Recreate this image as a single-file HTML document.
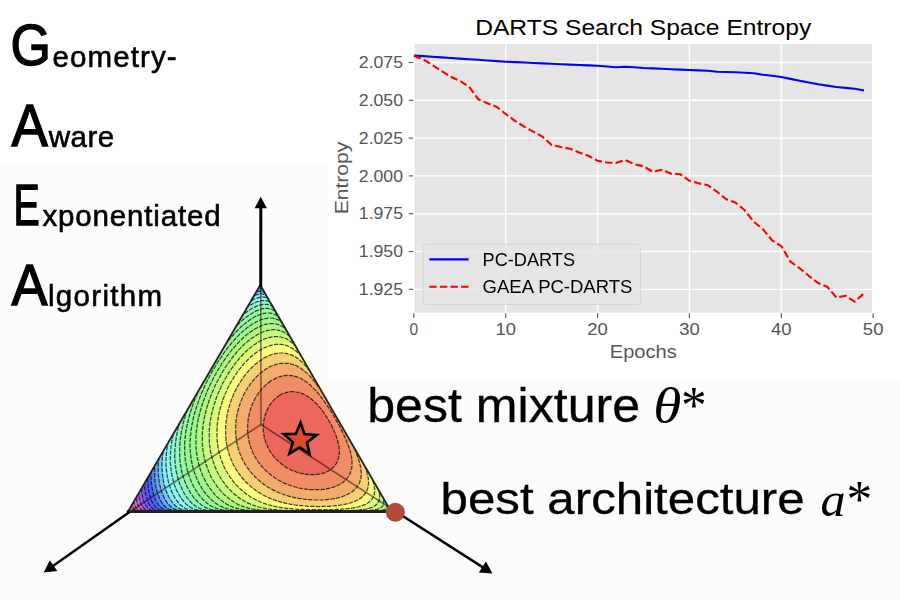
<!DOCTYPE html>
<html><head><meta charset="utf-8"><style>
html,body{margin:0;padding:0;background:#fff;}
body{width:900px;height:600px;overflow:hidden;position:relative;}
svg{position:absolute;left:0;top:0;display:block;}
</style></head><body>
<svg width="900" height="600" viewBox="0 0 900 600">
<rect x="0" y="0" width="900" height="600" fill="#ffffff"/>
<rect x="0" y="163" width="900" height="437" fill="#fcfcfc"/>
<defs><clipPath id="tc"><polygon points="260,285.5 128,511.5 391,511.5"/></clipPath></defs>
<g clip-path="url(#tc)">
<rect x="115" y="270" width="290" height="255" fill="#f05f8c"/>
<path d="M115.0 270.0 115.0 500.7 115.7 500.7 117.0 501.3 118.0 501.3 118.3 501.7 119.0 501.7 120.3 502.3 121.3 502.3 121.7 502.7 122.3 502.7 123.7 503.3 124.7 503.3 126.0 504.0 127.0 504.0 127.3 504.3 128.3 504.3 129.7 505.0 130.7 505.0 132.0 506.0 132.0 506.7 132.7 507.3 133.0 508.3 134.0 509.3 136.3 510.7 137.3 510.7 137.7 511.0 140.0 511.0 140.3 511.3 146.0 511.3 146.3 511.7 146.3 512.3 146.0 512.7 146.0 513.7 145.7 514.0 145.7 515.0 145.3 515.3 145.3 516.3 145.0 516.7 145.0 517.7 144.3 519.0 144.3 520.0 144.0 520.3 144.0 521.3 143.7 521.7 143.7 522.7 143.3 523.0 143.3 524.0 143.0 524.7 404.7 524.7 404.7 270.0Z" fill="#e664b4"/>
<path d="M115.0 270.0 115.0 496.0 115.7 496.0 116.0 496.3 116.7 496.3 117.0 496.7 117.7 496.7 118.0 497.0 118.7 497.0 119.0 497.3 119.7 497.3 120.0 497.7 120.7 497.7 121.0 498.0 121.7 498.0 123.0 498.7 124.0 498.7 124.3 499.0 125.0 499.0 125.3 499.3 126.0 499.3 126.3 499.7 127.0 499.7 128.3 500.3 129.3 500.3 129.7 500.7 130.3 500.7 130.7 501.0 133.3 501.7 134.0 502.7 134.7 505.3 135.7 507.3 138.0 509.7 139.3 510.3 141.3 510.7 141.7 511.0 144.0 511.0 144.3 511.3 150.3 511.3 150.7 511.7 150.7 512.7 150.3 513.0 150.0 515.3 149.3 516.7 149.3 517.7 149.0 518.0 149.0 519.0 148.7 519.3 148.7 520.3 148.3 520.7 148.3 521.7 148.0 522.0 148.0 523.0 147.7 523.3 147.7 524.3 147.3 524.7 404.7 524.7 404.7 270.0Z" fill="#d269dc"/>
<path d="M115.0 270.0 115.0 490.7 115.3 491.0 116.0 491.0 116.3 491.3 117.0 491.3 117.3 491.7 118.0 491.7 118.3 492.0 119.0 492.0 119.3 492.3 120.0 492.3 120.3 492.7 121.0 492.7 121.3 493.0 122.0 493.0 122.3 493.3 123.0 493.3 123.3 493.7 124.0 493.7 124.3 494.0 125.0 494.0 125.3 494.3 126.0 494.3 126.3 494.7 127.0 494.7 127.3 495.0 128.0 495.0 128.3 495.3 129.0 495.3 129.3 495.7 130.0 495.7 130.3 496.0 131.0 496.0 131.3 496.3 132.0 496.3 132.3 496.7 133.0 496.7 133.3 497.0 134.0 497.0 134.3 497.3 135.7 497.7 136.3 498.3 136.3 500.0 136.7 500.3 137.0 502.7 138.0 504.7 138.0 505.3 138.7 506.0 139.0 507.0 140.0 508.0 140.0 508.3 141.7 509.7 143.0 510.3 143.7 510.3 144.0 510.7 145.3 510.7 145.7 511.0 148.3 511.0 148.7 511.3 155.0 511.3 155.3 511.7 155.3 512.7 155.0 513.0 155.0 514.0 154.3 515.3 154.3 516.3 154.0 516.7 154.0 517.7 153.7 518.0 153.7 519.0 153.3 519.3 153.3 520.7 153.0 521.0 153.0 522.0 152.7 522.3 152.3 524.7 404.7 524.7 404.7 270.0Z" fill="#be64e6"/>
<path d="M115.0 270.0 115.0 485.3 116.3 485.7 116.7 486.0 117.3 486.0 118.3 486.7 119.0 486.7 119.3 487.0 120.0 487.0 120.3 487.3 121.0 487.3 121.3 487.7 122.0 487.7 122.3 488.0 123.0 488.0 123.3 488.3 124.0 488.3 124.3 488.7 125.0 488.7 125.3 489.0 126.0 489.0 126.3 489.3 127.0 489.3 127.3 489.7 128.0 489.7 128.3 490.0 129.0 490.0 129.3 490.3 130.0 490.3 130.3 490.7 131.0 490.7 131.3 491.0 132.0 491.0 132.3 491.3 133.0 491.3 133.3 491.7 134.0 491.7 134.3 492.0 135.0 492.0 135.3 492.3 138.0 493.0 138.7 493.7 138.7 494.7 139.0 495.0 139.0 497.0 139.3 497.3 139.3 498.7 139.7 499.0 140.0 501.3 141.0 503.3 141.0 504.0 141.7 505.3 143.0 507.0 143.0 507.3 145.7 509.7 147.0 510.0 147.3 510.3 148.0 510.3 148.3 510.7 149.7 510.7 150.0 511.0 153.0 511.0 153.3 511.3 160.0 511.3 160.3 511.7 160.3 512.3 160.0 512.7 160.0 513.7 159.7 514.0 159.7 515.0 159.3 515.3 159.3 516.3 159.0 516.7 159.0 517.7 158.7 518.0 158.7 519.0 158.3 519.3 158.3 520.3 158.0 520.7 158.0 521.7 157.7 522.0 157.7 523.0 157.3 523.3 157.3 524.3 157.0 524.7 404.7 524.7 404.7 270.0Z" fill="#9b5ff0"/>
<path d="M115.0 270.0 115.0 479.7 116.3 480.0 116.7 480.3 117.3 480.3 117.7 480.7 118.3 480.7 118.7 481.0 119.3 481.0 119.7 481.3 120.3 481.3 120.7 481.7 121.3 481.7 121.7 482.0 122.3 482.0 122.7 482.3 123.3 482.3 123.7 482.7 124.3 482.7 124.7 483.0 125.3 483.0 125.7 483.3 126.3 483.3 126.7 483.7 127.3 483.7 127.7 484.0 128.3 484.0 128.7 484.3 129.3 484.3 129.7 484.7 130.3 484.7 130.7 485.0 131.3 485.0 131.7 485.3 132.3 485.3 132.7 485.7 133.3 485.7 133.7 486.0 134.3 486.0 134.7 486.3 135.3 486.3 135.7 486.7 136.3 486.7 136.7 487.0 137.3 487.0 137.7 487.3 138.3 487.3 138.7 487.7 139.3 487.7 139.7 488.0 140.3 488.0 140.7 488.3 141.3 488.3 141.7 488.7 141.7 492.3 142.0 492.7 142.0 494.7 142.3 495.0 142.3 496.3 142.7 496.7 142.7 498.0 143.3 499.3 143.3 500.3 143.7 500.7 143.7 501.3 144.3 502.3 144.3 503.0 145.0 504.3 145.7 505.0 146.0 506.0 147.3 507.3 147.7 508.0 148.0 508.0 150.0 509.7 151.3 510.0 151.7 510.3 152.3 510.3 152.7 510.7 154.0 510.7 154.3 511.0 157.7 511.0 158.0 511.3 165.3 511.3 165.7 511.7 165.3 512.0 165.3 513.0 165.0 513.3 165.0 514.3 164.7 514.7 164.7 515.7 164.3 516.0 164.3 517.0 164.0 517.3 164.0 518.7 163.7 519.0 163.7 520.0 163.3 520.3 163.3 521.3 163.0 521.7 163.0 522.7 162.7 523.0 162.7 524.0 162.3 524.7 404.7 524.7 404.7 270.0Z" fill="#735af5"/>
<path d="M115.0 270.0 115.0 473.7 116.3 474.0 116.7 474.3 117.3 474.3 117.7 474.7 118.3 474.7 118.7 475.0 119.3 475.0 119.7 475.3 120.3 475.3 120.7 475.7 121.3 475.7 121.7 476.0 122.3 476.0 122.7 476.3 123.3 476.3 123.7 476.7 124.3 476.7 124.7 477.0 125.3 477.0 125.7 477.3 126.3 477.3 126.7 477.7 127.3 477.7 127.7 478.0 128.3 478.0 128.7 478.3 129.3 478.3 129.7 478.7 130.3 478.7 130.7 479.0 131.3 479.0 131.7 479.3 132.3 479.3 132.7 479.7 133.3 479.7 133.7 480.0 134.3 480.0 134.7 480.3 135.3 480.3 135.7 480.7 136.3 480.7 136.7 481.0 137.7 481.0 138.0 481.3 138.7 481.3 139.0 481.7 139.7 481.7 140.0 482.0 140.7 482.0 141.0 482.3 141.7 482.3 142.0 482.7 142.7 482.7 143.0 483.0 144.3 483.3 144.7 483.7 144.7 489.0 145.0 489.3 145.0 491.7 145.3 492.0 145.3 493.7 145.7 494.0 145.7 495.0 146.0 495.3 146.3 497.7 146.7 498.0 147.3 500.7 149.3 504.7 151.3 507.0 151.3 507.3 152.0 507.7 153.3 509.0 155.3 510.0 157.3 510.3 157.7 510.7 159.0 510.7 159.3 511.0 162.7 511.0 163.0 511.3 170.7 511.3 171.0 511.7 171.0 512.7 170.7 513.0 170.7 514.0 170.3 514.3 170.3 515.3 170.0 515.7 170.0 516.7 169.7 517.0 169.7 518.0 169.3 518.3 169.3 519.3 169.0 519.7 169.0 520.7 168.7 521.0 168.7 522.0 168.3 522.3 168.3 523.7 168.0 524.0 168.0 524.7 404.7 524.7 404.7 270.0Z" fill="#505cf5"/>
<path d="M115.0 270.0 115.0 467.7 115.7 467.7 117.0 468.3 118.0 468.3 118.3 468.7 119.0 468.7 119.3 469.0 120.0 469.0 120.3 469.3 121.0 469.3 121.3 469.7 122.0 469.7 122.3 470.0 123.0 470.0 124.3 470.7 125.3 470.7 125.7 471.0 126.3 471.0 126.7 471.3 127.3 471.3 127.7 471.7 128.3 471.7 128.7 472.0 129.3 472.0 130.7 472.7 131.7 472.7 132.0 473.0 132.7 473.0 133.0 473.3 133.7 473.3 134.0 473.7 134.7 473.7 135.0 474.0 135.7 474.0 136.0 474.3 136.7 474.3 138.0 475.0 139.0 475.0 139.3 475.3 140.0 475.3 140.3 475.7 141.0 475.7 141.3 476.0 142.0 476.0 143.3 476.7 144.3 476.7 144.7 477.0 147.3 477.7 147.7 478.0 147.7 483.3 148.0 483.7 148.0 487.0 148.3 487.3 148.3 489.7 148.7 490.0 148.7 491.3 149.0 491.7 149.0 493.0 149.3 493.3 149.7 495.7 150.0 496.0 150.7 498.7 151.3 499.7 151.3 500.3 152.7 503.0 153.3 503.7 153.7 504.7 154.7 505.7 154.7 506.0 156.7 508.0 157.0 508.0 158.7 509.3 160.0 509.7 160.3 510.0 161.0 510.0 161.3 510.3 164.0 510.7 164.3 511.0 168.0 511.0 168.3 511.3 176.7 511.3 177.0 511.7 176.7 512.3 176.7 513.3 176.3 513.7 176.3 514.7 176.0 515.0 176.0 516.0 175.7 516.3 175.7 517.3 175.3 517.7 175.3 518.7 175.0 519.0 175.0 520.0 174.7 520.3 174.7 521.7 174.3 522.0 174.0 524.3 173.7 524.7 404.7 524.7 404.7 270.0Z" fill="#4a64f2"/>
<path d="M115.0 270.0 115.0 461.0 115.3 461.3 116.0 461.3 117.3 462.0 118.3 462.0 118.7 462.3 119.3 462.3 120.7 463.0 121.7 463.0 122.0 463.3 122.7 463.3 124.0 464.0 125.0 464.0 125.3 464.3 126.0 464.3 126.3 464.7 127.0 464.7 128.3 465.3 129.3 465.3 129.7 465.7 130.3 465.7 131.7 466.3 132.7 466.3 133.0 466.7 133.7 466.7 135.0 467.3 136.0 467.3 136.3 467.7 137.0 467.7 138.3 468.3 139.3 468.3 139.7 468.7 140.3 468.7 141.7 469.3 142.7 469.3 143.0 469.7 143.7 469.7 145.0 470.3 146.0 470.3 146.3 470.7 147.0 470.7 148.3 471.3 150.3 471.7 151.0 472.3 151.0 480.0 151.3 480.3 151.3 484.0 151.7 484.3 151.7 486.3 152.0 486.7 152.0 488.3 152.3 488.7 152.7 491.7 153.3 493.0 153.3 494.0 153.7 494.3 154.3 497.0 155.0 498.0 155.0 498.7 157.0 502.7 157.7 503.3 158.3 504.7 161.7 508.0 165.3 510.0 166.3 510.0 166.7 510.3 167.7 510.3 168.0 510.7 169.7 510.7 170.0 511.0 173.7 511.0 174.0 511.3 183.0 511.3 183.3 511.7 183.0 512.0 183.0 513.0 182.7 513.3 182.7 514.3 182.3 514.7 182.3 515.7 182.0 516.0 182.0 517.0 181.7 517.3 181.7 518.3 181.3 518.7 181.3 519.7 181.0 520.0 181.0 521.0 180.7 521.3 180.7 522.3 180.3 522.7 180.0 524.7 404.7 524.7 404.7 270.0 269.3 270.0 267.3 274.0 266.7 274.7 264.3 279.7 263.7 280.3 261.3 285.3 260.3 286.3 259.7 286.3 259.0 285.0 258.3 284.3 254.0 275.7 253.3 275.0 251.7 271.3 250.7 270.0Z" fill="#5582f2"/>
<path d="M115.0 270.0 115.0 454.3 116.3 455.0 117.3 455.0 118.7 455.7 119.7 455.7 121.0 456.3 122.0 456.3 123.3 457.0 124.3 457.0 125.7 457.7 126.7 457.7 128.0 458.3 129.0 458.3 130.3 459.0 131.3 459.0 132.7 459.7 133.7 459.7 134.0 460.0 136.0 460.3 137.3 461.0 138.3 461.0 139.7 461.7 142.0 462.0 143.3 462.7 144.3 462.7 144.7 463.0 146.7 463.3 148.0 464.0 149.0 464.0 150.3 464.7 152.7 465.0 154.7 466.0 154.7 479.0 155.0 479.3 155.0 482.3 155.3 482.7 155.3 484.3 155.7 484.7 155.7 486.3 156.0 486.7 156.0 488.0 156.3 488.3 156.7 490.7 157.3 492.0 157.7 494.0 159.0 496.7 159.0 497.3 161.0 501.3 161.7 502.0 162.3 503.3 163.3 504.3 163.3 504.7 166.0 507.3 166.3 507.3 167.3 508.3 170.0 509.7 170.7 509.7 172.0 510.3 173.3 510.3 173.7 510.7 175.3 510.7 175.7 511.0 180.0 511.0 180.3 511.3 189.7 511.3 190.0 512.0 189.3 513.3 189.3 514.3 189.0 514.7 189.0 515.7 188.7 516.0 188.7 517.0 188.3 517.3 188.3 518.3 188.0 518.7 188.0 519.7 187.7 520.0 187.3 522.3 186.7 523.7 186.7 524.7 404.7 524.7 404.7 270.0 272.7 270.0 271.3 273.0 270.7 273.7 264.7 285.7 262.0 288.7 258.3 288.7 255.7 286.0 247.7 270.0Z" fill="#64a5f6"/>
<path d="M115.0 270.0 115.0 447.7 117.0 448.0 117.3 448.3 118.3 448.3 118.7 448.7 120.7 449.0 121.0 449.3 122.0 449.3 122.3 449.7 123.3 449.7 123.7 450.0 124.7 450.0 126.0 450.7 127.0 450.7 127.3 451.0 128.3 451.0 128.7 451.3 131.0 451.7 132.3 452.3 133.3 452.3 133.7 452.7 134.7 452.7 135.0 453.0 137.3 453.3 138.7 454.0 139.7 454.0 140.0 454.3 141.0 454.3 141.3 454.7 142.3 454.7 142.7 455.0 143.7 455.0 144.0 455.3 145.0 455.3 145.3 455.7 147.7 456.0 149.0 456.7 150.0 456.7 150.3 457.0 151.3 457.0 151.7 457.3 152.7 457.3 153.0 457.7 154.0 457.7 154.3 458.0 155.3 458.0 155.7 458.3 158.0 458.7 158.7 459.3 158.7 461.7 158.3 462.0 158.3 476.0 158.7 476.3 158.7 479.0 159.0 479.3 159.3 483.3 159.7 483.7 159.7 485.0 160.0 485.3 160.0 486.3 160.3 486.7 160.7 489.0 161.0 489.3 161.0 490.0 161.3 490.3 162.0 493.0 162.7 494.0 162.7 494.7 163.7 496.3 163.7 497.0 164.3 498.3 165.0 499.0 165.7 500.7 166.3 501.3 167.0 502.7 170.7 506.7 171.0 506.7 173.0 508.3 175.0 509.3 175.7 509.3 176.7 510.0 177.7 510.0 178.0 510.3 179.3 510.3 179.7 510.7 181.7 510.7 182.0 511.0 186.3 511.0 186.7 511.3 196.7 511.3 197.0 511.7 197.0 512.3 196.7 512.7 196.3 515.0 195.7 516.3 195.7 517.3 195.3 517.7 195.3 518.7 195.0 519.0 195.0 520.0 194.3 521.3 194.3 522.3 194.0 522.7 193.7 524.7 404.7 524.7 404.7 270.0 276.3 270.0 268.7 285.7 263.3 291.7 263.0 291.3 261.0 291.3 260.7 291.0 260.0 291.0 259.7 291.3 257.7 291.3 257.3 291.7 256.3 291.7 255.3 290.7 255.3 290.3 251.0 286.0 243.3 270.0Z" fill="#73c8f8"/>
<path d="M115.0 270.0 115.0 440.3 115.3 440.7 116.3 440.7 116.7 441.0 117.7 441.0 118.0 441.3 119.0 441.3 119.3 441.7 120.7 441.7 121.0 442.0 122.0 442.0 122.3 442.3 123.3 442.3 123.7 442.7 124.7 442.7 125.0 443.0 126.0 443.0 126.3 443.3 127.3 443.3 127.7 443.7 129.0 443.7 129.3 444.0 130.3 444.0 130.7 444.3 131.7 444.3 132.0 444.7 133.0 444.7 133.3 445.0 134.3 445.0 134.7 445.3 136.0 445.3 136.3 445.7 137.3 445.7 137.7 446.0 138.7 446.0 139.0 446.3 140.0 446.3 140.3 446.7 141.7 446.7 142.0 447.0 143.0 447.0 143.3 447.3 144.3 447.3 144.7 447.7 146.0 447.7 146.3 448.0 147.3 448.0 147.7 448.3 148.7 448.3 149.0 448.7 150.3 448.7 150.7 449.0 151.7 449.0 152.0 449.3 153.3 449.3 153.7 449.7 154.7 449.7 155.0 450.0 156.3 450.0 156.7 450.3 157.7 450.3 158.0 450.7 159.3 450.7 159.7 451.0 160.7 451.0 161.0 451.3 162.3 451.3 163.0 452.0 163.0 453.3 162.7 453.7 162.7 456.3 162.3 456.7 162.3 460.7 162.0 461.0 162.0 470.3 162.3 470.7 162.3 474.3 162.7 474.7 162.7 477.0 163.0 477.3 163.0 479.0 163.3 479.3 163.7 482.7 164.0 483.0 164.3 485.3 165.0 486.7 165.0 487.7 165.3 488.0 166.0 490.7 166.7 491.7 166.7 492.3 167.7 494.0 167.7 494.7 169.0 497.3 169.7 498.0 170.0 499.0 170.7 499.7 171.0 500.7 172.0 501.7 172.0 502.0 176.0 506.3 176.3 506.3 178.3 508.0 181.0 509.3 181.7 509.3 183.0 510.0 184.0 510.0 184.3 510.3 185.7 510.3 186.0 510.7 188.0 510.7 188.3 511.0 193.3 511.0 193.7 511.3 204.7 511.3 205.0 511.7 204.7 512.0 204.7 512.7 204.0 514.0 204.0 515.0 203.7 515.3 203.3 517.3 202.7 518.7 202.3 521.0 202.0 521.3 201.7 523.3 201.0 524.7 404.7 524.7 404.7 270.0 280.3 270.0 274.0 282.7 274.0 283.3 272.7 286.0 269.7 289.0 269.7 289.3 268.0 291.0 268.0 291.3 266.7 292.7 266.7 293.0 265.3 294.7 264.7 294.3 263.7 294.3 263.3 294.0 259.3 294.0 259.0 294.3 257.7 294.3 257.3 294.7 256.7 294.7 256.3 295.0 255.7 295.0 254.3 295.7 253.7 295.3 253.7 295.0 249.3 290.3 249.3 290.0 245.0 286.0 244.3 284.7 244.3 284.0 243.0 281.7 243.0 281.0 241.7 278.7 241.7 278.0 240.3 275.7 240.3 275.0 239.0 272.7 239.0 272.0 238.0 270.0Z" fill="#84f0f8"/>
<path d="M115.0 270.0 115.0 433.0 115.7 433.3 118.3 433.7 118.7 434.0 121.7 434.3 122.0 434.7 123.0 434.7 123.3 435.0 124.7 435.0 125.0 435.3 128.0 435.7 128.3 436.0 129.3 436.0 129.7 436.3 131.0 436.3 131.3 436.7 132.7 436.7 133.0 437.0 134.3 437.0 134.7 437.3 137.7 437.7 138.0 438.0 139.0 438.0 139.3 438.3 140.7 438.3 141.0 438.7 142.3 438.7 142.7 439.0 144.0 439.0 144.3 439.3 146.0 439.3 146.3 439.7 147.7 439.7 148.0 440.0 149.3 440.0 149.7 440.3 151.0 440.3 151.3 440.7 152.7 440.7 153.0 441.0 154.3 441.0 154.7 441.3 156.3 441.3 156.7 441.7 158.0 441.7 158.3 442.0 160.0 442.0 160.3 442.3 161.7 442.3 162.0 442.7 163.7 442.7 164.0 443.0 165.3 443.0 165.7 443.3 167.3 443.3 167.7 443.7 167.7 445.0 167.3 445.3 167.3 447.3 167.0 447.7 167.0 449.7 166.7 450.0 166.7 452.7 166.3 453.0 166.3 457.7 166.0 458.0 166.0 466.3 166.3 466.7 166.3 470.7 166.7 471.0 166.7 473.3 167.0 473.7 167.3 477.7 167.7 478.0 167.7 479.0 168.0 479.3 168.0 480.7 168.3 481.0 168.7 483.3 169.0 483.7 169.0 484.3 169.3 484.7 169.3 485.3 169.7 485.7 169.7 486.3 170.0 486.7 170.7 489.3 171.3 490.3 171.3 491.0 174.3 497.0 175.0 497.7 175.3 498.7 176.3 499.7 176.3 500.0 178.3 502.3 178.3 502.7 181.3 505.7 181.7 505.7 182.7 506.7 183.0 506.7 184.7 508.0 186.7 509.0 187.3 509.0 187.7 509.3 188.3 509.3 189.7 510.0 190.7 510.0 191.0 510.3 192.7 510.3 193.0 510.7 195.3 510.7 195.7 511.0 200.7 511.0 201.0 511.3 213.0 511.3 213.3 511.7 212.7 513.0 212.7 514.0 212.3 514.3 212.3 515.0 212.0 515.3 212.0 516.0 211.3 517.3 211.3 518.3 211.0 518.7 211.0 519.3 210.3 520.7 210.3 521.7 210.0 522.0 209.3 524.7 404.7 524.7 404.7 270.0 284.7 270.0 277.0 286.0 272.7 290.7 272.7 291.0 269.0 295.3 268.3 296.7 267.0 298.0 266.7 297.7 266.0 297.7 265.7 297.3 264.3 297.3 264.0 297.0 261.3 297.0 261.0 297.3 259.3 297.3 259.0 297.7 258.0 297.7 257.7 298.0 255.0 298.7 251.3 300.7 250.3 299.7 250.3 299.3 249.3 298.3 249.3 298.0 248.3 297.0 248.3 296.7 247.3 295.7 247.3 295.3 245.7 293.7 245.7 293.3 238.7 286.3 238.0 286.0 237.7 284.3 237.0 283.3 237.0 282.7 236.3 281.7 236.3 281.0 234.7 277.7 234.7 277.0 234.0 276.0 234.0 275.3 233.3 274.3 233.3 273.7 232.7 272.7 232.7 272.0 231.7 270.0Z" fill="#8cf8f0"/>
<path d="M115.0 270.0 115.0 425.3 115.7 425.3 116.0 425.7 117.7 425.7 118.0 426.0 119.3 426.0 119.7 426.3 121.0 426.3 121.3 426.7 123.0 426.7 123.3 427.0 124.7 427.0 125.0 427.3 126.7 427.3 127.0 427.7 128.3 427.7 128.7 428.0 130.3 428.0 130.7 428.3 132.3 428.3 132.7 428.7 136.3 429.0 136.7 429.3 138.0 429.3 138.3 429.7 140.0 429.7 140.3 430.0 142.3 430.0 142.7 430.3 144.3 430.3 144.7 430.7 146.3 430.7 146.7 431.0 148.7 431.0 149.0 431.3 150.7 431.3 151.0 431.7 153.0 431.7 153.3 432.0 155.3 432.0 155.7 432.3 157.7 432.3 158.0 432.7 160.0 432.7 160.3 433.0 162.3 433.0 162.7 433.3 165.0 433.3 165.3 433.7 167.7 433.7 168.0 434.0 170.3 434.0 170.7 434.3 172.7 434.3 173.0 434.7 172.7 437.3 172.3 437.7 172.3 439.0 172.0 439.3 172.0 441.0 171.7 441.3 171.7 443.0 171.3 443.3 171.3 445.3 171.0 445.7 171.0 448.3 170.7 448.7 170.7 452.3 170.3 452.7 170.3 464.3 170.7 464.7 170.7 468.0 171.0 468.3 171.3 473.0 171.7 473.3 172.0 476.3 172.3 476.7 172.3 477.7 172.7 478.0 173.0 480.3 173.7 481.7 173.7 482.7 174.0 483.0 174.7 485.7 175.3 486.7 175.3 487.3 176.0 488.3 176.0 489.0 179.0 495.0 179.7 495.7 180.0 496.7 180.7 497.3 181.3 498.7 183.7 501.3 183.7 501.7 187.0 505.0 187.3 505.0 188.3 506.0 188.7 506.0 190.3 507.3 193.7 509.0 194.3 509.0 195.7 509.7 196.7 509.7 197.0 510.0 198.0 510.0 198.3 510.3 200.0 510.3 200.3 510.7 202.7 510.7 203.0 511.0 208.7 511.0 209.0 511.3 222.0 511.3 222.3 511.7 222.3 512.3 222.0 512.7 222.0 513.3 221.7 513.7 221.7 514.3 221.3 514.7 221.3 515.3 221.0 515.7 221.0 516.3 220.7 516.7 220.7 517.3 220.3 517.7 220.3 518.3 220.0 518.7 220.0 519.3 219.7 519.7 219.7 520.3 219.3 520.7 219.3 521.3 219.0 521.7 219.0 522.3 218.7 522.7 218.7 523.3 218.0 524.7 404.7 524.7 404.7 270.0 289.3 270.0 287.0 274.3 287.0 275.0 284.7 279.3 284.7 280.0 282.7 283.7 282.7 284.3 282.0 285.7 276.0 292.3 276.0 292.7 273.0 296.3 272.3 297.7 271.3 298.7 271.3 299.0 269.3 301.7 268.0 301.3 267.7 301.0 267.0 301.0 266.7 300.7 260.7 300.7 260.3 301.0 259.3 301.0 259.0 301.3 256.3 302.0 255.3 302.7 254.7 302.7 252.7 303.7 252.0 304.3 250.3 305.0 247.7 307.0 247.0 306.3 245.7 303.7 245.0 303.0 245.0 302.7 244.3 302.0 244.3 301.7 243.7 301.0 242.3 298.7 241.3 297.7 241.3 297.3 240.3 296.3 240.3 296.0 239.0 294.7 239.0 294.3 236.7 292.0 236.7 291.7 230.3 285.7 230.0 284.3 229.7 284.0 229.7 283.3 229.3 283.0 229.3 282.3 229.0 282.0 229.0 281.3 228.3 280.3 228.3 279.7 228.0 279.3 227.3 276.7 226.7 275.7 226.3 274.0 225.7 273.0 225.7 272.3 225.3 272.0 225.3 271.3 224.7 270.0Z" fill="#8ef8d7"/>
<path d="M115.0 270.0 115.0 417.3 116.0 417.3 116.3 417.7 118.3 417.7 118.7 418.0 120.3 418.0 120.7 418.3 122.7 418.3 123.0 418.7 125.0 418.7 125.3 419.0 127.3 419.0 127.7 419.3 129.7 419.3 130.0 419.7 134.7 420.0 135.0 420.3 137.3 420.3 137.7 420.7 140.0 420.7 140.3 421.0 145.7 421.3 146.0 421.7 149.0 421.7 149.3 422.0 152.0 422.0 152.3 422.3 155.7 422.3 156.0 422.7 159.3 422.7 159.7 423.0 163.7 423.0 164.0 423.3 168.7 423.3 169.0 423.7 175.7 423.7 176.0 424.0 178.7 424.0 179.0 424.3 179.0 425.3 178.7 425.7 178.7 426.7 178.3 427.0 178.3 428.0 178.0 428.3 178.0 429.3 177.7 429.7 177.7 431.0 177.3 431.3 177.3 432.7 177.0 433.0 176.7 436.0 176.3 436.3 176.0 440.3 175.7 440.7 175.7 443.0 175.3 443.3 175.3 446.3 175.0 446.7 174.7 457.7 175.0 458.0 175.0 463.0 175.3 463.3 175.3 466.3 175.7 466.7 176.0 470.7 176.3 471.0 176.3 472.3 176.7 472.7 177.0 475.3 177.3 475.7 177.3 476.7 178.0 478.0 178.0 479.0 178.3 479.3 178.3 480.0 178.7 480.3 179.3 483.0 180.7 485.7 180.7 486.3 182.0 488.7 182.0 489.3 182.7 490.7 183.3 491.3 184.3 493.7 185.0 494.3 185.0 494.7 185.7 495.3 187.0 497.7 189.7 500.7 189.7 501.0 192.3 503.7 192.7 503.7 194.3 505.3 194.7 505.3 195.3 506.0 195.7 506.0 196.3 506.7 197.3 507.0 198.7 508.0 199.3 508.0 202.0 509.3 203.0 509.3 203.3 509.7 204.3 509.7 204.7 510.0 205.7 510.0 206.0 510.3 208.0 510.3 208.3 510.7 211.0 510.7 211.3 511.0 217.7 511.0 218.0 511.3 232.3 511.3 232.7 511.7 232.7 512.3 232.0 513.3 231.7 515.0 231.0 516.0 230.7 517.7 230.0 518.7 230.0 519.3 229.0 521.3 229.0 522.0 228.7 522.3 228.7 523.0 228.3 523.3 228.0 524.7 397.7 524.7 396.7 523.3 396.3 522.3 391.7 515.7 391.3 514.7 390.7 514.0 389.3 511.7 389.7 511.3 404.7 511.3 404.7 270.0 294.0 270.0 291.3 275.3 291.3 276.0 290.0 278.3 290.0 279.0 288.7 281.3 288.7 282.0 287.3 284.3 287.0 285.7 284.7 288.0 284.7 288.3 282.3 290.7 282.3 291.0 279.7 294.0 279.7 294.3 278.7 295.3 277.3 297.7 276.3 298.7 276.3 299.0 275.0 300.7 274.7 301.7 273.3 303.3 273.0 304.3 271.7 306.0 270.0 305.0 268.0 304.7 267.7 304.3 262.7 304.3 262.3 304.7 259.7 305.0 259.3 305.3 256.7 306.0 252.0 308.3 251.3 309.0 250.3 309.3 249.7 310.0 248.3 310.7 247.3 311.7 247.0 311.7 246.0 312.7 245.7 312.7 244.7 313.7 244.3 313.7 243.0 315.0 242.3 314.3 241.7 313.0 241.7 312.3 238.3 305.7 237.7 305.0 237.0 303.3 235.7 301.7 235.3 300.7 234.7 300.0 234.0 298.7 233.0 297.7 233.0 297.3 232.0 296.3 232.0 296.0 231.0 295.0 231.0 294.7 229.0 292.7 229.0 292.3 222.0 285.7 222.0 285.0 221.3 283.7 221.3 282.7 221.0 282.3 221.0 281.7 220.7 281.3 220.7 280.7 220.3 280.3 220.3 279.7 219.7 278.3 219.7 277.3 219.3 277.0 219.3 276.3 219.0 276.0 219.0 275.3 218.7 275.0 218.7 274.3 218.3 274.0 218.3 273.3 218.0 273.0 218.0 272.3 217.7 272.0 217.7 271.3 217.0 270.0Z" fill="#92f8b9"/>
<path d="M115.0 270.0 115.0 409.0 117.0 409.0 117.3 409.3 120.0 409.3 120.3 409.7 123.0 409.7 123.3 410.0 126.3 410.0 126.7 410.3 130.0 410.3 130.3 410.7 133.7 410.7 134.0 411.0 137.7 411.0 138.0 411.3 142.7 411.3 143.0 411.7 148.7 411.7 149.0 412.0 158.3 412.0 158.7 412.3 168.3 412.3 168.7 412.0 176.7 412.0 177.0 411.7 181.3 411.7 181.7 411.3 184.7 411.3 185.0 411.0 186.3 411.0 186.7 411.3 186.3 412.0 186.3 413.0 186.0 413.3 186.0 414.0 185.7 414.3 185.7 415.0 185.0 416.3 185.0 417.3 184.3 418.7 184.3 419.7 183.7 421.0 183.7 422.0 183.3 422.3 183.0 424.7 182.7 425.0 182.7 426.3 182.3 426.7 182.0 429.3 181.7 429.7 181.7 431.0 181.3 431.3 181.0 435.0 180.7 435.3 180.7 437.3 180.3 437.7 180.3 440.3 180.0 440.7 180.0 444.0 179.7 444.3 179.7 458.7 180.0 459.0 180.0 462.0 180.3 462.3 180.3 464.7 180.7 465.0 180.7 466.7 181.0 467.0 181.0 468.3 181.3 468.7 181.3 470.0 181.7 470.3 181.7 471.7 182.0 472.0 182.0 473.0 182.7 474.3 182.7 475.3 183.0 475.7 183.0 476.3 183.3 476.7 183.3 477.3 183.7 477.7 183.7 478.3 184.0 478.7 184.7 481.3 186.3 484.7 186.3 485.3 188.7 490.0 189.3 490.7 190.7 493.3 192.3 495.3 193.0 496.7 194.3 498.0 194.3 498.3 199.7 503.7 200.0 503.7 201.3 505.0 201.7 505.0 203.3 506.3 207.3 508.3 208.0 508.3 208.3 508.7 209.0 508.7 209.3 509.0 210.0 509.0 211.3 509.7 212.7 509.7 213.0 510.0 214.3 510.0 214.7 510.3 216.7 510.3 217.0 510.7 220.0 510.7 220.3 511.0 227.3 511.0 227.7 511.3 244.3 511.3 244.7 511.7 242.7 515.7 242.7 516.3 241.3 518.7 241.3 519.3 240.3 521.0 240.3 521.7 239.3 523.3 239.0 524.7 393.0 524.7 393.0 524.3 392.0 523.3 392.0 523.0 390.3 521.0 389.7 519.7 388.7 518.7 388.0 517.3 387.0 516.3 386.3 515.0 383.7 511.7 384.0 511.3 390.7 511.3 391.0 511.0 391.7 511.0 392.0 511.3 404.7 511.3 404.7 270.0 299.0 270.0 296.7 274.7 296.7 275.3 295.7 277.0 295.7 277.7 294.7 279.3 294.7 280.0 293.7 281.7 293.7 282.3 292.7 284.0 292.7 284.7 292.0 286.0 289.0 289.0 289.0 289.3 287.0 291.3 287.0 291.7 285.7 293.0 285.7 293.3 283.7 295.7 283.7 296.0 279.7 301.7 278.3 304.3 277.7 305.0 275.3 309.7 274.3 310.7 271.3 309.0 270.3 309.0 270.0 308.7 268.3 308.7 268.0 308.3 265.0 308.3 264.7 308.7 262.7 308.7 262.3 309.0 261.3 309.0 261.0 309.3 258.3 310.0 257.3 310.7 256.7 310.7 253.3 312.3 252.7 313.0 251.7 313.3 251.0 314.0 249.0 315.0 248.0 316.0 247.7 316.0 246.7 317.0 246.3 317.0 245.3 318.0 245.0 318.0 243.3 319.7 243.0 319.7 236.7 325.7 236.0 325.3 235.7 323.0 235.3 322.7 235.3 322.0 235.0 321.7 235.0 321.0 234.7 320.7 234.7 320.0 234.3 319.7 234.3 319.0 234.0 318.7 234.0 318.0 233.7 317.7 233.7 317.0 233.3 316.7 232.7 314.0 232.0 313.0 232.0 312.3 229.3 307.0 229.3 306.3 228.3 305.0 227.0 302.0 226.3 301.3 226.0 300.3 225.3 299.7 224.0 297.3 223.0 296.3 223.0 296.0 222.0 295.0 222.0 294.7 220.3 293.0 220.3 292.7 213.0 285.7 212.7 283.0 212.0 281.7 212.0 280.7 211.7 280.3 211.7 279.3 211.3 279.0 211.0 276.7 210.3 275.3 210.3 274.3 209.7 273.0 209.7 272.0 209.3 271.7 209.3 270.7 209.0 270.0Z" fill="#96f8a0"/>
<path d="M115.0 270.0 115.0 400.0 115.7 400.3 120.3 400.3 120.7 400.7 126.3 400.7 126.7 401.0 135.7 401.0 136.0 401.3 148.7 401.3 149.0 401.0 156.7 401.0 157.0 400.7 161.3 400.7 161.7 400.3 165.0 400.3 165.3 400.0 170.7 399.7 171.0 399.3 172.7 399.3 173.0 399.0 174.7 399.0 175.0 398.7 176.7 398.7 177.0 398.3 180.0 398.0 180.3 397.7 181.3 397.7 181.7 397.3 182.7 397.3 183.0 397.0 184.0 397.0 184.3 396.7 186.7 396.3 187.0 396.0 187.7 396.0 188.0 395.7 188.7 395.7 189.0 395.3 189.7 395.3 190.0 395.0 192.7 394.3 193.7 393.7 194.3 393.7 197.0 392.3 197.7 392.7 196.7 394.7 196.7 395.3 195.7 397.0 195.7 397.7 195.0 398.7 195.0 399.3 194.0 401.3 193.7 403.0 193.0 404.0 193.0 404.7 192.7 405.0 192.7 405.7 192.3 406.0 192.3 406.7 192.0 407.0 192.0 407.7 191.7 408.0 191.7 408.7 191.3 409.0 191.3 409.7 191.0 410.0 191.0 410.7 190.3 412.0 190.3 413.0 189.7 414.3 189.7 415.3 189.0 416.7 189.0 417.7 188.7 418.0 188.7 419.0 188.3 419.3 188.3 420.3 188.0 420.7 188.0 421.7 187.7 422.0 187.7 423.0 187.3 423.3 187.3 424.7 187.0 425.0 187.0 426.3 186.7 426.7 186.7 428.0 186.3 428.3 186.3 430.0 186.0 430.3 186.0 432.0 185.7 432.3 185.3 437.3 185.0 437.7 185.0 441.3 184.7 441.7 184.7 454.3 185.0 454.7 185.0 458.0 185.3 458.3 185.3 460.7 185.7 461.0 185.7 463.0 186.0 463.3 186.0 464.7 186.3 465.0 186.7 468.0 187.0 468.3 187.3 470.7 188.0 472.0 188.0 473.0 188.3 473.3 188.3 474.0 188.7 474.3 188.7 475.0 189.0 475.3 189.7 478.0 191.0 480.7 191.0 481.3 194.3 488.0 195.0 488.7 195.3 489.7 196.0 490.3 196.0 490.7 196.7 491.3 198.0 493.7 199.0 494.7 199.0 495.0 200.0 496.0 200.0 496.3 202.3 498.7 202.3 499.0 206.7 503.0 207.0 503.0 208.0 504.0 208.3 504.0 211.0 506.0 214.3 507.7 215.0 507.7 216.0 508.3 216.7 508.3 218.0 509.0 219.0 509.0 219.3 509.3 220.3 509.3 220.7 509.7 221.7 509.7 222.0 510.0 223.7 510.0 224.0 510.3 226.3 510.3 226.7 510.7 230.0 510.7 230.3 511.0 238.3 511.0 238.7 511.3 258.3 511.3 258.7 512.0 257.7 513.3 257.0 515.0 256.3 515.7 255.3 518.0 254.7 518.7 251.7 524.7 385.7 524.7 384.0 523.0 384.0 522.7 382.7 521.3 382.7 521.0 381.3 519.7 381.3 519.3 379.7 517.7 379.7 517.3 375.7 513.0 375.7 512.7 374.7 511.7 375.0 511.3 386.7 511.3 387.0 511.0 389.7 511.0 390.0 510.7 404.7 510.7 404.7 270.0 304.0 270.0 303.3 271.3 303.3 272.0 302.7 273.0 302.7 273.7 301.0 277.0 301.0 277.7 300.3 278.7 300.3 279.3 299.3 281.0 299.3 281.7 298.7 282.7 298.7 283.3 298.0 284.3 297.7 285.7 291.7 292.3 291.7 292.7 290.7 293.7 290.7 294.0 289.7 295.0 289.0 296.3 287.3 298.3 287.0 299.3 285.7 301.0 285.3 302.0 283.7 304.3 283.0 306.0 282.3 306.7 277.7 316.0 277.3 316.0 275.7 314.7 274.3 314.3 272.3 313.3 271.0 313.3 270.7 313.0 265.7 313.0 265.3 313.3 263.7 313.3 263.3 313.7 262.3 313.7 262.0 314.0 259.3 314.7 258.3 315.3 257.7 315.3 254.3 317.0 253.7 317.7 252.7 318.0 252.0 318.7 251.0 319.0 250.3 319.7 249.0 320.3 248.0 321.3 247.7 321.3 246.7 322.3 246.3 322.3 245.0 323.7 244.7 323.7 242.7 325.7 242.3 325.7 233.7 334.3 233.7 334.7 231.3 337.0 231.3 337.3 228.0 341.0 228.0 341.3 226.7 343.0 226.3 342.7 226.3 339.7 226.0 339.3 226.0 334.3 225.7 334.0 225.7 331.0 225.3 330.7 225.0 326.3 224.7 326.0 224.7 324.7 224.3 324.3 224.3 323.0 224.0 322.7 224.0 321.3 223.7 321.0 223.7 320.0 223.3 319.7 223.3 318.7 223.0 318.3 222.7 316.0 222.3 315.7 222.3 315.0 222.0 314.7 222.0 314.0 221.7 313.7 221.7 313.0 221.3 312.7 220.7 310.0 220.0 309.0 220.0 308.3 219.3 307.3 219.3 306.7 216.3 300.7 215.7 300.0 215.3 299.0 214.7 298.3 213.3 296.0 211.0 293.3 211.0 293.0 204.7 286.7 204.3 286.7 203.7 286.0 203.7 285.0 203.3 284.7 203.3 283.0 203.0 282.7 203.0 281.3 202.7 281.0 202.7 279.7 202.3 279.3 202.3 278.3 202.0 278.0 201.7 275.0 201.3 274.7 201.3 273.7 201.0 273.3 201.0 272.3 200.7 272.0 200.7 270.7 200.3 270.0Z" fill="#98f894"/>
<path d="M309.3 270.0 309.0 271.3 308.3 272.3 308.3 273.0 307.7 274.0 307.7 274.7 307.0 275.7 306.7 277.3 306.0 278.3 306.0 279.0 304.7 281.7 304.7 282.3 304.3 282.7 304.3 283.3 303.7 284.3 303.3 285.7 297.7 292.0 297.7 292.3 296.7 293.3 296.7 293.7 295.7 294.7 295.7 295.0 294.7 296.0 294.7 296.3 292.7 299.0 292.3 300.0 291.7 300.7 291.3 301.7 289.7 304.0 288.0 307.7 287.3 308.3 285.3 312.3 285.3 313.0 283.0 317.3 283.0 318.0 281.7 320.3 281.3 321.7 281.0 322.0 278.3 320.0 277.0 319.3 276.3 319.3 275.3 318.7 272.7 318.3 272.3 318.0 267.7 318.0 267.3 318.3 264.0 318.7 263.7 319.0 263.0 319.0 262.7 319.3 260.0 320.0 257.7 321.3 256.3 321.7 255.7 322.3 254.0 323.0 253.3 323.7 252.3 324.0 251.7 324.7 249.3 326.0 248.3 327.0 248.0 327.0 247.0 328.0 246.7 328.0 245.0 329.7 244.7 329.7 242.3 332.0 242.0 332.0 235.3 338.7 235.3 339.0 231.0 343.7 231.0 344.0 227.0 348.7 227.0 349.0 225.0 351.3 224.3 352.7 223.3 353.7 223.3 354.0 222.7 354.7 222.7 355.0 217.3 362.7 217.0 363.7 216.3 364.3 216.0 365.3 215.3 366.0 215.0 367.0 213.3 369.3 211.0 374.0 210.3 374.7 204.3 386.7 204.3 387.3 203.0 389.7 203.0 390.3 201.0 394.3 201.0 395.0 199.7 397.7 199.3 399.3 198.7 400.3 198.7 401.0 198.3 401.3 197.7 404.0 196.7 406.0 196.7 407.0 196.3 407.3 196.3 408.0 196.0 408.3 196.0 409.0 195.3 410.3 195.3 411.3 194.7 412.7 194.7 413.7 194.0 415.0 194.0 416.0 193.7 416.3 193.7 417.3 193.3 417.7 193.3 419.0 193.0 419.3 193.0 420.3 192.7 420.7 192.7 422.0 192.3 422.3 192.3 423.7 192.0 424.0 192.0 425.3 191.7 425.7 191.7 427.3 191.3 427.7 191.3 429.3 191.0 429.7 190.7 435.0 190.3 435.3 190.3 440.0 190.0 440.3 190.0 449.3 190.3 449.7 190.3 453.7 190.7 454.0 190.7 456.7 191.0 457.0 191.0 459.0 191.3 459.3 191.3 461.0 191.7 461.3 191.7 462.7 192.0 463.0 192.0 464.3 192.3 464.7 192.3 465.7 192.7 466.0 193.0 468.3 193.3 468.7 193.3 469.3 194.0 470.7 194.0 471.7 195.0 473.7 195.3 475.3 196.7 478.0 196.7 478.7 200.0 485.3 200.7 486.0 201.0 487.0 201.7 487.7 201.7 488.0 202.3 488.7 202.3 489.0 203.0 489.7 204.3 492.0 205.7 493.3 205.7 493.7 207.0 495.0 207.0 495.3 212.7 501.0 213.0 501.0 215.7 503.3 216.0 503.3 217.7 504.7 219.3 505.3 220.0 506.0 221.3 506.7 222.0 506.7 223.7 507.7 224.3 507.7 224.7 508.0 225.3 508.0 225.7 508.3 226.3 508.3 227.7 509.0 230.3 509.3 230.7 509.7 232.0 509.7 232.3 510.0 237.0 510.3 237.3 510.7 241.7 510.7 242.0 511.0 251.3 511.0 251.7 511.3 277.0 511.3 277.3 511.7 273.3 516.3 273.3 516.7 272.3 517.7 272.3 518.0 271.0 519.3 270.3 520.7 269.3 521.7 269.3 522.0 267.3 524.7 373.7 524.7 365.0 516.0 364.7 516.0 362.0 513.3 361.7 513.3 360.0 511.7 360.3 511.3 379.3 511.3 379.7 511.0 385.0 511.0 385.3 510.7 386.7 510.7 387.0 510.3 387.7 510.3 389.0 509.7 389.7 509.0 396.3 509.0 396.7 509.3 404.7 509.3 404.7 270.0ZM115.0 270.0 115.0 391.0 131.7 391.0 132.0 390.7 138.7 390.7 139.0 390.3 143.3 390.3 143.7 390.0 146.7 390.0 147.0 389.7 149.7 389.7 150.0 389.3 152.3 389.3 152.7 389.0 154.7 389.0 155.0 388.7 158.7 388.3 159.0 388.0 160.3 388.0 160.7 387.7 162.0 387.7 162.3 387.3 163.7 387.3 164.0 387.0 165.0 387.0 165.3 386.7 166.3 386.7 166.7 386.3 169.0 386.0 170.3 385.3 171.3 385.3 171.7 385.0 172.3 385.0 172.7 384.7 173.3 384.7 173.7 384.3 176.3 383.7 177.3 383.0 178.0 383.0 179.0 382.3 179.7 382.3 182.0 381.0 182.7 381.0 184.7 380.0 185.3 379.3 187.7 378.3 188.3 377.7 188.7 377.7 189.3 377.0 191.7 375.7 192.7 374.7 193.0 374.7 194.0 373.7 194.3 373.7 197.3 370.7 197.7 370.7 198.0 370.0 202.0 365.7 202.0 365.3 203.7 363.3 205.0 360.7 205.7 360.0 207.3 356.7 207.3 356.0 208.3 354.3 208.3 353.7 208.7 353.3 208.7 352.7 209.0 352.3 209.0 351.7 209.3 351.3 209.3 350.7 210.0 349.3 210.0 348.3 210.3 348.0 210.7 345.7 211.0 345.3 211.3 342.0 211.7 341.7 211.7 339.7 212.0 339.3 212.0 336.3 212.3 336.0 212.3 325.7 212.0 325.3 212.0 322.0 211.7 321.7 211.7 319.7 211.3 319.3 211.0 315.7 210.7 315.3 210.7 314.3 210.3 314.0 210.3 313.0 210.0 312.7 209.7 310.3 209.3 310.0 208.7 307.3 208.0 306.3 207.7 304.7 204.7 298.7 204.0 298.0 203.0 296.0 202.0 295.0 202.0 294.7 201.0 293.7 201.0 293.3 199.7 292.0 199.7 291.7 195.3 287.3 195.0 287.3 193.7 286.0 193.7 285.0 193.3 284.7 193.3 282.3 193.0 282.0 193.0 279.7 192.7 279.3 192.7 277.7 192.3 277.3 192.3 275.3 192.0 275.0 192.0 273.3 191.7 273.0 191.7 271.3 191.3 271.0 191.3 270.0Z" fill="#a0f88a"/>
<path d="M289.7 524.7 354.3 524.7 353.0 524.0 351.3 522.7 350.3 522.3 349.7 521.7 347.3 520.7 346.7 520.0 343.3 518.3 342.7 518.3 340.3 517.0 339.7 517.0 338.7 516.3 338.0 516.3 337.7 516.0 337.0 516.0 336.7 515.7 336.0 515.7 335.7 515.3 335.0 515.3 334.7 515.0 334.0 515.0 332.7 514.3 331.7 514.3 331.3 514.0 330.0 514.0 329.7 513.7 328.3 513.7 328.0 513.3 326.3 513.3 326.0 513.0 322.7 513.0 322.3 512.7 318.0 512.7 317.7 513.0 314.7 513.0 314.3 513.3 311.0 513.7 310.7 514.0 309.7 514.0 309.3 514.3 308.3 514.3 308.0 514.7 305.3 515.3 304.3 516.0 303.7 516.0 297.7 519.0 297.0 519.7 295.0 520.7 294.0 521.7 292.7 522.3 290.0 524.7ZM315.0 270.0 314.7 270.3 314.3 272.0 313.7 273.0 313.0 275.7 312.3 276.7 312.0 278.3 311.3 279.3 310.7 282.0 310.0 283.0 309.3 285.7 306.7 288.3 306.7 288.7 303.3 292.3 303.3 292.7 302.3 293.7 301.7 295.0 300.7 296.0 300.7 296.3 299.3 298.0 299.0 299.0 298.3 299.7 297.0 302.3 296.3 303.0 294.7 306.7 294.0 307.3 293.3 308.7 293.3 309.3 289.7 316.7 289.7 317.3 288.7 319.0 288.7 319.7 288.0 320.7 288.0 321.3 287.3 322.3 287.3 323.0 286.7 324.0 286.7 324.7 286.0 325.7 286.0 326.3 285.7 326.7 285.3 328.0 284.7 328.3 282.0 326.3 278.7 324.7 278.0 324.7 276.7 324.0 275.3 324.0 275.0 323.7 268.7 323.7 268.3 324.0 266.7 324.0 266.3 324.3 265.3 324.3 265.0 324.7 264.3 324.7 264.0 325.0 261.3 325.7 259.0 327.0 258.3 327.0 257.0 328.0 254.7 329.0 254.0 329.7 253.7 329.7 253.0 330.3 252.7 330.3 252.0 331.0 249.7 332.3 247.0 334.7 246.7 334.7 244.7 336.7 244.3 336.7 235.7 345.3 235.7 345.7 231.7 350.0 231.7 350.3 230.3 351.7 230.3 352.0 226.3 357.0 225.7 358.3 224.7 359.3 224.7 359.7 221.3 364.3 221.0 365.3 219.7 367.0 219.3 368.0 217.7 370.3 217.0 372.0 216.3 372.7 215.7 374.3 215.0 375.0 208.7 387.7 208.7 388.3 207.3 390.7 207.3 391.3 206.7 392.3 206.7 393.0 206.0 394.0 206.0 394.7 204.7 397.3 204.3 399.0 203.7 400.0 203.7 400.7 203.3 401.0 203.3 401.7 203.0 402.0 203.0 402.7 202.7 403.0 202.7 403.7 202.3 404.0 202.3 404.7 202.0 405.0 202.0 405.7 201.7 406.0 201.7 406.7 201.0 408.0 201.0 409.0 200.3 410.3 200.3 411.3 200.0 411.7 200.0 412.7 199.7 413.0 199.7 414.0 199.3 414.3 199.3 415.3 199.0 415.7 199.0 416.7 198.7 417.0 198.7 418.0 198.3 418.3 198.3 419.7 198.0 420.0 198.0 421.3 197.7 421.7 197.7 423.3 197.3 423.7 197.3 425.3 197.0 425.7 196.7 430.3 196.3 430.7 196.3 434.0 196.0 434.3 196.0 448.7 196.3 449.0 196.3 452.0 196.7 452.3 196.7 454.7 197.0 455.0 197.3 458.7 197.7 459.0 197.7 460.0 198.0 460.3 198.0 461.7 198.3 462.0 198.7 464.3 199.3 465.7 199.3 466.7 199.7 467.0 199.7 467.7 200.0 468.0 200.0 468.7 200.3 469.0 201.0 471.7 201.7 472.7 201.7 473.3 202.3 474.3 202.3 475.0 207.3 484.7 208.0 485.3 208.0 485.7 208.7 486.3 210.0 488.7 212.3 491.3 212.3 491.7 214.0 493.3 214.0 493.7 219.0 498.7 219.3 498.7 221.0 500.3 221.3 500.3 223.7 502.3 225.7 503.3 226.3 504.0 228.0 504.7 229.3 505.7 230.0 505.7 231.7 506.7 232.3 506.7 233.3 507.3 234.0 507.3 234.3 507.7 235.0 507.7 236.3 508.3 237.3 508.3 237.7 508.7 238.7 508.7 239.0 509.0 240.0 509.0 240.3 509.3 241.7 509.3 242.0 509.7 243.7 509.7 244.0 510.0 246.3 510.0 246.7 510.3 249.7 510.3 250.0 510.7 255.0 510.7 255.3 511.0 267.3 511.0 267.7 511.3 368.0 511.3 368.3 511.0 376.7 511.0 377.0 510.7 380.0 510.7 380.3 510.3 382.0 510.3 382.3 510.0 383.3 510.0 385.3 509.0 386.7 507.7 387.0 507.0 387.0 505.3 387.3 505.0 389.0 505.0 389.3 505.3 392.7 505.3 393.0 505.7 396.3 505.7 396.7 506.0 400.3 506.0 400.7 506.3 404.7 506.3 404.7 270.0ZM115.0 270.0 115.0 381.0 120.3 381.0 120.7 380.7 125.3 380.7 125.7 380.3 129.0 380.3 129.3 380.0 132.0 380.0 132.3 379.7 134.7 379.7 135.0 379.3 139.3 379.0 139.7 378.7 141.3 378.7 141.7 378.3 143.0 378.3 143.3 378.0 144.7 378.0 145.0 377.7 148.0 377.3 148.3 377.0 149.3 377.0 149.7 376.7 150.7 376.7 151.0 376.3 153.3 376.0 154.7 375.3 155.7 375.3 156.0 375.0 156.7 375.0 157.0 374.7 157.7 374.7 158.0 374.3 160.7 373.7 161.7 373.0 162.3 373.0 165.0 371.7 165.7 371.7 172.3 368.3 173.0 367.7 174.0 367.3 174.7 366.7 177.0 365.3 178.0 364.3 178.3 364.3 179.3 363.3 179.7 363.3 181.3 361.7 181.7 361.7 186.0 357.3 186.0 357.0 187.7 355.3 187.7 355.0 190.3 351.7 190.7 350.7 191.3 350.0 192.0 348.3 192.7 347.7 193.7 345.7 193.7 345.0 194.7 343.3 194.7 342.7 195.3 341.7 195.3 341.0 195.7 340.7 195.7 340.0 196.3 338.7 196.3 337.7 196.7 337.3 196.7 336.3 197.0 336.0 197.0 335.0 197.3 334.7 197.3 333.7 197.7 333.3 198.0 329.3 198.3 329.0 198.3 326.3 198.7 326.0 198.7 317.7 198.3 317.3 198.3 314.3 198.0 314.0 198.0 312.0 197.7 311.7 197.7 310.3 197.3 310.0 197.3 309.0 197.0 308.7 196.7 306.3 196.3 306.0 196.0 304.3 195.3 303.3 195.3 302.7 194.7 301.7 194.7 301.0 193.0 297.7 192.3 297.0 192.0 296.0 191.3 295.3 190.7 294.0 187.7 290.7 187.7 290.3 183.0 286.0 183.0 283.0 182.7 282.7 182.7 278.0 182.3 277.7 182.3 274.3 182.0 274.0 182.0 271.3 181.7 271.0 181.7 270.0Z" fill="#aff884"/>
<path d="M404.7 270.0 320.7 270.0 320.3 271.3 320.0 271.7 320.0 272.3 319.7 272.7 319.7 273.3 319.0 274.3 319.0 275.0 318.7 275.3 318.7 276.0 318.3 276.3 318.3 277.0 318.0 277.3 318.0 278.0 317.7 278.3 317.7 279.0 317.3 279.3 317.3 280.0 317.0 280.3 316.3 283.0 315.7 284.0 315.3 285.7 310.0 291.7 310.0 292.0 308.0 294.3 308.0 294.7 305.3 298.3 303.7 301.7 303.0 302.3 299.0 310.3 299.0 311.0 296.7 315.7 296.7 316.3 295.3 319.0 295.0 320.7 294.3 321.7 294.0 323.3 293.3 324.3 293.3 325.0 293.0 325.3 293.0 326.0 292.7 326.3 292.7 327.0 292.3 327.3 292.3 328.0 292.0 328.3 292.0 329.0 291.7 329.3 291.7 330.0 291.3 330.3 291.3 331.0 291.0 331.3 291.0 332.0 290.7 332.3 290.7 333.0 290.3 333.3 290.3 334.0 290.0 334.3 290.0 335.0 289.3 336.3 287.7 334.7 287.3 334.7 286.3 333.7 284.3 332.7 283.7 332.0 282.3 331.3 281.7 331.3 280.7 330.7 279.7 330.7 279.3 330.3 278.3 330.3 278.0 330.0 276.0 330.0 275.7 329.7 272.0 329.7 271.7 330.0 269.7 330.0 269.3 330.3 268.0 330.3 267.7 330.7 266.7 330.7 266.3 331.0 265.7 331.0 265.3 331.3 262.7 332.0 256.7 335.0 256.0 335.7 255.0 336.0 254.3 336.7 252.0 338.0 249.7 340.0 249.3 340.0 248.0 341.3 247.7 341.3 245.7 343.3 245.3 343.3 238.3 350.3 238.3 350.7 236.0 353.0 236.0 353.3 234.3 355.0 234.3 355.3 231.7 358.3 231.7 358.7 229.7 361.0 229.0 362.3 228.0 363.3 228.0 363.7 224.7 368.3 224.3 369.3 223.0 371.0 222.7 372.0 222.0 372.7 219.7 377.3 219.0 378.0 214.3 387.3 214.3 388.0 212.0 392.7 212.0 393.3 210.7 396.0 210.3 397.7 209.7 398.7 209.7 399.3 209.3 399.7 209.3 400.3 209.0 400.7 209.0 401.3 208.7 401.7 208.7 402.3 208.3 402.7 208.3 403.3 208.0 403.7 208.0 404.3 207.7 404.7 207.7 405.3 207.0 406.7 207.0 407.7 206.3 409.0 206.3 410.0 206.0 410.3 206.0 411.3 205.7 411.7 205.7 412.7 205.3 413.0 205.3 414.0 205.0 414.3 205.0 415.3 204.7 415.7 204.7 417.0 204.3 417.3 204.3 418.7 204.0 419.0 204.0 420.7 203.7 421.0 203.7 422.7 203.3 423.0 203.3 425.0 203.0 425.3 203.0 427.7 202.7 428.0 202.7 431.3 202.3 431.7 202.3 445.3 202.7 445.7 202.7 448.7 203.0 449.0 203.0 451.3 203.3 451.7 203.7 455.3 204.0 455.7 204.0 457.0 204.3 457.3 204.3 458.3 204.7 458.7 204.7 459.7 205.0 460.0 205.3 462.3 205.7 462.7 205.7 463.3 206.0 463.7 206.0 464.3 206.3 464.7 206.3 465.3 206.7 465.7 206.7 466.3 207.0 466.7 207.7 469.3 208.7 471.0 208.7 471.7 209.7 473.3 209.7 474.0 211.3 477.3 212.0 478.0 212.7 479.7 213.3 480.3 214.7 483.0 216.3 485.0 217.0 486.3 219.3 489.0 219.3 489.3 221.7 491.7 221.7 492.0 225.3 495.7 225.7 495.7 229.3 499.0 229.7 499.0 230.7 500.0 231.0 500.0 233.7 502.0 234.7 502.3 235.3 503.0 240.7 505.7 241.3 505.7 242.3 506.3 243.0 506.3 243.3 506.7 244.0 506.7 244.3 507.0 245.0 507.0 246.3 507.7 247.3 507.7 248.7 508.3 250.0 508.3 250.3 508.7 251.3 508.7 251.7 509.0 253.3 509.0 253.7 509.3 255.3 509.3 255.7 509.7 258.0 509.7 258.3 510.0 261.0 510.0 261.3 510.3 265.3 510.3 265.7 510.7 272.3 510.7 272.7 511.0 291.0 511.0 291.3 511.3 347.3 511.3 347.7 511.0 363.3 511.0 363.7 510.7 369.0 510.7 369.3 510.3 372.0 510.3 372.3 510.0 374.3 510.0 374.7 509.7 377.3 509.3 381.3 507.3 382.7 506.0 383.3 504.7 383.3 504.0 383.7 503.7 383.7 499.3 384.0 499.0 385.7 499.0 386.0 499.3 390.0 499.7 390.3 500.0 392.7 500.0 393.0 500.3 395.0 500.3 395.3 500.7 397.7 500.7 398.0 501.0 400.3 501.0 400.7 501.3 403.0 501.3 403.3 501.7 404.7 501.7ZM171.7 270.0 115.0 270.0 115.0 370.7 116.7 370.7 117.0 370.3 119.0 370.3 119.3 370.0 121.3 370.0 121.7 369.7 125.7 369.3 126.0 369.0 129.3 368.7 129.7 368.3 130.7 368.3 131.0 368.0 132.3 368.0 132.7 367.7 135.3 367.3 136.7 366.7 139.0 366.3 140.3 365.7 141.3 365.7 141.7 365.3 142.3 365.3 142.7 365.0 145.3 364.3 146.3 363.7 148.0 363.3 149.0 362.7 149.7 362.7 151.3 361.7 152.0 361.7 158.0 358.7 161.3 356.3 162.3 356.0 163.3 355.0 163.7 355.0 166.0 353.0 166.3 353.0 168.0 351.3 168.3 351.3 174.3 345.0 174.3 344.7 176.3 342.3 176.3 342.0 177.7 340.3 178.3 338.7 179.0 338.0 180.7 334.7 180.7 334.0 181.7 332.3 181.7 331.7 182.0 331.3 182.0 330.7 182.3 330.3 182.3 329.7 183.0 328.3 183.0 327.3 183.3 327.0 183.3 326.0 183.7 325.7 183.7 324.7 184.0 324.3 184.0 323.0 184.3 322.7 184.3 320.7 184.7 320.3 184.7 316.0 185.0 315.7 185.0 313.7 184.7 313.3 184.7 309.3 184.3 309.0 184.3 307.3 184.0 307.0 183.7 304.3 183.3 304.0 183.3 303.3 183.0 303.0 182.3 300.3 181.3 298.7 181.3 298.0 180.7 296.7 180.0 296.0 179.7 295.0 179.0 294.3 178.3 293.0 177.3 292.0 177.3 291.7 175.3 289.7 175.3 289.3 171.7 286.0 171.7 282.3 172.0 282.0 172.0 274.3 171.7 274.0Z" fill="#c8fa7d"/>
<path d="M404.7 270.0 326.7 270.0 326.3 270.3 326.3 271.0 326.0 271.3 326.0 272.0 325.7 272.3 325.7 273.0 325.0 274.3 325.0 275.3 324.7 275.7 324.7 276.3 324.3 276.7 324.3 277.3 324.0 277.7 324.0 278.3 323.7 278.7 323.7 279.3 323.3 279.7 323.3 280.3 323.0 280.7 323.0 281.3 322.7 281.7 322.7 282.3 322.0 283.7 321.7 285.7 317.7 290.0 317.7 290.3 316.3 291.7 316.3 292.0 315.3 293.0 314.7 294.3 313.0 296.3 312.7 297.3 311.0 299.7 310.3 301.3 309.7 302.0 307.0 307.3 307.0 308.0 305.7 310.3 305.7 311.0 305.0 312.0 305.0 312.7 304.3 313.7 304.3 314.3 303.0 317.0 302.7 318.7 302.0 319.7 302.0 320.3 301.7 320.7 301.7 321.3 301.3 321.7 301.3 322.3 301.0 322.7 301.0 323.3 300.7 323.7 300.7 324.3 300.3 324.7 300.3 325.3 300.0 325.7 300.0 326.3 299.7 326.7 299.7 327.3 299.0 328.7 299.0 329.7 298.7 330.0 298.7 330.7 298.0 332.0 298.0 333.0 297.3 334.3 297.3 335.3 296.7 336.7 296.7 337.7 296.3 338.0 296.3 339.0 295.7 340.3 295.7 341.3 295.3 341.7 295.3 342.7 295.0 343.0 295.0 344.0 294.3 345.0 292.0 342.7 291.7 342.7 290.3 341.3 290.0 341.3 287.3 339.3 285.3 338.3 284.7 338.3 284.3 338.0 283.7 338.0 283.3 337.7 282.7 337.7 281.3 337.0 279.7 337.0 279.3 336.7 273.0 336.7 272.7 337.0 271.0 337.0 270.7 337.3 269.3 337.3 268.0 338.0 267.0 338.0 266.0 338.7 264.3 339.0 258.3 342.0 257.7 342.7 256.7 343.0 256.0 343.7 253.7 345.0 249.3 348.7 249.0 348.7 246.0 351.7 245.7 351.7 239.3 358.3 239.3 358.7 237.7 360.3 237.7 360.7 236.3 362.0 236.3 362.3 235.0 363.7 235.0 364.0 233.0 366.3 233.0 366.7 228.3 373.3 228.0 374.3 227.3 375.0 226.0 377.7 225.3 378.3 224.0 381.3 223.3 382.0 221.0 386.7 221.0 387.3 219.3 390.3 219.3 391.0 218.3 392.7 218.3 393.3 217.7 394.3 217.7 395.0 216.3 397.7 216.3 398.3 216.0 398.7 216.0 399.3 215.7 399.7 215.7 400.3 215.3 400.7 215.3 401.3 215.0 401.7 215.0 402.3 214.7 402.7 214.7 403.3 214.3 403.7 214.3 404.3 213.7 405.7 213.7 406.7 213.0 408.0 213.0 409.0 212.7 409.3 212.7 410.3 212.3 410.7 212.3 411.7 212.0 412.0 212.0 413.0 211.7 413.3 211.7 414.3 211.3 414.7 211.0 418.0 210.7 418.3 210.7 419.7 210.3 420.0 210.3 422.0 210.0 422.3 210.0 424.7 209.7 425.0 209.7 428.0 209.3 428.3 209.3 443.0 209.7 443.3 209.7 446.3 210.0 446.7 210.0 448.7 210.3 449.0 210.7 452.7 211.0 453.0 211.3 455.7 211.7 456.0 211.7 457.0 212.3 458.3 212.3 459.3 212.7 459.7 212.7 460.3 213.0 460.7 213.0 461.3 213.3 461.7 213.3 462.3 213.7 462.7 214.3 465.3 215.0 466.3 215.0 467.0 216.0 468.7 216.0 469.3 219.0 475.3 219.7 476.0 220.0 477.0 220.7 477.7 221.0 478.7 221.7 479.3 223.0 481.7 224.0 482.7 224.0 483.0 225.0 484.0 225.0 484.3 226.0 485.3 226.0 485.7 228.0 487.7 228.0 488.0 233.7 493.7 234.0 493.7 235.7 495.3 236.0 495.3 238.7 497.7 239.0 497.7 241.7 499.7 242.7 500.0 243.3 500.7 245.0 501.3 245.7 502.0 248.3 503.3 249.0 503.3 250.7 504.3 251.3 504.3 252.3 505.0 253.0 505.0 254.0 505.7 256.0 506.0 256.3 506.3 257.0 506.3 258.3 507.0 259.3 507.0 259.7 507.3 262.0 507.7 262.3 508.0 265.7 508.3 266.0 508.7 267.7 508.7 268.0 509.0 270.0 509.0 270.3 509.3 272.7 509.3 273.0 509.7 276.3 509.7 276.7 510.0 281.0 510.0 281.3 510.3 288.0 510.3 288.3 510.7 302.0 510.7 302.3 511.0 337.0 511.0 337.3 510.7 350.0 510.7 350.3 510.3 356.0 510.3 356.3 510.0 360.0 510.0 360.3 509.7 362.7 509.7 363.0 509.3 366.7 509.0 367.0 508.7 368.0 508.7 368.3 508.3 369.3 508.3 369.7 508.0 371.3 507.7 375.7 505.3 377.7 503.3 379.0 501.0 379.0 500.3 379.3 500.0 379.3 498.7 379.7 498.3 379.7 494.3 379.3 494.0 379.3 492.3 379.0 492.0 379.0 491.0 379.3 490.7 380.0 491.0 381.0 491.0 381.3 491.3 382.7 491.3 383.0 491.7 384.3 491.7 384.7 492.0 386.0 492.0 386.3 492.3 387.7 492.3 388.0 492.7 389.3 492.7 389.7 493.0 392.7 493.3 393.0 493.7 394.7 493.7 395.0 494.0 398.3 494.3 398.7 494.7 400.3 494.7 400.7 495.0 402.3 495.0 402.7 495.3 404.3 495.3 404.7 495.7ZM161.0 270.0 115.0 270.0 115.0 359.3 118.0 359.0 118.3 358.7 119.3 358.7 119.7 358.3 120.7 358.3 121.0 358.0 122.0 358.0 122.3 357.7 124.7 357.3 125.0 357.0 125.7 357.0 127.0 356.3 128.0 356.3 128.3 356.0 131.0 355.3 132.0 354.7 132.7 354.7 134.7 353.7 135.3 353.7 136.3 353.0 137.0 353.0 145.0 349.0 145.7 348.3 146.7 348.0 147.3 347.3 147.7 347.3 148.3 346.7 150.7 345.3 151.7 344.3 152.0 344.3 153.0 343.3 153.3 343.3 155.7 341.0 156.0 341.0 161.0 335.7 161.0 335.3 163.0 333.0 163.0 332.7 164.3 331.0 164.7 330.0 165.3 329.3 167.7 324.7 167.7 324.0 168.3 323.0 168.3 322.3 169.0 321.0 169.0 320.0 169.7 318.7 169.7 317.7 170.0 317.3 170.0 316.0 170.3 315.7 170.3 313.3 170.7 313.0 170.7 306.0 170.3 305.7 170.3 303.7 170.0 303.3 169.7 301.0 169.3 300.7 168.7 298.0 166.7 294.0 166.0 293.3 165.3 292.0 164.3 291.0 164.3 290.7 162.0 288.3 162.0 288.0 161.3 287.7 159.7 286.0 159.7 285.3 160.0 285.0 160.0 283.0 160.3 282.7 160.3 280.0 160.7 279.7 160.7 276.3 161.0 276.0Z" fill="#dbfd7d"/>
<path d="M404.7 270.0 332.7 270.0 332.3 271.3 332.0 271.7 332.0 272.7 331.7 273.0 331.7 273.7 331.3 274.0 331.3 274.7 330.7 276.0 330.7 277.0 330.3 277.3 330.3 278.0 329.7 279.3 329.7 280.3 329.0 281.7 329.0 282.7 328.7 283.0 328.7 283.7 328.0 285.0 328.0 286.0 323.3 291.0 323.3 291.3 320.7 294.7 320.3 295.7 318.0 299.0 314.0 307.0 314.0 307.7 313.0 309.3 313.0 310.0 311.7 312.7 311.3 314.3 310.7 315.3 310.7 316.0 310.3 316.3 310.3 317.0 310.0 317.3 310.0 318.0 309.7 318.3 309.7 319.0 309.3 319.3 309.3 320.0 309.0 320.3 309.0 321.0 308.7 321.3 308.7 322.0 308.0 323.3 308.0 324.3 307.3 325.7 307.3 326.7 306.7 328.0 306.7 329.0 306.0 330.3 306.0 331.3 305.7 331.7 305.7 332.7 305.3 333.0 305.3 334.0 305.0 334.3 305.0 335.3 304.7 335.7 304.7 336.7 304.3 337.0 304.3 338.0 304.0 338.3 304.0 339.7 303.7 340.0 303.7 341.0 303.3 341.3 303.3 342.7 303.0 343.0 302.7 345.7 302.3 346.0 302.3 347.3 302.0 347.7 302.0 349.0 301.7 349.3 301.7 351.0 301.3 351.3 301.3 352.7 301.0 353.0 301.0 354.7 300.3 355.3 296.0 351.0 295.7 351.0 293.0 348.7 286.3 345.3 285.3 345.3 285.0 345.0 284.0 345.0 283.7 344.7 282.0 344.7 281.7 344.3 275.3 344.3 275.0 344.7 273.3 344.7 273.0 345.0 270.7 345.3 270.3 345.7 269.7 345.7 269.3 346.0 266.7 346.7 265.0 347.7 264.3 347.7 262.3 348.7 261.7 349.3 260.0 350.0 259.3 350.7 259.0 350.7 258.3 351.3 256.0 352.7 253.7 354.7 253.3 354.7 251.7 356.3 251.3 356.3 243.3 364.3 243.3 364.7 241.7 366.3 241.7 366.7 238.0 371.0 236.7 373.3 235.7 374.3 235.7 374.7 234.3 376.3 234.0 377.3 233.3 378.0 232.0 380.7 231.3 381.3 230.7 383.0 230.0 383.7 226.7 390.3 226.7 391.0 225.3 393.3 225.3 394.0 224.7 395.0 224.7 395.7 223.3 398.3 223.3 399.0 223.0 399.3 223.0 400.0 222.7 400.3 222.7 401.0 222.3 401.3 222.3 402.0 222.0 402.3 222.0 403.0 221.7 403.3 221.7 404.0 221.0 405.3 221.0 406.3 220.3 407.7 220.3 408.7 220.0 409.0 220.0 410.0 219.7 410.3 219.7 411.3 219.3 411.7 219.3 412.7 219.0 413.0 219.0 414.3 218.7 414.7 218.7 416.0 218.3 416.3 218.3 418.0 218.0 418.3 218.0 420.0 217.7 420.3 217.7 422.7 217.3 423.0 217.3 426.0 217.0 426.3 217.0 440.0 217.3 440.3 217.3 443.3 217.7 443.7 218.0 447.7 218.3 448.0 218.7 451.0 219.0 451.3 219.0 452.3 219.3 452.7 219.7 455.0 220.3 456.3 220.3 457.3 220.7 457.7 221.3 460.3 222.0 461.3 222.0 462.0 222.7 463.0 222.7 463.7 223.7 465.3 223.7 466.0 226.3 471.3 227.0 472.0 227.3 473.0 228.0 473.7 228.3 474.7 229.0 475.3 230.3 477.7 231.3 478.7 231.3 479.0 232.3 480.0 232.3 480.3 233.3 481.3 233.3 481.7 235.0 483.3 235.0 483.7 241.7 490.3 242.0 490.3 243.7 492.0 244.0 492.0 246.7 494.3 247.0 494.3 250.7 497.0 251.7 497.3 252.3 498.0 254.0 498.7 254.7 499.3 258.0 501.0 258.7 501.0 261.0 502.3 262.7 502.7 263.7 503.3 264.3 503.3 264.7 503.7 265.3 503.7 265.7 504.0 266.3 504.0 266.7 504.3 267.3 504.3 268.7 505.0 269.7 505.0 270.0 505.3 271.0 505.3 271.3 505.7 272.3 505.7 272.7 506.0 273.7 506.0 274.0 506.3 275.0 506.3 275.3 506.7 276.7 506.7 277.0 507.0 278.7 507.0 279.0 507.3 280.7 507.3 281.0 507.7 282.7 507.7 283.0 508.0 285.3 508.0 285.7 508.3 288.3 508.3 288.7 508.7 292.0 508.7 292.3 509.0 296.7 509.0 297.0 509.3 303.3 509.3 303.7 509.7 335.0 509.7 335.3 509.3 341.3 509.3 341.7 509.0 345.7 509.0 346.0 508.7 348.7 508.7 349.0 508.3 351.3 508.3 351.7 508.0 353.3 508.0 353.7 507.7 355.3 507.7 355.7 507.3 356.7 507.3 357.0 507.0 358.3 507.0 359.7 506.3 361.7 506.0 364.3 504.7 365.0 504.7 366.3 503.7 368.3 502.7 369.3 501.7 369.7 501.7 372.3 498.7 372.7 497.7 373.3 497.0 373.3 496.3 374.0 495.3 374.0 494.3 374.3 494.0 374.3 492.3 374.7 492.0 374.7 488.3 374.3 488.0 374.3 486.0 374.0 485.7 374.0 484.3 373.7 484.0 373.7 483.0 373.3 482.7 373.3 481.7 373.0 481.3 373.0 480.7 373.3 480.3 374.7 480.7 375.0 481.0 375.7 481.0 376.0 481.3 377.0 481.3 377.3 481.7 378.0 481.7 379.3 482.3 380.3 482.3 381.7 483.0 384.0 483.3 385.3 484.0 386.3 484.0 386.7 484.3 387.7 484.3 388.0 484.7 389.0 484.7 389.3 485.0 390.3 485.0 390.7 485.3 391.7 485.3 392.0 485.7 393.0 485.7 393.3 486.0 394.3 486.0 394.7 486.3 396.0 486.3 396.3 486.7 397.3 486.7 397.7 487.0 398.7 487.0 399.0 487.3 400.3 487.3 400.7 487.7 402.0 487.7 402.3 488.0 404.7 488.3ZM150.0 270.0 115.0 270.0 115.0 347.3 115.3 347.0 116.0 347.0 116.3 346.7 117.0 346.7 117.3 346.3 120.0 345.7 121.0 345.0 121.7 345.0 122.7 344.3 123.3 344.3 126.3 342.7 127.0 342.7 129.0 341.7 129.7 341.0 132.0 340.0 132.7 339.3 133.7 339.0 134.3 338.3 134.7 338.3 135.3 337.7 137.7 336.3 138.7 335.3 139.0 335.3 143.3 331.3 143.7 331.3 147.7 327.0 147.7 326.7 150.3 323.3 150.7 322.3 151.3 321.7 153.7 317.0 153.7 316.3 154.3 315.3 154.3 314.7 155.0 313.3 155.0 312.3 155.3 312.0 155.3 311.0 155.7 310.7 155.7 308.7 156.0 308.3 156.0 302.0 155.7 301.7 155.7 300.0 155.3 299.7 155.3 298.7 155.0 298.3 154.7 296.7 154.0 295.7 154.0 295.0 153.3 293.7 152.7 293.0 152.3 292.0 150.3 289.7 150.3 289.3 147.0 286.0 147.0 285.3 147.7 284.0 147.7 283.0 148.0 282.7 148.3 280.0 148.7 279.7 148.7 278.3 149.0 278.0 149.0 276.3 149.3 276.0 149.3 274.3 149.7 274.0Z" fill="#fdfd82"/>
<path d="M404.7 270.0 339.0 270.0 338.3 271.3 338.3 272.3 337.7 273.7 337.3 276.0 337.0 276.3 336.7 278.3 336.0 279.7 336.0 280.7 335.7 281.0 335.3 283.3 334.7 284.7 334.7 285.7 329.0 292.3 329.0 292.7 327.0 295.3 326.7 296.3 326.0 297.0 325.7 298.0 325.0 298.7 322.0 304.7 322.0 305.3 321.0 307.0 321.0 307.7 320.3 308.7 320.3 309.3 319.7 310.3 319.0 313.0 318.3 314.0 318.3 314.7 317.7 316.0 317.7 317.0 317.3 317.3 317.3 318.0 317.0 318.3 317.0 319.0 316.3 320.3 316.3 321.3 315.7 322.7 315.7 323.7 315.3 324.0 315.3 325.0 315.0 325.3 315.0 326.3 314.7 326.7 314.7 327.7 314.3 328.0 314.3 329.0 314.0 329.3 314.0 330.3 313.7 330.7 313.7 332.0 313.3 332.3 313.3 333.3 313.0 333.7 313.0 335.0 312.7 335.3 312.7 336.7 312.3 337.0 312.3 338.3 312.0 338.7 312.0 340.0 311.7 340.3 311.7 341.7 311.3 342.0 311.3 343.7 311.0 344.0 311.0 345.7 310.7 346.0 310.7 348.0 310.3 348.3 310.3 350.3 310.0 350.7 310.0 352.7 309.7 353.0 309.7 355.3 309.3 355.7 309.3 358.3 309.0 358.7 309.0 362.0 308.7 362.3 308.7 366.3 308.3 366.7 308.3 368.3 308.0 368.7 305.3 365.7 305.3 365.3 299.0 359.3 298.7 359.3 297.7 358.3 297.3 358.3 295.7 357.0 291.0 354.7 290.3 354.7 289.0 354.0 288.0 354.0 287.7 353.7 286.7 353.7 286.3 353.3 284.3 353.3 284.0 353.0 278.7 353.0 278.3 353.3 276.3 353.3 276.0 353.7 274.7 353.7 274.3 354.0 273.3 354.0 273.0 354.3 270.3 355.0 269.3 355.7 268.7 355.7 263.3 358.3 262.7 359.0 262.3 359.0 261.7 359.7 259.3 361.0 257.0 363.0 256.7 363.0 255.0 364.7 254.7 364.7 248.3 371.0 248.3 371.3 246.7 373.0 246.7 373.3 244.0 376.3 243.3 377.7 242.3 378.7 242.3 379.0 239.7 382.7 238.0 386.0 237.3 386.7 233.3 394.7 233.3 395.3 231.7 398.7 231.7 399.3 231.3 399.7 231.0 401.3 230.3 402.3 230.3 403.0 229.7 404.3 229.7 405.3 229.3 405.7 229.3 406.3 228.7 407.7 228.7 408.7 228.3 409.0 228.3 410.0 228.0 410.3 228.0 411.3 227.7 411.7 227.7 413.0 227.3 413.3 227.3 414.3 227.0 414.7 227.0 416.3 226.7 416.7 226.7 418.3 226.3 418.7 226.3 420.7 226.0 421.0 226.0 424.0 225.7 424.3 225.7 437.7 226.0 438.0 226.0 440.7 226.3 441.0 226.7 445.0 227.0 445.3 227.0 446.7 227.3 447.0 227.3 448.3 227.7 448.7 228.0 451.0 228.3 451.3 228.3 452.0 229.0 453.3 229.3 455.3 230.0 456.3 230.3 458.0 231.0 459.0 231.0 459.7 232.0 461.3 232.0 462.0 234.3 466.7 235.0 467.3 235.7 469.0 236.3 469.7 236.3 470.0 237.0 470.7 237.0 471.0 237.7 471.7 239.0 474.0 240.0 475.0 240.0 475.3 241.0 476.3 241.0 476.7 242.7 478.3 242.7 478.7 246.3 482.3 246.3 482.7 246.7 482.7 252.3 488.0 252.7 488.0 253.7 489.0 254.0 489.0 255.0 490.0 255.3 490.0 256.3 491.0 256.7 491.0 258.3 492.3 259.3 492.7 261.7 494.3 269.7 498.3 270.3 498.3 273.0 499.7 273.7 499.7 274.0 500.0 274.7 500.0 275.0 500.3 275.7 500.3 276.0 500.7 276.7 500.7 277.0 501.0 277.7 501.0 279.0 501.7 280.0 501.7 281.3 502.3 282.3 502.3 282.7 502.7 283.7 502.7 284.0 503.0 285.0 503.0 285.3 503.3 286.7 503.3 287.0 503.7 288.3 503.7 288.7 504.0 290.0 504.0 290.3 504.3 292.0 504.3 292.3 504.7 294.0 504.7 294.3 505.0 296.3 505.0 296.7 505.3 299.3 505.3 299.7 505.7 302.7 505.7 303.0 506.0 307.0 506.0 307.3 506.3 315.3 506.3 315.7 506.7 322.0 506.7 322.3 506.3 330.3 506.3 330.7 506.0 334.3 506.0 334.7 505.7 340.0 505.3 340.3 505.0 342.0 505.0 342.3 504.7 343.7 504.7 344.0 504.3 345.3 504.3 345.7 504.0 347.0 504.0 347.3 503.7 348.3 503.7 349.7 503.0 350.7 503.0 352.7 502.0 354.3 501.7 359.0 499.3 359.7 498.7 361.0 498.0 363.7 495.7 363.7 495.3 366.0 492.7 367.3 490.0 367.3 489.3 368.0 488.0 368.0 487.0 368.3 486.7 368.3 484.3 368.7 484.0 368.3 478.0 368.0 477.7 368.0 476.3 367.7 476.0 367.7 475.0 367.3 474.7 367.0 472.3 366.7 472.0 366.7 471.3 366.3 471.0 366.3 470.3 366.0 470.0 366.0 469.3 365.3 468.0 365.3 467.3 365.7 467.0 369.7 469.0 370.3 469.0 371.3 469.7 372.0 469.7 373.0 470.3 373.7 470.3 374.7 471.0 375.3 471.0 378.0 472.3 380.7 473.0 381.7 473.7 382.3 473.7 382.7 474.0 383.3 474.0 383.7 474.3 384.3 474.3 384.7 474.7 385.3 474.7 385.7 475.0 386.3 475.0 386.7 475.3 387.3 475.3 387.7 475.7 388.3 475.7 389.7 476.3 390.7 476.3 391.0 476.7 391.7 476.7 393.0 477.3 394.0 477.3 394.3 477.7 395.0 477.7 396.3 478.3 397.3 478.3 398.7 479.0 399.7 479.0 400.0 479.3 401.0 479.3 402.3 480.0 404.7 480.3ZM138.3 270.0 115.0 270.0 115.0 333.7 116.3 332.7 120.3 330.7 121.0 330.0 121.3 330.0 122.0 329.3 124.3 328.0 127.0 325.7 127.3 325.7 129.7 323.3 130.0 323.3 135.0 317.7 135.0 317.3 136.3 315.7 136.7 314.7 137.3 314.0 138.7 311.3 138.7 310.7 139.3 309.7 139.3 309.0 140.0 307.7 140.0 306.7 140.3 306.3 140.3 304.7 140.7 304.3 140.7 298.7 140.3 298.3 140.3 297.0 140.0 296.7 139.3 294.0 138.3 292.0 137.7 291.3 137.0 290.0 136.0 289.0 136.0 288.7 133.3 286.0 134.3 284.0 134.3 283.3 135.0 282.3 135.0 281.7 135.3 281.3 135.3 280.7 135.7 280.3 135.7 279.7 136.0 279.3 136.0 278.7 136.7 277.3 136.7 276.3 137.3 275.0 137.3 274.0 137.7 273.7 137.7 272.7 138.0 272.3Z" fill="#f7d076"/>
<path d="M404.7 270.0 345.3 270.0 345.0 270.3 345.0 271.3 344.7 271.7 344.3 274.0 343.7 275.3 343.7 276.3 343.3 276.7 343.3 277.7 343.0 278.0 343.0 279.0 342.7 279.3 342.7 280.7 342.3 281.0 342.3 282.0 342.0 282.3 342.0 283.3 341.7 283.7 341.3 286.0 339.0 288.3 339.0 288.7 336.3 291.7 336.3 292.0 334.3 294.7 334.0 295.7 333.3 296.3 333.0 297.3 332.3 298.0 330.0 302.7 330.0 303.3 329.0 305.0 329.0 305.7 327.7 308.3 327.7 309.0 327.3 309.3 327.3 310.0 327.0 310.3 327.0 311.0 326.7 311.3 326.7 312.0 326.3 312.3 326.3 313.0 326.0 313.3 326.0 314.0 325.3 315.3 325.3 316.3 324.7 317.7 324.7 318.7 324.3 319.0 324.3 320.0 323.7 321.3 323.7 322.7 323.3 323.0 323.3 324.0 323.0 324.3 323.0 325.3 322.7 325.7 322.7 327.0 322.3 327.3 322.3 328.7 322.0 329.0 322.0 330.3 321.7 330.7 321.7 332.0 321.3 332.3 321.3 333.7 321.0 334.0 320.7 337.7 320.3 338.0 320.0 342.3 319.7 342.7 319.3 348.0 319.0 348.3 319.0 351.7 318.7 352.0 318.7 356.0 318.3 356.3 318.3 364.7 318.0 365.0 318.0 370.0 318.3 370.3 318.3 377.7 318.7 378.0 318.7 381.7 319.0 382.0 319.0 384.7 319.3 385.0 319.3 387.3 319.0 387.7 317.7 386.0 317.7 385.7 316.7 384.7 316.7 384.3 315.7 383.3 315.7 383.0 314.3 381.7 314.3 381.3 313.0 380.0 313.0 379.7 311.0 377.7 311.0 377.3 305.7 372.0 305.3 372.0 303.7 370.3 303.3 370.3 301.0 368.3 300.0 368.0 299.3 367.3 298.3 367.0 297.7 366.3 296.3 365.7 295.7 365.7 294.7 365.0 294.0 365.0 293.7 364.7 293.0 364.7 291.7 364.0 290.7 364.0 290.3 363.7 289.0 363.7 288.7 363.3 280.3 363.3 280.0 363.7 278.3 363.7 278.0 364.0 277.0 364.0 276.7 364.3 276.0 364.3 275.7 364.7 273.0 365.3 272.0 366.0 271.3 366.0 268.0 367.7 267.3 368.3 266.3 368.7 265.7 369.3 264.3 370.0 263.3 371.0 263.0 371.0 262.0 372.0 261.7 372.0 260.3 373.3 260.0 373.3 254.0 379.3 254.0 379.7 252.3 381.3 252.3 381.7 250.0 384.3 250.0 384.7 247.3 388.3 247.0 389.3 245.3 391.7 242.3 397.7 242.3 398.3 240.7 401.7 240.3 403.3 239.7 404.3 239.7 405.0 239.0 406.3 239.0 407.3 238.7 407.7 238.3 409.7 237.7 411.0 237.7 412.3 237.3 412.7 237.0 415.3 236.7 415.7 236.3 419.7 236.0 420.0 236.0 422.7 235.7 423.0 235.7 435.7 236.0 436.0 236.0 438.3 236.3 438.7 236.7 442.7 237.0 443.0 237.3 445.7 237.7 446.0 237.7 447.0 238.3 448.3 238.3 449.3 238.7 449.7 239.3 452.3 240.0 453.3 240.0 454.0 240.7 455.0 240.7 455.7 241.7 457.3 241.7 458.0 243.3 461.3 244.0 462.0 244.7 463.7 245.3 464.3 245.7 465.3 246.3 466.0 247.0 467.3 248.0 468.3 248.0 468.7 250.0 471.0 250.0 471.3 251.3 472.7 251.3 473.0 254.7 476.3 254.7 476.7 255.3 477.3 255.7 477.3 261.0 482.3 261.3 482.3 263.7 484.3 264.0 484.3 268.7 487.7 270.3 488.3 271.0 489.0 277.0 492.0 277.7 492.0 279.3 493.0 280.0 493.0 281.0 493.7 282.7 494.0 283.7 494.7 284.3 494.7 284.7 495.0 285.3 495.0 286.7 495.7 287.7 495.7 289.0 496.3 290.0 496.3 290.3 496.7 291.3 496.7 291.7 497.0 292.7 497.0 293.0 497.3 294.0 497.3 294.3 497.7 297.3 498.0 297.7 498.3 299.3 498.3 299.7 498.7 301.3 498.7 301.7 499.0 303.7 499.0 304.0 499.3 306.7 499.3 307.0 499.7 311.0 499.7 311.3 500.0 323.7 500.0 324.0 499.7 327.7 499.7 328.0 499.3 330.7 499.3 331.0 499.0 334.7 498.7 335.0 498.3 336.3 498.3 336.7 498.0 339.0 497.7 340.3 497.0 341.3 497.0 341.7 496.7 343.3 496.3 344.3 495.7 345.0 495.7 347.3 494.3 348.0 494.3 348.7 493.7 350.3 493.0 351.0 492.3 352.3 491.7 356.3 488.0 356.3 487.7 357.7 486.3 358.0 485.3 358.7 484.7 359.7 482.7 359.7 482.0 360.0 481.7 360.0 481.0 360.7 479.7 360.7 478.7 361.0 478.3 361.0 476.0 361.3 475.7 361.3 471.7 361.0 471.3 361.0 468.7 360.7 468.3 360.7 466.7 360.3 466.3 360.3 465.3 360.0 465.0 359.7 462.7 359.3 462.3 359.3 461.7 358.7 460.3 358.7 459.3 358.0 458.3 358.0 457.7 357.7 457.3 357.3 455.7 356.7 454.7 356.7 454.0 356.0 453.0 356.0 452.3 354.0 448.3 354.3 447.7 354.7 447.7 357.0 449.7 357.3 449.7 362.0 453.0 363.0 453.3 364.7 454.7 366.3 455.3 367.0 456.0 368.7 456.7 369.3 457.3 379.3 462.3 380.0 462.3 382.3 463.7 383.0 463.7 384.7 464.7 385.3 464.7 386.3 465.3 387.0 465.3 388.0 466.0 388.7 466.0 391.3 467.3 393.0 467.7 394.0 468.3 396.7 469.0 397.7 469.7 398.3 469.7 398.7 470.0 399.3 470.0 399.7 470.3 400.3 470.3 400.7 470.7 401.3 470.7 401.7 471.0 402.3 471.0 403.7 471.7 404.7 471.7ZM126.0 270.0 115.0 270.0 115.0 316.7 117.7 314.0 117.7 313.7 119.3 312.0 119.3 311.7 121.0 309.7 121.3 308.7 122.0 308.0 123.0 306.0 123.0 305.3 123.3 305.0 123.3 304.3 124.0 303.0 124.0 302.0 124.3 301.7 124.3 299.0 124.7 298.3 124.3 298.0 124.3 295.3 124.0 295.0 124.0 294.0 123.3 293.0 123.3 292.3 122.3 290.3 121.7 289.7 121.0 288.3 118.7 286.0 119.7 284.7 120.3 283.0 121.0 282.3 122.7 279.0 122.7 278.3 124.7 274.3 124.7 273.7 125.0 273.3 125.3 271.7 126.0 270.7Z" fill="#f3ac6e"/>
<path d="M271.0 380.7 269.0 382.3 268.7 382.3 267.3 383.7 267.0 383.7 261.0 389.7 261.0 390.0 258.7 392.7 258.7 393.0 256.7 395.7 256.3 396.7 255.7 397.3 252.3 404.0 252.3 404.7 251.0 407.3 251.0 408.0 250.3 409.3 250.3 410.3 249.7 411.7 249.7 412.7 249.3 413.0 249.0 415.3 248.7 415.7 248.7 417.3 248.3 417.7 248.3 419.3 248.0 419.7 248.0 422.0 247.7 422.3 247.7 433.7 248.0 434.0 248.0 436.3 248.3 436.7 248.3 438.3 248.7 438.7 249.0 441.7 249.3 442.0 249.3 443.0 250.0 444.3 250.0 445.3 250.3 445.7 251.0 448.3 251.7 449.3 251.7 450.0 252.3 451.0 252.3 451.7 255.0 457.0 255.7 457.7 256.0 458.7 256.7 459.3 256.7 459.7 257.3 460.3 258.7 462.7 261.0 465.3 261.0 465.7 266.0 471.0 266.3 471.0 270.7 475.0 271.0 475.0 272.0 476.0 273.3 476.7 275.3 478.3 276.3 478.7 278.7 480.3 285.3 483.7 286.0 483.7 287.7 484.7 290.3 485.3 291.3 486.0 293.3 486.3 294.7 487.0 295.7 487.0 297.0 487.7 298.3 487.7 298.7 488.0 301.3 488.3 301.7 488.7 303.3 488.7 303.7 489.0 305.7 489.0 306.0 489.3 308.7 489.3 309.0 489.7 321.7 489.7 322.0 489.3 324.7 489.3 325.0 489.0 326.7 489.0 327.0 488.7 328.3 488.7 328.7 488.3 331.0 488.0 332.3 487.3 333.3 487.3 334.3 486.7 336.0 486.3 340.7 484.0 341.3 483.3 342.7 482.7 344.0 481.3 344.3 481.3 348.0 477.3 348.0 477.0 348.7 476.3 350.0 474.0 350.0 473.3 350.7 472.3 350.7 471.7 351.3 470.3 351.3 469.3 351.7 469.0 351.7 467.3 352.0 467.0 352.0 459.7 351.7 459.3 351.7 457.3 351.3 457.0 351.0 454.0 350.7 453.7 350.3 451.3 350.0 451.0 350.0 450.3 349.7 450.0 349.7 449.3 349.3 449.0 349.3 448.3 349.0 448.0 349.0 447.3 348.7 447.0 348.0 444.3 347.3 443.3 347.3 442.7 346.7 441.7 346.7 441.0 345.7 439.3 345.7 438.7 344.3 436.3 344.3 435.7 339.3 425.7 338.7 425.0 337.3 422.0 336.7 421.3 334.7 417.3 334.0 416.7 333.7 415.7 333.0 415.0 331.7 412.3 330.3 410.7 330.0 409.7 329.3 409.0 329.3 408.7 328.7 408.0 328.7 407.7 328.0 407.0 328.0 406.7 327.3 406.0 327.3 405.7 326.7 405.0 325.3 402.7 324.3 401.7 323.7 400.3 322.7 399.3 322.7 399.0 321.7 398.0 321.7 397.7 320.7 396.7 320.7 396.3 319.7 395.3 319.7 395.0 318.0 393.3 318.0 393.0 316.0 391.0 316.0 390.7 310.0 384.7 309.7 384.7 306.7 382.0 306.3 382.0 303.7 380.0 302.7 379.7 302.0 379.0 300.0 378.0 299.3 378.0 296.7 376.7 295.7 376.7 295.3 376.3 294.3 376.3 294.0 376.0 293.0 376.0 292.7 375.7 290.0 375.7 289.7 375.3 286.3 375.3 286.0 375.7 283.7 375.7 283.3 376.0 282.0 376.0 281.7 376.3 280.7 376.3 280.3 376.7 278.3 377.0ZM351.7 270.0 351.3 272.0 351.0 272.3 351.0 273.3 350.7 273.7 350.7 275.0 350.3 275.3 350.3 276.3 350.0 276.7 350.0 278.0 349.7 278.3 349.7 279.3 349.3 279.7 349.3 281.0 349.0 281.3 349.0 282.3 348.7 282.7 348.3 285.7 344.3 290.3 344.3 290.7 343.3 291.7 343.3 292.0 342.0 293.7 341.7 294.7 340.0 297.0 337.7 301.7 337.7 302.3 336.7 304.0 336.3 305.7 335.7 306.7 335.7 307.3 335.3 307.7 335.3 308.3 335.0 308.7 335.0 309.3 334.7 309.7 334.7 310.3 334.3 310.7 334.3 311.3 333.7 312.7 333.3 315.0 332.7 316.3 332.3 319.0 332.0 319.3 332.0 320.3 331.7 320.7 331.7 322.0 331.3 322.3 331.3 323.3 331.0 323.7 331.0 325.3 330.7 325.7 330.7 327.0 330.3 327.3 330.3 329.0 330.0 329.3 330.0 331.3 329.7 331.7 329.7 333.7 329.3 334.0 329.3 336.0 329.0 336.3 329.0 339.0 328.7 339.3 328.7 342.7 328.3 343.0 328.3 347.0 328.0 347.3 328.0 356.7 327.7 357.0 327.7 359.0 328.0 359.3 328.0 368.3 328.3 368.7 328.3 372.3 328.7 372.7 329.0 378.0 329.3 378.3 329.7 382.3 330.0 382.7 330.0 384.0 330.3 384.3 330.3 385.7 330.7 386.0 330.7 387.3 331.0 387.7 331.0 388.7 331.3 389.0 331.3 390.0 331.7 390.3 332.0 392.7 332.7 394.0 332.7 395.0 333.0 395.3 333.0 396.0 333.3 396.3 333.3 397.0 333.7 397.3 334.3 400.0 335.0 401.0 335.0 401.7 336.3 404.3 336.3 405.0 337.7 407.3 337.7 408.0 339.7 412.0 340.3 412.7 341.0 414.3 341.7 415.0 343.0 417.7 343.7 418.3 345.0 420.7 348.0 424.3 348.0 424.7 349.3 426.0 349.3 426.3 351.3 428.3 351.3 428.7 359.0 436.3 359.3 436.3 361.7 438.7 362.0 438.7 363.3 440.0 363.7 440.0 365.0 441.3 365.3 441.3 367.7 443.3 368.0 443.3 368.7 444.0 370.0 444.7 371.0 445.7 373.0 446.7 375.7 448.7 376.7 449.0 377.3 449.7 379.0 450.3 379.7 451.0 381.3 451.7 382.0 452.3 392.7 457.7 393.3 457.7 395.7 459.0 396.3 459.0 398.0 460.0 398.7 460.0 399.7 460.7 400.3 460.7 401.3 461.3 402.0 461.3 404.7 462.7 404.7 270.0Z" fill="#f08c66"/>
<path d="M280.0 395.0 279.3 395.7 278.0 396.3 277.0 397.3 276.7 397.3 272.0 402.0 272.0 402.3 270.7 403.7 270.7 404.0 269.3 405.7 266.0 412.3 266.0 413.0 265.7 413.3 265.7 414.0 265.3 414.3 265.3 415.0 264.7 416.3 264.3 419.0 264.0 419.3 264.0 420.7 263.7 421.0 263.7 423.3 263.3 423.7 263.3 432.0 263.7 432.3 263.7 434.7 264.0 435.0 264.3 438.0 264.7 438.3 264.7 439.3 265.0 439.7 265.0 440.3 265.3 440.7 266.0 443.3 267.7 446.7 267.7 447.3 268.7 448.7 269.7 451.0 270.3 451.7 271.7 454.0 274.0 456.7 274.0 457.0 279.7 462.7 280.0 462.7 282.7 465.0 283.0 465.0 286.7 467.7 293.3 471.0 295.0 471.3 296.0 472.0 296.7 472.0 298.0 472.7 299.0 472.7 299.3 473.0 300.3 473.0 300.7 473.3 301.7 473.3 302.0 473.7 303.3 473.7 303.7 474.0 305.0 474.0 305.3 474.3 308.0 474.3 308.3 474.7 316.0 474.7 316.3 474.3 318.7 474.3 319.0 474.0 320.3 474.0 320.7 473.7 321.7 473.7 322.0 473.3 323.0 473.3 323.3 473.0 325.0 472.7 326.7 471.7 328.0 471.3 328.7 470.7 330.7 469.7 334.7 466.0 334.7 465.7 336.3 463.7 337.7 461.0 337.7 460.3 338.3 459.3 338.3 458.3 338.7 458.0 338.7 457.0 339.0 456.7 339.0 454.7 339.3 454.3 339.3 449.0 339.0 448.7 339.0 446.3 338.7 446.0 338.7 444.3 338.3 444.0 338.3 443.0 338.0 442.7 338.0 441.3 337.7 441.0 337.3 439.0 337.0 438.7 336.3 436.0 335.7 435.0 335.3 433.3 334.3 431.7 334.3 431.0 330.0 422.3 329.3 421.7 327.7 418.3 327.0 417.7 327.0 417.3 326.3 416.7 326.3 416.3 325.7 415.7 325.7 415.3 325.0 414.7 323.7 412.3 322.7 411.3 322.7 411.0 321.7 410.0 321.7 409.7 320.3 408.3 320.3 408.0 318.3 406.0 318.3 405.7 313.0 400.3 312.7 400.3 311.0 398.7 310.7 398.7 309.7 397.7 309.3 397.7 306.7 395.7 302.7 393.7 302.0 393.7 301.0 393.0 300.3 393.0 299.0 392.3 296.0 392.0 295.7 391.7 289.3 391.7 289.0 392.0 287.7 392.0 287.3 392.3 286.3 392.3 286.0 392.7 283.3 393.3ZM358.3 270.0 358.0 270.7 358.0 272.0 357.7 272.3 357.7 273.7 357.3 274.0 357.3 275.0 357.0 275.3 357.0 276.7 356.7 277.0 356.7 278.7 356.3 279.0 356.3 280.3 356.0 280.7 356.0 282.0 355.7 282.3 355.3 285.7 350.0 292.3 349.7 293.3 348.3 295.0 345.3 301.0 345.3 301.7 344.0 304.3 344.0 305.0 343.7 305.3 343.7 306.0 343.3 306.3 343.3 307.0 343.0 307.3 343.0 308.0 342.7 308.3 342.7 309.0 342.0 310.3 342.0 311.3 341.7 311.7 341.7 312.7 341.3 313.0 341.3 314.0 341.0 314.3 341.0 315.3 340.7 315.7 340.7 316.7 340.3 317.0 340.0 320.0 339.7 320.3 339.3 324.0 339.0 324.3 339.0 326.3 338.7 326.7 338.7 328.7 338.3 329.0 338.3 331.7 338.0 332.0 338.0 335.0 337.7 335.3 337.7 340.0 337.3 340.3 337.3 358.0 337.7 358.3 337.7 362.7 338.0 363.0 338.0 366.0 338.3 366.3 338.7 371.0 339.0 371.3 339.3 375.0 339.7 375.3 340.0 378.3 340.3 378.7 340.3 379.7 340.7 380.0 340.7 381.0 341.0 381.3 341.0 382.3 341.3 382.7 341.7 385.0 342.3 386.3 342.3 387.3 342.7 387.7 342.7 388.3 343.0 388.7 343.0 389.3 343.3 389.7 344.0 392.3 344.7 393.3 345.0 395.0 345.7 396.0 345.7 396.7 346.7 398.3 346.7 399.0 350.0 405.7 350.7 406.3 351.3 408.0 352.0 408.7 352.3 409.7 353.0 410.3 353.0 410.7 353.7 411.3 353.7 411.7 354.3 412.3 355.7 414.7 356.7 415.7 356.7 416.0 358.7 418.3 358.7 418.7 360.0 420.0 360.0 420.3 362.3 422.7 362.3 423.0 369.7 430.3 370.0 430.3 372.3 432.7 372.7 432.7 375.7 435.3 376.0 435.3 379.7 438.3 381.0 439.0 382.0 440.0 382.3 440.0 384.0 441.3 385.0 441.7 386.7 443.0 387.7 443.3 389.3 444.7 391.0 445.3 391.7 446.0 394.0 447.0 394.7 447.7 404.7 452.7 404.7 270.0Z" fill="#ed685c"/>
<path d="M115.0 270.0 115.0 500.7 115.7 500.7 117.0 501.3 118.0 501.3 118.3 501.7 119.0 501.7 120.3 502.3 121.3 502.3 121.7 502.7 122.3 502.7 123.7 503.3 124.7 503.3 126.0 504.0 127.0 504.0 127.3 504.3 128.3 504.3 129.7 505.0 130.7 505.0 132.0 506.0 132.0 506.7 132.7 507.3 133.0 508.3 134.0 509.3 136.3 510.7 137.3 510.7 137.7 511.0 140.0 511.0 140.3 511.3 146.0 511.3 146.3 511.7 146.3 512.3 146.0 512.7 146.0 513.7 145.7 514.0 145.7 515.0 145.3 515.3 145.3 516.3 145.0 516.7 145.0 517.7 144.3 519.0 144.3 520.0 144.0 520.3 144.0 521.3 143.7 521.7 143.7 522.7 143.3 523.0 143.3 524.0 143.0 524.7 404.7 524.7 404.7 270.0Z" fill="none" stroke="#000" stroke-opacity="0.72" stroke-width="1.2" stroke-dasharray="4.5 1.2"/>
<path d="M115.0 270.0 115.0 496.0 115.7 496.0 116.0 496.3 116.7 496.3 117.0 496.7 117.7 496.7 118.0 497.0 118.7 497.0 119.0 497.3 119.7 497.3 120.0 497.7 120.7 497.7 121.0 498.0 121.7 498.0 123.0 498.7 124.0 498.7 124.3 499.0 125.0 499.0 125.3 499.3 126.0 499.3 126.3 499.7 127.0 499.7 128.3 500.3 129.3 500.3 129.7 500.7 130.3 500.7 130.7 501.0 133.3 501.7 134.0 502.7 134.7 505.3 135.7 507.3 138.0 509.7 139.3 510.3 141.3 510.7 141.7 511.0 144.0 511.0 144.3 511.3 150.3 511.3 150.7 511.7 150.7 512.7 150.3 513.0 150.0 515.3 149.3 516.7 149.3 517.7 149.0 518.0 149.0 519.0 148.7 519.3 148.7 520.3 148.3 520.7 148.3 521.7 148.0 522.0 148.0 523.0 147.7 523.3 147.7 524.3 147.3 524.7 404.7 524.7 404.7 270.0Z" fill="none" stroke="#000" stroke-opacity="0.72" stroke-width="1.2" stroke-dasharray="4.5 1.2"/>
<path d="M115.0 270.0 115.0 490.7 115.3 491.0 116.0 491.0 116.3 491.3 117.0 491.3 117.3 491.7 118.0 491.7 118.3 492.0 119.0 492.0 119.3 492.3 120.0 492.3 120.3 492.7 121.0 492.7 121.3 493.0 122.0 493.0 122.3 493.3 123.0 493.3 123.3 493.7 124.0 493.7 124.3 494.0 125.0 494.0 125.3 494.3 126.0 494.3 126.3 494.7 127.0 494.7 127.3 495.0 128.0 495.0 128.3 495.3 129.0 495.3 129.3 495.7 130.0 495.7 130.3 496.0 131.0 496.0 131.3 496.3 132.0 496.3 132.3 496.7 133.0 496.7 133.3 497.0 134.0 497.0 134.3 497.3 135.7 497.7 136.3 498.3 136.3 500.0 136.7 500.3 137.0 502.7 138.0 504.7 138.0 505.3 138.7 506.0 139.0 507.0 140.0 508.0 140.0 508.3 141.7 509.7 143.0 510.3 143.7 510.3 144.0 510.7 145.3 510.7 145.7 511.0 148.3 511.0 148.7 511.3 155.0 511.3 155.3 511.7 155.3 512.7 155.0 513.0 155.0 514.0 154.3 515.3 154.3 516.3 154.0 516.7 154.0 517.7 153.7 518.0 153.7 519.0 153.3 519.3 153.3 520.7 153.0 521.0 153.0 522.0 152.7 522.3 152.3 524.7 404.7 524.7 404.7 270.0Z" fill="none" stroke="#000" stroke-opacity="0.72" stroke-width="1.2" stroke-dasharray="4.5 1.2"/>
<path d="M115.0 270.0 115.0 485.3 116.3 485.7 116.7 486.0 117.3 486.0 118.3 486.7 119.0 486.7 119.3 487.0 120.0 487.0 120.3 487.3 121.0 487.3 121.3 487.7 122.0 487.7 122.3 488.0 123.0 488.0 123.3 488.3 124.0 488.3 124.3 488.7 125.0 488.7 125.3 489.0 126.0 489.0 126.3 489.3 127.0 489.3 127.3 489.7 128.0 489.7 128.3 490.0 129.0 490.0 129.3 490.3 130.0 490.3 130.3 490.7 131.0 490.7 131.3 491.0 132.0 491.0 132.3 491.3 133.0 491.3 133.3 491.7 134.0 491.7 134.3 492.0 135.0 492.0 135.3 492.3 138.0 493.0 138.7 493.7 138.7 494.7 139.0 495.0 139.0 497.0 139.3 497.3 139.3 498.7 139.7 499.0 140.0 501.3 141.0 503.3 141.0 504.0 141.7 505.3 143.0 507.0 143.0 507.3 145.7 509.7 147.0 510.0 147.3 510.3 148.0 510.3 148.3 510.7 149.7 510.7 150.0 511.0 153.0 511.0 153.3 511.3 160.0 511.3 160.3 511.7 160.3 512.3 160.0 512.7 160.0 513.7 159.7 514.0 159.7 515.0 159.3 515.3 159.3 516.3 159.0 516.7 159.0 517.7 158.7 518.0 158.7 519.0 158.3 519.3 158.3 520.3 158.0 520.7 158.0 521.7 157.7 522.0 157.7 523.0 157.3 523.3 157.3 524.3 157.0 524.7 404.7 524.7 404.7 270.0Z" fill="none" stroke="#000" stroke-opacity="0.72" stroke-width="1.2" stroke-dasharray="4.5 1.2"/>
<path d="M115.0 270.0 115.0 479.7 116.3 480.0 116.7 480.3 117.3 480.3 117.7 480.7 118.3 480.7 118.7 481.0 119.3 481.0 119.7 481.3 120.3 481.3 120.7 481.7 121.3 481.7 121.7 482.0 122.3 482.0 122.7 482.3 123.3 482.3 123.7 482.7 124.3 482.7 124.7 483.0 125.3 483.0 125.7 483.3 126.3 483.3 126.7 483.7 127.3 483.7 127.7 484.0 128.3 484.0 128.7 484.3 129.3 484.3 129.7 484.7 130.3 484.7 130.7 485.0 131.3 485.0 131.7 485.3 132.3 485.3 132.7 485.7 133.3 485.7 133.7 486.0 134.3 486.0 134.7 486.3 135.3 486.3 135.7 486.7 136.3 486.7 136.7 487.0 137.3 487.0 137.7 487.3 138.3 487.3 138.7 487.7 139.3 487.7 139.7 488.0 140.3 488.0 140.7 488.3 141.3 488.3 141.7 488.7 141.7 492.3 142.0 492.7 142.0 494.7 142.3 495.0 142.3 496.3 142.7 496.7 142.7 498.0 143.3 499.3 143.3 500.3 143.7 500.7 143.7 501.3 144.3 502.3 144.3 503.0 145.0 504.3 145.7 505.0 146.0 506.0 147.3 507.3 147.7 508.0 148.0 508.0 150.0 509.7 151.3 510.0 151.7 510.3 152.3 510.3 152.7 510.7 154.0 510.7 154.3 511.0 157.7 511.0 158.0 511.3 165.3 511.3 165.7 511.7 165.3 512.0 165.3 513.0 165.0 513.3 165.0 514.3 164.7 514.7 164.7 515.7 164.3 516.0 164.3 517.0 164.0 517.3 164.0 518.7 163.7 519.0 163.7 520.0 163.3 520.3 163.3 521.3 163.0 521.7 163.0 522.7 162.7 523.0 162.7 524.0 162.3 524.7 404.7 524.7 404.7 270.0Z" fill="none" stroke="#000" stroke-opacity="0.72" stroke-width="1.2" stroke-dasharray="4.5 1.2"/>
<path d="M115.0 270.0 115.0 473.7 116.3 474.0 116.7 474.3 117.3 474.3 117.7 474.7 118.3 474.7 118.7 475.0 119.3 475.0 119.7 475.3 120.3 475.3 120.7 475.7 121.3 475.7 121.7 476.0 122.3 476.0 122.7 476.3 123.3 476.3 123.7 476.7 124.3 476.7 124.7 477.0 125.3 477.0 125.7 477.3 126.3 477.3 126.7 477.7 127.3 477.7 127.7 478.0 128.3 478.0 128.7 478.3 129.3 478.3 129.7 478.7 130.3 478.7 130.7 479.0 131.3 479.0 131.7 479.3 132.3 479.3 132.7 479.7 133.3 479.7 133.7 480.0 134.3 480.0 134.7 480.3 135.3 480.3 135.7 480.7 136.3 480.7 136.7 481.0 137.7 481.0 138.0 481.3 138.7 481.3 139.0 481.7 139.7 481.7 140.0 482.0 140.7 482.0 141.0 482.3 141.7 482.3 142.0 482.7 142.7 482.7 143.0 483.0 144.3 483.3 144.7 483.7 144.7 489.0 145.0 489.3 145.0 491.7 145.3 492.0 145.3 493.7 145.7 494.0 145.7 495.0 146.0 495.3 146.3 497.7 146.7 498.0 147.3 500.7 149.3 504.7 151.3 507.0 151.3 507.3 152.0 507.7 153.3 509.0 155.3 510.0 157.3 510.3 157.7 510.7 159.0 510.7 159.3 511.0 162.7 511.0 163.0 511.3 170.7 511.3 171.0 511.7 171.0 512.7 170.7 513.0 170.7 514.0 170.3 514.3 170.3 515.3 170.0 515.7 170.0 516.7 169.7 517.0 169.7 518.0 169.3 518.3 169.3 519.3 169.0 519.7 169.0 520.7 168.7 521.0 168.7 522.0 168.3 522.3 168.3 523.7 168.0 524.0 168.0 524.7 404.7 524.7 404.7 270.0Z" fill="none" stroke="#000" stroke-opacity="0.72" stroke-width="1.2" stroke-dasharray="4.5 1.2"/>
<path d="M115.0 270.0 115.0 467.7 115.7 467.7 117.0 468.3 118.0 468.3 118.3 468.7 119.0 468.7 119.3 469.0 120.0 469.0 120.3 469.3 121.0 469.3 121.3 469.7 122.0 469.7 122.3 470.0 123.0 470.0 124.3 470.7 125.3 470.7 125.7 471.0 126.3 471.0 126.7 471.3 127.3 471.3 127.7 471.7 128.3 471.7 128.7 472.0 129.3 472.0 130.7 472.7 131.7 472.7 132.0 473.0 132.7 473.0 133.0 473.3 133.7 473.3 134.0 473.7 134.7 473.7 135.0 474.0 135.7 474.0 136.0 474.3 136.7 474.3 138.0 475.0 139.0 475.0 139.3 475.3 140.0 475.3 140.3 475.7 141.0 475.7 141.3 476.0 142.0 476.0 143.3 476.7 144.3 476.7 144.7 477.0 147.3 477.7 147.7 478.0 147.7 483.3 148.0 483.7 148.0 487.0 148.3 487.3 148.3 489.7 148.7 490.0 148.7 491.3 149.0 491.7 149.0 493.0 149.3 493.3 149.7 495.7 150.0 496.0 150.7 498.7 151.3 499.7 151.3 500.3 152.7 503.0 153.3 503.7 153.7 504.7 154.7 505.7 154.7 506.0 156.7 508.0 157.0 508.0 158.7 509.3 160.0 509.7 160.3 510.0 161.0 510.0 161.3 510.3 164.0 510.7 164.3 511.0 168.0 511.0 168.3 511.3 176.7 511.3 177.0 511.7 176.7 512.3 176.7 513.3 176.3 513.7 176.3 514.7 176.0 515.0 176.0 516.0 175.7 516.3 175.7 517.3 175.3 517.7 175.3 518.7 175.0 519.0 175.0 520.0 174.7 520.3 174.7 521.7 174.3 522.0 174.0 524.3 173.7 524.7 404.7 524.7 404.7 270.0Z" fill="none" stroke="#000" stroke-opacity="0.72" stroke-width="1.2" stroke-dasharray="4.5 1.2"/>
<path d="M115.0 270.0 115.0 461.0 115.3 461.3 116.0 461.3 117.3 462.0 118.3 462.0 118.7 462.3 119.3 462.3 120.7 463.0 121.7 463.0 122.0 463.3 122.7 463.3 124.0 464.0 125.0 464.0 125.3 464.3 126.0 464.3 126.3 464.7 127.0 464.7 128.3 465.3 129.3 465.3 129.7 465.7 130.3 465.7 131.7 466.3 132.7 466.3 133.0 466.7 133.7 466.7 135.0 467.3 136.0 467.3 136.3 467.7 137.0 467.7 138.3 468.3 139.3 468.3 139.7 468.7 140.3 468.7 141.7 469.3 142.7 469.3 143.0 469.7 143.7 469.7 145.0 470.3 146.0 470.3 146.3 470.7 147.0 470.7 148.3 471.3 150.3 471.7 151.0 472.3 151.0 480.0 151.3 480.3 151.3 484.0 151.7 484.3 151.7 486.3 152.0 486.7 152.0 488.3 152.3 488.7 152.7 491.7 153.3 493.0 153.3 494.0 153.7 494.3 154.3 497.0 155.0 498.0 155.0 498.7 157.0 502.7 157.7 503.3 158.3 504.7 161.7 508.0 165.3 510.0 166.3 510.0 166.7 510.3 167.7 510.3 168.0 510.7 169.7 510.7 170.0 511.0 173.7 511.0 174.0 511.3 183.0 511.3 183.3 511.7 183.0 512.0 183.0 513.0 182.7 513.3 182.7 514.3 182.3 514.7 182.3 515.7 182.0 516.0 182.0 517.0 181.7 517.3 181.7 518.3 181.3 518.7 181.3 519.7 181.0 520.0 181.0 521.0 180.7 521.3 180.7 522.3 180.3 522.7 180.0 524.7 404.7 524.7 404.7 270.0 269.3 270.0 267.3 274.0 266.7 274.7 264.3 279.7 263.7 280.3 261.3 285.3 260.3 286.3 259.7 286.3 259.0 285.0 258.3 284.3 254.0 275.7 253.3 275.0 251.7 271.3 250.7 270.0Z" fill="none" stroke="#000" stroke-opacity="0.72" stroke-width="1.2" stroke-dasharray="4.5 1.2"/>
<path d="M115.0 270.0 115.0 454.3 116.3 455.0 117.3 455.0 118.7 455.7 119.7 455.7 121.0 456.3 122.0 456.3 123.3 457.0 124.3 457.0 125.7 457.7 126.7 457.7 128.0 458.3 129.0 458.3 130.3 459.0 131.3 459.0 132.7 459.7 133.7 459.7 134.0 460.0 136.0 460.3 137.3 461.0 138.3 461.0 139.7 461.7 142.0 462.0 143.3 462.7 144.3 462.7 144.7 463.0 146.7 463.3 148.0 464.0 149.0 464.0 150.3 464.7 152.7 465.0 154.7 466.0 154.7 479.0 155.0 479.3 155.0 482.3 155.3 482.7 155.3 484.3 155.7 484.7 155.7 486.3 156.0 486.7 156.0 488.0 156.3 488.3 156.7 490.7 157.3 492.0 157.7 494.0 159.0 496.7 159.0 497.3 161.0 501.3 161.7 502.0 162.3 503.3 163.3 504.3 163.3 504.7 166.0 507.3 166.3 507.3 167.3 508.3 170.0 509.7 170.7 509.7 172.0 510.3 173.3 510.3 173.7 510.7 175.3 510.7 175.7 511.0 180.0 511.0 180.3 511.3 189.7 511.3 190.0 512.0 189.3 513.3 189.3 514.3 189.0 514.7 189.0 515.7 188.7 516.0 188.7 517.0 188.3 517.3 188.3 518.3 188.0 518.7 188.0 519.7 187.7 520.0 187.3 522.3 186.7 523.7 186.7 524.7 404.7 524.7 404.7 270.0 272.7 270.0 271.3 273.0 270.7 273.7 264.7 285.7 262.0 288.7 258.3 288.7 255.7 286.0 247.7 270.0Z" fill="none" stroke="#000" stroke-opacity="0.72" stroke-width="1.2" stroke-dasharray="4.5 1.2"/>
<path d="M115.0 270.0 115.0 447.7 117.0 448.0 117.3 448.3 118.3 448.3 118.7 448.7 120.7 449.0 121.0 449.3 122.0 449.3 122.3 449.7 123.3 449.7 123.7 450.0 124.7 450.0 126.0 450.7 127.0 450.7 127.3 451.0 128.3 451.0 128.7 451.3 131.0 451.7 132.3 452.3 133.3 452.3 133.7 452.7 134.7 452.7 135.0 453.0 137.3 453.3 138.7 454.0 139.7 454.0 140.0 454.3 141.0 454.3 141.3 454.7 142.3 454.7 142.7 455.0 143.7 455.0 144.0 455.3 145.0 455.3 145.3 455.7 147.7 456.0 149.0 456.7 150.0 456.7 150.3 457.0 151.3 457.0 151.7 457.3 152.7 457.3 153.0 457.7 154.0 457.7 154.3 458.0 155.3 458.0 155.7 458.3 158.0 458.7 158.7 459.3 158.7 461.7 158.3 462.0 158.3 476.0 158.7 476.3 158.7 479.0 159.0 479.3 159.3 483.3 159.7 483.7 159.7 485.0 160.0 485.3 160.0 486.3 160.3 486.7 160.7 489.0 161.0 489.3 161.0 490.0 161.3 490.3 162.0 493.0 162.7 494.0 162.7 494.7 163.7 496.3 163.7 497.0 164.3 498.3 165.0 499.0 165.7 500.7 166.3 501.3 167.0 502.7 170.7 506.7 171.0 506.7 173.0 508.3 175.0 509.3 175.7 509.3 176.7 510.0 177.7 510.0 178.0 510.3 179.3 510.3 179.7 510.7 181.7 510.7 182.0 511.0 186.3 511.0 186.7 511.3 196.7 511.3 197.0 511.7 197.0 512.3 196.7 512.7 196.3 515.0 195.7 516.3 195.7 517.3 195.3 517.7 195.3 518.7 195.0 519.0 195.0 520.0 194.3 521.3 194.3 522.3 194.0 522.7 193.7 524.7 404.7 524.7 404.7 270.0 276.3 270.0 268.7 285.7 263.3 291.7 263.0 291.3 261.0 291.3 260.7 291.0 260.0 291.0 259.7 291.3 257.7 291.3 257.3 291.7 256.3 291.7 255.3 290.7 255.3 290.3 251.0 286.0 243.3 270.0Z" fill="none" stroke="#000" stroke-opacity="0.72" stroke-width="1.2" stroke-dasharray="4.5 1.2"/>
<path d="M115.0 270.0 115.0 440.3 115.3 440.7 116.3 440.7 116.7 441.0 117.7 441.0 118.0 441.3 119.0 441.3 119.3 441.7 120.7 441.7 121.0 442.0 122.0 442.0 122.3 442.3 123.3 442.3 123.7 442.7 124.7 442.7 125.0 443.0 126.0 443.0 126.3 443.3 127.3 443.3 127.7 443.7 129.0 443.7 129.3 444.0 130.3 444.0 130.7 444.3 131.7 444.3 132.0 444.7 133.0 444.7 133.3 445.0 134.3 445.0 134.7 445.3 136.0 445.3 136.3 445.7 137.3 445.7 137.7 446.0 138.7 446.0 139.0 446.3 140.0 446.3 140.3 446.7 141.7 446.7 142.0 447.0 143.0 447.0 143.3 447.3 144.3 447.3 144.7 447.7 146.0 447.7 146.3 448.0 147.3 448.0 147.7 448.3 148.7 448.3 149.0 448.7 150.3 448.7 150.7 449.0 151.7 449.0 152.0 449.3 153.3 449.3 153.7 449.7 154.7 449.7 155.0 450.0 156.3 450.0 156.7 450.3 157.7 450.3 158.0 450.7 159.3 450.7 159.7 451.0 160.7 451.0 161.0 451.3 162.3 451.3 163.0 452.0 163.0 453.3 162.7 453.7 162.7 456.3 162.3 456.7 162.3 460.7 162.0 461.0 162.0 470.3 162.3 470.7 162.3 474.3 162.7 474.7 162.7 477.0 163.0 477.3 163.0 479.0 163.3 479.3 163.7 482.7 164.0 483.0 164.3 485.3 165.0 486.7 165.0 487.7 165.3 488.0 166.0 490.7 166.7 491.7 166.7 492.3 167.7 494.0 167.7 494.7 169.0 497.3 169.7 498.0 170.0 499.0 170.7 499.7 171.0 500.7 172.0 501.7 172.0 502.0 176.0 506.3 176.3 506.3 178.3 508.0 181.0 509.3 181.7 509.3 183.0 510.0 184.0 510.0 184.3 510.3 185.7 510.3 186.0 510.7 188.0 510.7 188.3 511.0 193.3 511.0 193.7 511.3 204.7 511.3 205.0 511.7 204.7 512.0 204.7 512.7 204.0 514.0 204.0 515.0 203.7 515.3 203.3 517.3 202.7 518.7 202.3 521.0 202.0 521.3 201.7 523.3 201.0 524.7 404.7 524.7 404.7 270.0 280.3 270.0 274.0 282.7 274.0 283.3 272.7 286.0 269.7 289.0 269.7 289.3 268.0 291.0 268.0 291.3 266.7 292.7 266.7 293.0 265.3 294.7 264.7 294.3 263.7 294.3 263.3 294.0 259.3 294.0 259.0 294.3 257.7 294.3 257.3 294.7 256.7 294.7 256.3 295.0 255.7 295.0 254.3 295.7 253.7 295.3 253.7 295.0 249.3 290.3 249.3 290.0 245.0 286.0 244.3 284.7 244.3 284.0 243.0 281.7 243.0 281.0 241.7 278.7 241.7 278.0 240.3 275.7 240.3 275.0 239.0 272.7 239.0 272.0 238.0 270.0Z" fill="none" stroke="#000" stroke-opacity="0.72" stroke-width="1.2" stroke-dasharray="4.5 1.2"/>
<path d="M115.0 270.0 115.0 433.0 115.7 433.3 118.3 433.7 118.7 434.0 121.7 434.3 122.0 434.7 123.0 434.7 123.3 435.0 124.7 435.0 125.0 435.3 128.0 435.7 128.3 436.0 129.3 436.0 129.7 436.3 131.0 436.3 131.3 436.7 132.7 436.7 133.0 437.0 134.3 437.0 134.7 437.3 137.7 437.7 138.0 438.0 139.0 438.0 139.3 438.3 140.7 438.3 141.0 438.7 142.3 438.7 142.7 439.0 144.0 439.0 144.3 439.3 146.0 439.3 146.3 439.7 147.7 439.7 148.0 440.0 149.3 440.0 149.7 440.3 151.0 440.3 151.3 440.7 152.7 440.7 153.0 441.0 154.3 441.0 154.7 441.3 156.3 441.3 156.7 441.7 158.0 441.7 158.3 442.0 160.0 442.0 160.3 442.3 161.7 442.3 162.0 442.7 163.7 442.7 164.0 443.0 165.3 443.0 165.7 443.3 167.3 443.3 167.7 443.7 167.7 445.0 167.3 445.3 167.3 447.3 167.0 447.7 167.0 449.7 166.7 450.0 166.7 452.7 166.3 453.0 166.3 457.7 166.0 458.0 166.0 466.3 166.3 466.7 166.3 470.7 166.7 471.0 166.7 473.3 167.0 473.7 167.3 477.7 167.7 478.0 167.7 479.0 168.0 479.3 168.0 480.7 168.3 481.0 168.7 483.3 169.0 483.7 169.0 484.3 169.3 484.7 169.3 485.3 169.7 485.7 169.7 486.3 170.0 486.7 170.7 489.3 171.3 490.3 171.3 491.0 174.3 497.0 175.0 497.7 175.3 498.7 176.3 499.7 176.3 500.0 178.3 502.3 178.3 502.7 181.3 505.7 181.7 505.7 182.7 506.7 183.0 506.7 184.7 508.0 186.7 509.0 187.3 509.0 187.7 509.3 188.3 509.3 189.7 510.0 190.7 510.0 191.0 510.3 192.7 510.3 193.0 510.7 195.3 510.7 195.7 511.0 200.7 511.0 201.0 511.3 213.0 511.3 213.3 511.7 212.7 513.0 212.7 514.0 212.3 514.3 212.3 515.0 212.0 515.3 212.0 516.0 211.3 517.3 211.3 518.3 211.0 518.7 211.0 519.3 210.3 520.7 210.3 521.7 210.0 522.0 209.3 524.7 404.7 524.7 404.7 270.0 284.7 270.0 277.0 286.0 272.7 290.7 272.7 291.0 269.0 295.3 268.3 296.7 267.0 298.0 266.7 297.7 266.0 297.7 265.7 297.3 264.3 297.3 264.0 297.0 261.3 297.0 261.0 297.3 259.3 297.3 259.0 297.7 258.0 297.7 257.7 298.0 255.0 298.7 251.3 300.7 250.3 299.7 250.3 299.3 249.3 298.3 249.3 298.0 248.3 297.0 248.3 296.7 247.3 295.7 247.3 295.3 245.7 293.7 245.7 293.3 238.7 286.3 238.0 286.0 237.7 284.3 237.0 283.3 237.0 282.7 236.3 281.7 236.3 281.0 234.7 277.7 234.7 277.0 234.0 276.0 234.0 275.3 233.3 274.3 233.3 273.7 232.7 272.7 232.7 272.0 231.7 270.0Z" fill="none" stroke="#000" stroke-opacity="0.72" stroke-width="1.2" stroke-dasharray="4.5 1.2"/>
<path d="M115.0 270.0 115.0 425.3 115.7 425.3 116.0 425.7 117.7 425.7 118.0 426.0 119.3 426.0 119.7 426.3 121.0 426.3 121.3 426.7 123.0 426.7 123.3 427.0 124.7 427.0 125.0 427.3 126.7 427.3 127.0 427.7 128.3 427.7 128.7 428.0 130.3 428.0 130.7 428.3 132.3 428.3 132.7 428.7 136.3 429.0 136.7 429.3 138.0 429.3 138.3 429.7 140.0 429.7 140.3 430.0 142.3 430.0 142.7 430.3 144.3 430.3 144.7 430.7 146.3 430.7 146.7 431.0 148.7 431.0 149.0 431.3 150.7 431.3 151.0 431.7 153.0 431.7 153.3 432.0 155.3 432.0 155.7 432.3 157.7 432.3 158.0 432.7 160.0 432.7 160.3 433.0 162.3 433.0 162.7 433.3 165.0 433.3 165.3 433.7 167.7 433.7 168.0 434.0 170.3 434.0 170.7 434.3 172.7 434.3 173.0 434.7 172.7 437.3 172.3 437.7 172.3 439.0 172.0 439.3 172.0 441.0 171.7 441.3 171.7 443.0 171.3 443.3 171.3 445.3 171.0 445.7 171.0 448.3 170.7 448.7 170.7 452.3 170.3 452.7 170.3 464.3 170.7 464.7 170.7 468.0 171.0 468.3 171.3 473.0 171.7 473.3 172.0 476.3 172.3 476.7 172.3 477.7 172.7 478.0 173.0 480.3 173.7 481.7 173.7 482.7 174.0 483.0 174.7 485.7 175.3 486.7 175.3 487.3 176.0 488.3 176.0 489.0 179.0 495.0 179.7 495.7 180.0 496.7 180.7 497.3 181.3 498.7 183.7 501.3 183.7 501.7 187.0 505.0 187.3 505.0 188.3 506.0 188.7 506.0 190.3 507.3 193.7 509.0 194.3 509.0 195.7 509.7 196.7 509.7 197.0 510.0 198.0 510.0 198.3 510.3 200.0 510.3 200.3 510.7 202.7 510.7 203.0 511.0 208.7 511.0 209.0 511.3 222.0 511.3 222.3 511.7 222.3 512.3 222.0 512.7 222.0 513.3 221.7 513.7 221.7 514.3 221.3 514.7 221.3 515.3 221.0 515.7 221.0 516.3 220.7 516.7 220.7 517.3 220.3 517.7 220.3 518.3 220.0 518.7 220.0 519.3 219.7 519.7 219.7 520.3 219.3 520.7 219.3 521.3 219.0 521.7 219.0 522.3 218.7 522.7 218.7 523.3 218.0 524.7 404.7 524.7 404.7 270.0 289.3 270.0 287.0 274.3 287.0 275.0 284.7 279.3 284.7 280.0 282.7 283.7 282.7 284.3 282.0 285.7 276.0 292.3 276.0 292.7 273.0 296.3 272.3 297.7 271.3 298.7 271.3 299.0 269.3 301.7 268.0 301.3 267.7 301.0 267.0 301.0 266.7 300.7 260.7 300.7 260.3 301.0 259.3 301.0 259.0 301.3 256.3 302.0 255.3 302.7 254.7 302.7 252.7 303.7 252.0 304.3 250.3 305.0 247.7 307.0 247.0 306.3 245.7 303.7 245.0 303.0 245.0 302.7 244.3 302.0 244.3 301.7 243.7 301.0 242.3 298.7 241.3 297.7 241.3 297.3 240.3 296.3 240.3 296.0 239.0 294.7 239.0 294.3 236.7 292.0 236.7 291.7 230.3 285.7 230.0 284.3 229.7 284.0 229.7 283.3 229.3 283.0 229.3 282.3 229.0 282.0 229.0 281.3 228.3 280.3 228.3 279.7 228.0 279.3 227.3 276.7 226.7 275.7 226.3 274.0 225.7 273.0 225.7 272.3 225.3 272.0 225.3 271.3 224.7 270.0Z" fill="none" stroke="#000" stroke-opacity="0.72" stroke-width="1.2" stroke-dasharray="4.5 1.2"/>
<path d="M115.0 270.0 115.0 417.3 116.0 417.3 116.3 417.7 118.3 417.7 118.7 418.0 120.3 418.0 120.7 418.3 122.7 418.3 123.0 418.7 125.0 418.7 125.3 419.0 127.3 419.0 127.7 419.3 129.7 419.3 130.0 419.7 134.7 420.0 135.0 420.3 137.3 420.3 137.7 420.7 140.0 420.7 140.3 421.0 145.7 421.3 146.0 421.7 149.0 421.7 149.3 422.0 152.0 422.0 152.3 422.3 155.7 422.3 156.0 422.7 159.3 422.7 159.7 423.0 163.7 423.0 164.0 423.3 168.7 423.3 169.0 423.7 175.7 423.7 176.0 424.0 178.7 424.0 179.0 424.3 179.0 425.3 178.7 425.7 178.7 426.7 178.3 427.0 178.3 428.0 178.0 428.3 178.0 429.3 177.7 429.7 177.7 431.0 177.3 431.3 177.3 432.7 177.0 433.0 176.7 436.0 176.3 436.3 176.0 440.3 175.7 440.7 175.7 443.0 175.3 443.3 175.3 446.3 175.0 446.7 174.7 457.7 175.0 458.0 175.0 463.0 175.3 463.3 175.3 466.3 175.7 466.7 176.0 470.7 176.3 471.0 176.3 472.3 176.7 472.7 177.0 475.3 177.3 475.7 177.3 476.7 178.0 478.0 178.0 479.0 178.3 479.3 178.3 480.0 178.7 480.3 179.3 483.0 180.7 485.7 180.7 486.3 182.0 488.7 182.0 489.3 182.7 490.7 183.3 491.3 184.3 493.7 185.0 494.3 185.0 494.7 185.7 495.3 187.0 497.7 189.7 500.7 189.7 501.0 192.3 503.7 192.7 503.7 194.3 505.3 194.7 505.3 195.3 506.0 195.7 506.0 196.3 506.7 197.3 507.0 198.7 508.0 199.3 508.0 202.0 509.3 203.0 509.3 203.3 509.7 204.3 509.7 204.7 510.0 205.7 510.0 206.0 510.3 208.0 510.3 208.3 510.7 211.0 510.7 211.3 511.0 217.7 511.0 218.0 511.3 232.3 511.3 232.7 511.7 232.7 512.3 232.0 513.3 231.7 515.0 231.0 516.0 230.7 517.7 230.0 518.7 230.0 519.3 229.0 521.3 229.0 522.0 228.7 522.3 228.7 523.0 228.3 523.3 228.0 524.7 397.7 524.7 396.7 523.3 396.3 522.3 391.7 515.7 391.3 514.7 390.7 514.0 389.3 511.7 389.7 511.3 404.7 511.3 404.7 270.0 294.0 270.0 291.3 275.3 291.3 276.0 290.0 278.3 290.0 279.0 288.7 281.3 288.7 282.0 287.3 284.3 287.0 285.7 284.7 288.0 284.7 288.3 282.3 290.7 282.3 291.0 279.7 294.0 279.7 294.3 278.7 295.3 277.3 297.7 276.3 298.7 276.3 299.0 275.0 300.7 274.7 301.7 273.3 303.3 273.0 304.3 271.7 306.0 270.0 305.0 268.0 304.7 267.7 304.3 262.7 304.3 262.3 304.7 259.7 305.0 259.3 305.3 256.7 306.0 252.0 308.3 251.3 309.0 250.3 309.3 249.7 310.0 248.3 310.7 247.3 311.7 247.0 311.7 246.0 312.7 245.7 312.7 244.7 313.7 244.3 313.7 243.0 315.0 242.3 314.3 241.7 313.0 241.7 312.3 238.3 305.7 237.7 305.0 237.0 303.3 235.7 301.7 235.3 300.7 234.7 300.0 234.0 298.7 233.0 297.7 233.0 297.3 232.0 296.3 232.0 296.0 231.0 295.0 231.0 294.7 229.0 292.7 229.0 292.3 222.0 285.7 222.0 285.0 221.3 283.7 221.3 282.7 221.0 282.3 221.0 281.7 220.7 281.3 220.7 280.7 220.3 280.3 220.3 279.7 219.7 278.3 219.7 277.3 219.3 277.0 219.3 276.3 219.0 276.0 219.0 275.3 218.7 275.0 218.7 274.3 218.3 274.0 218.3 273.3 218.0 273.0 218.0 272.3 217.7 272.0 217.7 271.3 217.0 270.0Z" fill="none" stroke="#000" stroke-opacity="0.72" stroke-width="1.2" stroke-dasharray="4.5 1.2"/>
<path d="M115.0 270.0 115.0 409.0 117.0 409.0 117.3 409.3 120.0 409.3 120.3 409.7 123.0 409.7 123.3 410.0 126.3 410.0 126.7 410.3 130.0 410.3 130.3 410.7 133.7 410.7 134.0 411.0 137.7 411.0 138.0 411.3 142.7 411.3 143.0 411.7 148.7 411.7 149.0 412.0 158.3 412.0 158.7 412.3 168.3 412.3 168.7 412.0 176.7 412.0 177.0 411.7 181.3 411.7 181.7 411.3 184.7 411.3 185.0 411.0 186.3 411.0 186.7 411.3 186.3 412.0 186.3 413.0 186.0 413.3 186.0 414.0 185.7 414.3 185.7 415.0 185.0 416.3 185.0 417.3 184.3 418.7 184.3 419.7 183.7 421.0 183.7 422.0 183.3 422.3 183.0 424.7 182.7 425.0 182.7 426.3 182.3 426.7 182.0 429.3 181.7 429.7 181.7 431.0 181.3 431.3 181.0 435.0 180.7 435.3 180.7 437.3 180.3 437.7 180.3 440.3 180.0 440.7 180.0 444.0 179.7 444.3 179.7 458.7 180.0 459.0 180.0 462.0 180.3 462.3 180.3 464.7 180.7 465.0 180.7 466.7 181.0 467.0 181.0 468.3 181.3 468.7 181.3 470.0 181.7 470.3 181.7 471.7 182.0 472.0 182.0 473.0 182.7 474.3 182.7 475.3 183.0 475.7 183.0 476.3 183.3 476.7 183.3 477.3 183.7 477.7 183.7 478.3 184.0 478.7 184.7 481.3 186.3 484.7 186.3 485.3 188.7 490.0 189.3 490.7 190.7 493.3 192.3 495.3 193.0 496.7 194.3 498.0 194.3 498.3 199.7 503.7 200.0 503.7 201.3 505.0 201.7 505.0 203.3 506.3 207.3 508.3 208.0 508.3 208.3 508.7 209.0 508.7 209.3 509.0 210.0 509.0 211.3 509.7 212.7 509.7 213.0 510.0 214.3 510.0 214.7 510.3 216.7 510.3 217.0 510.7 220.0 510.7 220.3 511.0 227.3 511.0 227.7 511.3 244.3 511.3 244.7 511.7 242.7 515.7 242.7 516.3 241.3 518.7 241.3 519.3 240.3 521.0 240.3 521.7 239.3 523.3 239.0 524.7 393.0 524.7 393.0 524.3 392.0 523.3 392.0 523.0 390.3 521.0 389.7 519.7 388.7 518.7 388.0 517.3 387.0 516.3 386.3 515.0 383.7 511.7 384.0 511.3 390.7 511.3 391.0 511.0 391.7 511.0 392.0 511.3 404.7 511.3 404.7 270.0 299.0 270.0 296.7 274.7 296.7 275.3 295.7 277.0 295.7 277.7 294.7 279.3 294.7 280.0 293.7 281.7 293.7 282.3 292.7 284.0 292.7 284.7 292.0 286.0 289.0 289.0 289.0 289.3 287.0 291.3 287.0 291.7 285.7 293.0 285.7 293.3 283.7 295.7 283.7 296.0 279.7 301.7 278.3 304.3 277.7 305.0 275.3 309.7 274.3 310.7 271.3 309.0 270.3 309.0 270.0 308.7 268.3 308.7 268.0 308.3 265.0 308.3 264.7 308.7 262.7 308.7 262.3 309.0 261.3 309.0 261.0 309.3 258.3 310.0 257.3 310.7 256.7 310.7 253.3 312.3 252.7 313.0 251.7 313.3 251.0 314.0 249.0 315.0 248.0 316.0 247.7 316.0 246.7 317.0 246.3 317.0 245.3 318.0 245.0 318.0 243.3 319.7 243.0 319.7 236.7 325.7 236.0 325.3 235.7 323.0 235.3 322.7 235.3 322.0 235.0 321.7 235.0 321.0 234.7 320.7 234.7 320.0 234.3 319.7 234.3 319.0 234.0 318.7 234.0 318.0 233.7 317.7 233.7 317.0 233.3 316.7 232.7 314.0 232.0 313.0 232.0 312.3 229.3 307.0 229.3 306.3 228.3 305.0 227.0 302.0 226.3 301.3 226.0 300.3 225.3 299.7 224.0 297.3 223.0 296.3 223.0 296.0 222.0 295.0 222.0 294.7 220.3 293.0 220.3 292.7 213.0 285.7 212.7 283.0 212.0 281.7 212.0 280.7 211.7 280.3 211.7 279.3 211.3 279.0 211.0 276.7 210.3 275.3 210.3 274.3 209.7 273.0 209.7 272.0 209.3 271.7 209.3 270.7 209.0 270.0Z" fill="none" stroke="#000" stroke-opacity="0.72" stroke-width="1.2" stroke-dasharray="4.5 1.2"/>
<path d="M115.0 270.0 115.0 400.0 115.7 400.3 120.3 400.3 120.7 400.7 126.3 400.7 126.7 401.0 135.7 401.0 136.0 401.3 148.7 401.3 149.0 401.0 156.7 401.0 157.0 400.7 161.3 400.7 161.7 400.3 165.0 400.3 165.3 400.0 170.7 399.7 171.0 399.3 172.7 399.3 173.0 399.0 174.7 399.0 175.0 398.7 176.7 398.7 177.0 398.3 180.0 398.0 180.3 397.7 181.3 397.7 181.7 397.3 182.7 397.3 183.0 397.0 184.0 397.0 184.3 396.7 186.7 396.3 187.0 396.0 187.7 396.0 188.0 395.7 188.7 395.7 189.0 395.3 189.7 395.3 190.0 395.0 192.7 394.3 193.7 393.7 194.3 393.7 197.0 392.3 197.7 392.7 196.7 394.7 196.7 395.3 195.7 397.0 195.7 397.7 195.0 398.7 195.0 399.3 194.0 401.3 193.7 403.0 193.0 404.0 193.0 404.7 192.7 405.0 192.7 405.7 192.3 406.0 192.3 406.7 192.0 407.0 192.0 407.7 191.7 408.0 191.7 408.7 191.3 409.0 191.3 409.7 191.0 410.0 191.0 410.7 190.3 412.0 190.3 413.0 189.7 414.3 189.7 415.3 189.0 416.7 189.0 417.7 188.7 418.0 188.7 419.0 188.3 419.3 188.3 420.3 188.0 420.7 188.0 421.7 187.7 422.0 187.7 423.0 187.3 423.3 187.3 424.7 187.0 425.0 187.0 426.3 186.7 426.7 186.7 428.0 186.3 428.3 186.3 430.0 186.0 430.3 186.0 432.0 185.7 432.3 185.3 437.3 185.0 437.7 185.0 441.3 184.7 441.7 184.7 454.3 185.0 454.7 185.0 458.0 185.3 458.3 185.3 460.7 185.7 461.0 185.7 463.0 186.0 463.3 186.0 464.7 186.3 465.0 186.7 468.0 187.0 468.3 187.3 470.7 188.0 472.0 188.0 473.0 188.3 473.3 188.3 474.0 188.7 474.3 188.7 475.0 189.0 475.3 189.7 478.0 191.0 480.7 191.0 481.3 194.3 488.0 195.0 488.7 195.3 489.7 196.0 490.3 196.0 490.7 196.7 491.3 198.0 493.7 199.0 494.7 199.0 495.0 200.0 496.0 200.0 496.3 202.3 498.7 202.3 499.0 206.7 503.0 207.0 503.0 208.0 504.0 208.3 504.0 211.0 506.0 214.3 507.7 215.0 507.7 216.0 508.3 216.7 508.3 218.0 509.0 219.0 509.0 219.3 509.3 220.3 509.3 220.7 509.7 221.7 509.7 222.0 510.0 223.7 510.0 224.0 510.3 226.3 510.3 226.7 510.7 230.0 510.7 230.3 511.0 238.3 511.0 238.7 511.3 258.3 511.3 258.7 512.0 257.7 513.3 257.0 515.0 256.3 515.7 255.3 518.0 254.7 518.7 251.7 524.7 385.7 524.7 384.0 523.0 384.0 522.7 382.7 521.3 382.7 521.0 381.3 519.7 381.3 519.3 379.7 517.7 379.7 517.3 375.7 513.0 375.7 512.7 374.7 511.7 375.0 511.3 386.7 511.3 387.0 511.0 389.7 511.0 390.0 510.7 404.7 510.7 404.7 270.0 304.0 270.0 303.3 271.3 303.3 272.0 302.7 273.0 302.7 273.7 301.0 277.0 301.0 277.7 300.3 278.7 300.3 279.3 299.3 281.0 299.3 281.7 298.7 282.7 298.7 283.3 298.0 284.3 297.7 285.7 291.7 292.3 291.7 292.7 290.7 293.7 290.7 294.0 289.7 295.0 289.0 296.3 287.3 298.3 287.0 299.3 285.7 301.0 285.3 302.0 283.7 304.3 283.0 306.0 282.3 306.7 277.7 316.0 277.3 316.0 275.7 314.7 274.3 314.3 272.3 313.3 271.0 313.3 270.7 313.0 265.7 313.0 265.3 313.3 263.7 313.3 263.3 313.7 262.3 313.7 262.0 314.0 259.3 314.7 258.3 315.3 257.7 315.3 254.3 317.0 253.7 317.7 252.7 318.0 252.0 318.7 251.0 319.0 250.3 319.7 249.0 320.3 248.0 321.3 247.7 321.3 246.7 322.3 246.3 322.3 245.0 323.7 244.7 323.7 242.7 325.7 242.3 325.7 233.7 334.3 233.7 334.7 231.3 337.0 231.3 337.3 228.0 341.0 228.0 341.3 226.7 343.0 226.3 342.7 226.3 339.7 226.0 339.3 226.0 334.3 225.7 334.0 225.7 331.0 225.3 330.7 225.0 326.3 224.7 326.0 224.7 324.7 224.3 324.3 224.3 323.0 224.0 322.7 224.0 321.3 223.7 321.0 223.7 320.0 223.3 319.7 223.3 318.7 223.0 318.3 222.7 316.0 222.3 315.7 222.3 315.0 222.0 314.7 222.0 314.0 221.7 313.7 221.7 313.0 221.3 312.7 220.7 310.0 220.0 309.0 220.0 308.3 219.3 307.3 219.3 306.7 216.3 300.7 215.7 300.0 215.3 299.0 214.7 298.3 213.3 296.0 211.0 293.3 211.0 293.0 204.7 286.7 204.3 286.7 203.7 286.0 203.7 285.0 203.3 284.7 203.3 283.0 203.0 282.7 203.0 281.3 202.7 281.0 202.7 279.7 202.3 279.3 202.3 278.3 202.0 278.0 201.7 275.0 201.3 274.7 201.3 273.7 201.0 273.3 201.0 272.3 200.7 272.0 200.7 270.7 200.3 270.0Z" fill="none" stroke="#000" stroke-opacity="0.72" stroke-width="1.2" stroke-dasharray="4.5 1.2"/>
<path d="M309.3 270.0 309.0 271.3 308.3 272.3 308.3 273.0 307.7 274.0 307.7 274.7 307.0 275.7 306.7 277.3 306.0 278.3 306.0 279.0 304.7 281.7 304.7 282.3 304.3 282.7 304.3 283.3 303.7 284.3 303.3 285.7 297.7 292.0 297.7 292.3 296.7 293.3 296.7 293.7 295.7 294.7 295.7 295.0 294.7 296.0 294.7 296.3 292.7 299.0 292.3 300.0 291.7 300.7 291.3 301.7 289.7 304.0 288.0 307.7 287.3 308.3 285.3 312.3 285.3 313.0 283.0 317.3 283.0 318.0 281.7 320.3 281.3 321.7 281.0 322.0 278.3 320.0 277.0 319.3 276.3 319.3 275.3 318.7 272.7 318.3 272.3 318.0 267.7 318.0 267.3 318.3 264.0 318.7 263.7 319.0 263.0 319.0 262.7 319.3 260.0 320.0 257.7 321.3 256.3 321.7 255.7 322.3 254.0 323.0 253.3 323.7 252.3 324.0 251.7 324.7 249.3 326.0 248.3 327.0 248.0 327.0 247.0 328.0 246.7 328.0 245.0 329.7 244.7 329.7 242.3 332.0 242.0 332.0 235.3 338.7 235.3 339.0 231.0 343.7 231.0 344.0 227.0 348.7 227.0 349.0 225.0 351.3 224.3 352.7 223.3 353.7 223.3 354.0 222.7 354.7 222.7 355.0 217.3 362.7 217.0 363.7 216.3 364.3 216.0 365.3 215.3 366.0 215.0 367.0 213.3 369.3 211.0 374.0 210.3 374.7 204.3 386.7 204.3 387.3 203.0 389.7 203.0 390.3 201.0 394.3 201.0 395.0 199.7 397.7 199.3 399.3 198.7 400.3 198.7 401.0 198.3 401.3 197.7 404.0 196.7 406.0 196.7 407.0 196.3 407.3 196.3 408.0 196.0 408.3 196.0 409.0 195.3 410.3 195.3 411.3 194.7 412.7 194.7 413.7 194.0 415.0 194.0 416.0 193.7 416.3 193.7 417.3 193.3 417.7 193.3 419.0 193.0 419.3 193.0 420.3 192.7 420.7 192.7 422.0 192.3 422.3 192.3 423.7 192.0 424.0 192.0 425.3 191.7 425.7 191.7 427.3 191.3 427.7 191.3 429.3 191.0 429.7 190.7 435.0 190.3 435.3 190.3 440.0 190.0 440.3 190.0 449.3 190.3 449.7 190.3 453.7 190.7 454.0 190.7 456.7 191.0 457.0 191.0 459.0 191.3 459.3 191.3 461.0 191.7 461.3 191.7 462.7 192.0 463.0 192.0 464.3 192.3 464.7 192.3 465.7 192.7 466.0 193.0 468.3 193.3 468.7 193.3 469.3 194.0 470.7 194.0 471.7 195.0 473.7 195.3 475.3 196.7 478.0 196.7 478.7 200.0 485.3 200.7 486.0 201.0 487.0 201.7 487.7 201.7 488.0 202.3 488.7 202.3 489.0 203.0 489.7 204.3 492.0 205.7 493.3 205.7 493.7 207.0 495.0 207.0 495.3 212.7 501.0 213.0 501.0 215.7 503.3 216.0 503.3 217.7 504.7 219.3 505.3 220.0 506.0 221.3 506.7 222.0 506.7 223.7 507.7 224.3 507.7 224.7 508.0 225.3 508.0 225.7 508.3 226.3 508.3 227.7 509.0 230.3 509.3 230.7 509.7 232.0 509.7 232.3 510.0 237.0 510.3 237.3 510.7 241.7 510.7 242.0 511.0 251.3 511.0 251.7 511.3 277.0 511.3 277.3 511.7 273.3 516.3 273.3 516.7 272.3 517.7 272.3 518.0 271.0 519.3 270.3 520.7 269.3 521.7 269.3 522.0 267.3 524.7 373.7 524.7 365.0 516.0 364.7 516.0 362.0 513.3 361.7 513.3 360.0 511.7 360.3 511.3 379.3 511.3 379.7 511.0 385.0 511.0 385.3 510.7 386.7 510.7 387.0 510.3 387.7 510.3 389.0 509.7 389.7 509.0 396.3 509.0 396.7 509.3 404.7 509.3 404.7 270.0ZM115.0 270.0 115.0 391.0 131.7 391.0 132.0 390.7 138.7 390.7 139.0 390.3 143.3 390.3 143.7 390.0 146.7 390.0 147.0 389.7 149.7 389.7 150.0 389.3 152.3 389.3 152.7 389.0 154.7 389.0 155.0 388.7 158.7 388.3 159.0 388.0 160.3 388.0 160.7 387.7 162.0 387.7 162.3 387.3 163.7 387.3 164.0 387.0 165.0 387.0 165.3 386.7 166.3 386.7 166.7 386.3 169.0 386.0 170.3 385.3 171.3 385.3 171.7 385.0 172.3 385.0 172.7 384.7 173.3 384.7 173.7 384.3 176.3 383.7 177.3 383.0 178.0 383.0 179.0 382.3 179.7 382.3 182.0 381.0 182.7 381.0 184.7 380.0 185.3 379.3 187.7 378.3 188.3 377.7 188.7 377.7 189.3 377.0 191.7 375.7 192.7 374.7 193.0 374.7 194.0 373.7 194.3 373.7 197.3 370.7 197.7 370.7 198.0 370.0 202.0 365.7 202.0 365.3 203.7 363.3 205.0 360.7 205.7 360.0 207.3 356.7 207.3 356.0 208.3 354.3 208.3 353.7 208.7 353.3 208.7 352.7 209.0 352.3 209.0 351.7 209.3 351.3 209.3 350.7 210.0 349.3 210.0 348.3 210.3 348.0 210.7 345.7 211.0 345.3 211.3 342.0 211.7 341.7 211.7 339.7 212.0 339.3 212.0 336.3 212.3 336.0 212.3 325.7 212.0 325.3 212.0 322.0 211.7 321.7 211.7 319.7 211.3 319.3 211.0 315.7 210.7 315.3 210.7 314.3 210.3 314.0 210.3 313.0 210.0 312.7 209.7 310.3 209.3 310.0 208.7 307.3 208.0 306.3 207.7 304.7 204.7 298.7 204.0 298.0 203.0 296.0 202.0 295.0 202.0 294.7 201.0 293.7 201.0 293.3 199.7 292.0 199.7 291.7 195.3 287.3 195.0 287.3 193.7 286.0 193.7 285.0 193.3 284.7 193.3 282.3 193.0 282.0 193.0 279.7 192.7 279.3 192.7 277.7 192.3 277.3 192.3 275.3 192.0 275.0 192.0 273.3 191.7 273.0 191.7 271.3 191.3 271.0 191.3 270.0Z" fill="none" stroke="#000" stroke-opacity="0.72" stroke-width="1.2" stroke-dasharray="4.5 1.2"/>
<path d="M289.7 524.7 354.3 524.7 353.0 524.0 351.3 522.7 350.3 522.3 349.7 521.7 347.3 520.7 346.7 520.0 343.3 518.3 342.7 518.3 340.3 517.0 339.7 517.0 338.7 516.3 338.0 516.3 337.7 516.0 337.0 516.0 336.7 515.7 336.0 515.7 335.7 515.3 335.0 515.3 334.7 515.0 334.0 515.0 332.7 514.3 331.7 514.3 331.3 514.0 330.0 514.0 329.7 513.7 328.3 513.7 328.0 513.3 326.3 513.3 326.0 513.0 322.7 513.0 322.3 512.7 318.0 512.7 317.7 513.0 314.7 513.0 314.3 513.3 311.0 513.7 310.7 514.0 309.7 514.0 309.3 514.3 308.3 514.3 308.0 514.7 305.3 515.3 304.3 516.0 303.7 516.0 297.7 519.0 297.0 519.7 295.0 520.7 294.0 521.7 292.7 522.3 290.0 524.7ZM315.0 270.0 314.7 270.3 314.3 272.0 313.7 273.0 313.0 275.7 312.3 276.7 312.0 278.3 311.3 279.3 310.7 282.0 310.0 283.0 309.3 285.7 306.7 288.3 306.7 288.7 303.3 292.3 303.3 292.7 302.3 293.7 301.7 295.0 300.7 296.0 300.7 296.3 299.3 298.0 299.0 299.0 298.3 299.7 297.0 302.3 296.3 303.0 294.7 306.7 294.0 307.3 293.3 308.7 293.3 309.3 289.7 316.7 289.7 317.3 288.7 319.0 288.7 319.7 288.0 320.7 288.0 321.3 287.3 322.3 287.3 323.0 286.7 324.0 286.7 324.7 286.0 325.7 286.0 326.3 285.7 326.7 285.3 328.0 284.7 328.3 282.0 326.3 278.7 324.7 278.0 324.7 276.7 324.0 275.3 324.0 275.0 323.7 268.7 323.7 268.3 324.0 266.7 324.0 266.3 324.3 265.3 324.3 265.0 324.7 264.3 324.7 264.0 325.0 261.3 325.7 259.0 327.0 258.3 327.0 257.0 328.0 254.7 329.0 254.0 329.7 253.7 329.7 253.0 330.3 252.7 330.3 252.0 331.0 249.7 332.3 247.0 334.7 246.7 334.7 244.7 336.7 244.3 336.7 235.7 345.3 235.7 345.7 231.7 350.0 231.7 350.3 230.3 351.7 230.3 352.0 226.3 357.0 225.7 358.3 224.7 359.3 224.7 359.7 221.3 364.3 221.0 365.3 219.7 367.0 219.3 368.0 217.7 370.3 217.0 372.0 216.3 372.7 215.7 374.3 215.0 375.0 208.7 387.7 208.7 388.3 207.3 390.7 207.3 391.3 206.7 392.3 206.7 393.0 206.0 394.0 206.0 394.7 204.7 397.3 204.3 399.0 203.7 400.0 203.7 400.7 203.3 401.0 203.3 401.7 203.0 402.0 203.0 402.7 202.7 403.0 202.7 403.7 202.3 404.0 202.3 404.7 202.0 405.0 202.0 405.7 201.7 406.0 201.7 406.7 201.0 408.0 201.0 409.0 200.3 410.3 200.3 411.3 200.0 411.7 200.0 412.7 199.7 413.0 199.7 414.0 199.3 414.3 199.3 415.3 199.0 415.7 199.0 416.7 198.7 417.0 198.7 418.0 198.3 418.3 198.3 419.7 198.0 420.0 198.0 421.3 197.7 421.7 197.7 423.3 197.3 423.7 197.3 425.3 197.0 425.7 196.7 430.3 196.3 430.7 196.3 434.0 196.0 434.3 196.0 448.7 196.3 449.0 196.3 452.0 196.7 452.3 196.7 454.7 197.0 455.0 197.3 458.7 197.7 459.0 197.7 460.0 198.0 460.3 198.0 461.7 198.3 462.0 198.7 464.3 199.3 465.7 199.3 466.7 199.7 467.0 199.7 467.7 200.0 468.0 200.0 468.7 200.3 469.0 201.0 471.7 201.7 472.7 201.7 473.3 202.3 474.3 202.3 475.0 207.3 484.7 208.0 485.3 208.0 485.7 208.7 486.3 210.0 488.7 212.3 491.3 212.3 491.7 214.0 493.3 214.0 493.7 219.0 498.7 219.3 498.7 221.0 500.3 221.3 500.3 223.7 502.3 225.7 503.3 226.3 504.0 228.0 504.7 229.3 505.7 230.0 505.7 231.7 506.7 232.3 506.7 233.3 507.3 234.0 507.3 234.3 507.7 235.0 507.7 236.3 508.3 237.3 508.3 237.7 508.7 238.7 508.7 239.0 509.0 240.0 509.0 240.3 509.3 241.7 509.3 242.0 509.7 243.7 509.7 244.0 510.0 246.3 510.0 246.7 510.3 249.7 510.3 250.0 510.7 255.0 510.7 255.3 511.0 267.3 511.0 267.7 511.3 368.0 511.3 368.3 511.0 376.7 511.0 377.0 510.7 380.0 510.7 380.3 510.3 382.0 510.3 382.3 510.0 383.3 510.0 385.3 509.0 386.7 507.7 387.0 507.0 387.0 505.3 387.3 505.0 389.0 505.0 389.3 505.3 392.7 505.3 393.0 505.7 396.3 505.7 396.7 506.0 400.3 506.0 400.7 506.3 404.7 506.3 404.7 270.0ZM115.0 270.0 115.0 381.0 120.3 381.0 120.7 380.7 125.3 380.7 125.7 380.3 129.0 380.3 129.3 380.0 132.0 380.0 132.3 379.7 134.7 379.7 135.0 379.3 139.3 379.0 139.7 378.7 141.3 378.7 141.7 378.3 143.0 378.3 143.3 378.0 144.7 378.0 145.0 377.7 148.0 377.3 148.3 377.0 149.3 377.0 149.7 376.7 150.7 376.7 151.0 376.3 153.3 376.0 154.7 375.3 155.7 375.3 156.0 375.0 156.7 375.0 157.0 374.7 157.7 374.7 158.0 374.3 160.7 373.7 161.7 373.0 162.3 373.0 165.0 371.7 165.7 371.7 172.3 368.3 173.0 367.7 174.0 367.3 174.7 366.7 177.0 365.3 178.0 364.3 178.3 364.3 179.3 363.3 179.7 363.3 181.3 361.7 181.7 361.7 186.0 357.3 186.0 357.0 187.7 355.3 187.7 355.0 190.3 351.7 190.7 350.7 191.3 350.0 192.0 348.3 192.7 347.7 193.7 345.7 193.7 345.0 194.7 343.3 194.7 342.7 195.3 341.7 195.3 341.0 195.7 340.7 195.7 340.0 196.3 338.7 196.3 337.7 196.7 337.3 196.7 336.3 197.0 336.0 197.0 335.0 197.3 334.7 197.3 333.7 197.7 333.3 198.0 329.3 198.3 329.0 198.3 326.3 198.7 326.0 198.7 317.7 198.3 317.3 198.3 314.3 198.0 314.0 198.0 312.0 197.7 311.7 197.7 310.3 197.3 310.0 197.3 309.0 197.0 308.7 196.7 306.3 196.3 306.0 196.0 304.3 195.3 303.3 195.3 302.7 194.7 301.7 194.7 301.0 193.0 297.7 192.3 297.0 192.0 296.0 191.3 295.3 190.7 294.0 187.7 290.7 187.7 290.3 183.0 286.0 183.0 283.0 182.7 282.7 182.7 278.0 182.3 277.7 182.3 274.3 182.0 274.0 182.0 271.3 181.7 271.0 181.7 270.0Z" fill="none" stroke="#000" stroke-opacity="0.72" stroke-width="1.2" stroke-dasharray="4.5 1.2"/>
<path d="M404.7 270.0 320.7 270.0 320.3 271.3 320.0 271.7 320.0 272.3 319.7 272.7 319.7 273.3 319.0 274.3 319.0 275.0 318.7 275.3 318.7 276.0 318.3 276.3 318.3 277.0 318.0 277.3 318.0 278.0 317.7 278.3 317.7 279.0 317.3 279.3 317.3 280.0 317.0 280.3 316.3 283.0 315.7 284.0 315.3 285.7 310.0 291.7 310.0 292.0 308.0 294.3 308.0 294.7 305.3 298.3 303.7 301.7 303.0 302.3 299.0 310.3 299.0 311.0 296.7 315.7 296.7 316.3 295.3 319.0 295.0 320.7 294.3 321.7 294.0 323.3 293.3 324.3 293.3 325.0 293.0 325.3 293.0 326.0 292.7 326.3 292.7 327.0 292.3 327.3 292.3 328.0 292.0 328.3 292.0 329.0 291.7 329.3 291.7 330.0 291.3 330.3 291.3 331.0 291.0 331.3 291.0 332.0 290.7 332.3 290.7 333.0 290.3 333.3 290.3 334.0 290.0 334.3 290.0 335.0 289.3 336.3 287.7 334.7 287.3 334.7 286.3 333.7 284.3 332.7 283.7 332.0 282.3 331.3 281.7 331.3 280.7 330.7 279.7 330.7 279.3 330.3 278.3 330.3 278.0 330.0 276.0 330.0 275.7 329.7 272.0 329.7 271.7 330.0 269.7 330.0 269.3 330.3 268.0 330.3 267.7 330.7 266.7 330.7 266.3 331.0 265.7 331.0 265.3 331.3 262.7 332.0 256.7 335.0 256.0 335.7 255.0 336.0 254.3 336.7 252.0 338.0 249.7 340.0 249.3 340.0 248.0 341.3 247.7 341.3 245.7 343.3 245.3 343.3 238.3 350.3 238.3 350.7 236.0 353.0 236.0 353.3 234.3 355.0 234.3 355.3 231.7 358.3 231.7 358.7 229.7 361.0 229.0 362.3 228.0 363.3 228.0 363.7 224.7 368.3 224.3 369.3 223.0 371.0 222.7 372.0 222.0 372.7 219.7 377.3 219.0 378.0 214.3 387.3 214.3 388.0 212.0 392.7 212.0 393.3 210.7 396.0 210.3 397.7 209.7 398.7 209.7 399.3 209.3 399.7 209.3 400.3 209.0 400.7 209.0 401.3 208.7 401.7 208.7 402.3 208.3 402.7 208.3 403.3 208.0 403.7 208.0 404.3 207.7 404.7 207.7 405.3 207.0 406.7 207.0 407.7 206.3 409.0 206.3 410.0 206.0 410.3 206.0 411.3 205.7 411.7 205.7 412.7 205.3 413.0 205.3 414.0 205.0 414.3 205.0 415.3 204.7 415.7 204.7 417.0 204.3 417.3 204.3 418.7 204.0 419.0 204.0 420.7 203.7 421.0 203.7 422.7 203.3 423.0 203.3 425.0 203.0 425.3 203.0 427.7 202.7 428.0 202.7 431.3 202.3 431.7 202.3 445.3 202.7 445.7 202.7 448.7 203.0 449.0 203.0 451.3 203.3 451.7 203.7 455.3 204.0 455.7 204.0 457.0 204.3 457.3 204.3 458.3 204.7 458.7 204.7 459.7 205.0 460.0 205.3 462.3 205.7 462.7 205.7 463.3 206.0 463.7 206.0 464.3 206.3 464.7 206.3 465.3 206.7 465.7 206.7 466.3 207.0 466.7 207.7 469.3 208.7 471.0 208.7 471.7 209.7 473.3 209.7 474.0 211.3 477.3 212.0 478.0 212.7 479.7 213.3 480.3 214.7 483.0 216.3 485.0 217.0 486.3 219.3 489.0 219.3 489.3 221.7 491.7 221.7 492.0 225.3 495.7 225.7 495.7 229.3 499.0 229.7 499.0 230.7 500.0 231.0 500.0 233.7 502.0 234.7 502.3 235.3 503.0 240.7 505.7 241.3 505.7 242.3 506.3 243.0 506.3 243.3 506.7 244.0 506.7 244.3 507.0 245.0 507.0 246.3 507.7 247.3 507.7 248.7 508.3 250.0 508.3 250.3 508.7 251.3 508.7 251.7 509.0 253.3 509.0 253.7 509.3 255.3 509.3 255.7 509.7 258.0 509.7 258.3 510.0 261.0 510.0 261.3 510.3 265.3 510.3 265.7 510.7 272.3 510.7 272.7 511.0 291.0 511.0 291.3 511.3 347.3 511.3 347.7 511.0 363.3 511.0 363.7 510.7 369.0 510.7 369.3 510.3 372.0 510.3 372.3 510.0 374.3 510.0 374.7 509.7 377.3 509.3 381.3 507.3 382.7 506.0 383.3 504.7 383.3 504.0 383.7 503.7 383.7 499.3 384.0 499.0 385.7 499.0 386.0 499.3 390.0 499.7 390.3 500.0 392.7 500.0 393.0 500.3 395.0 500.3 395.3 500.7 397.7 500.7 398.0 501.0 400.3 501.0 400.7 501.3 403.0 501.3 403.3 501.7 404.7 501.7ZM171.7 270.0 115.0 270.0 115.0 370.7 116.7 370.7 117.0 370.3 119.0 370.3 119.3 370.0 121.3 370.0 121.7 369.7 125.7 369.3 126.0 369.0 129.3 368.7 129.7 368.3 130.7 368.3 131.0 368.0 132.3 368.0 132.7 367.7 135.3 367.3 136.7 366.7 139.0 366.3 140.3 365.7 141.3 365.7 141.7 365.3 142.3 365.3 142.7 365.0 145.3 364.3 146.3 363.7 148.0 363.3 149.0 362.7 149.7 362.7 151.3 361.7 152.0 361.7 158.0 358.7 161.3 356.3 162.3 356.0 163.3 355.0 163.7 355.0 166.0 353.0 166.3 353.0 168.0 351.3 168.3 351.3 174.3 345.0 174.3 344.7 176.3 342.3 176.3 342.0 177.7 340.3 178.3 338.7 179.0 338.0 180.7 334.7 180.7 334.0 181.7 332.3 181.7 331.7 182.0 331.3 182.0 330.7 182.3 330.3 182.3 329.7 183.0 328.3 183.0 327.3 183.3 327.0 183.3 326.0 183.7 325.7 183.7 324.7 184.0 324.3 184.0 323.0 184.3 322.7 184.3 320.7 184.7 320.3 184.7 316.0 185.0 315.7 185.0 313.7 184.7 313.3 184.7 309.3 184.3 309.0 184.3 307.3 184.0 307.0 183.7 304.3 183.3 304.0 183.3 303.3 183.0 303.0 182.3 300.3 181.3 298.7 181.3 298.0 180.7 296.7 180.0 296.0 179.7 295.0 179.0 294.3 178.3 293.0 177.3 292.0 177.3 291.7 175.3 289.7 175.3 289.3 171.7 286.0 171.7 282.3 172.0 282.0 172.0 274.3 171.7 274.0Z" fill="none" stroke="#000" stroke-opacity="0.72" stroke-width="1.2" stroke-dasharray="4.5 1.2"/>
<path d="M404.7 270.0 326.7 270.0 326.3 270.3 326.3 271.0 326.0 271.3 326.0 272.0 325.7 272.3 325.7 273.0 325.0 274.3 325.0 275.3 324.7 275.7 324.7 276.3 324.3 276.7 324.3 277.3 324.0 277.7 324.0 278.3 323.7 278.7 323.7 279.3 323.3 279.7 323.3 280.3 323.0 280.7 323.0 281.3 322.7 281.7 322.7 282.3 322.0 283.7 321.7 285.7 317.7 290.0 317.7 290.3 316.3 291.7 316.3 292.0 315.3 293.0 314.7 294.3 313.0 296.3 312.7 297.3 311.0 299.7 310.3 301.3 309.7 302.0 307.0 307.3 307.0 308.0 305.7 310.3 305.7 311.0 305.0 312.0 305.0 312.7 304.3 313.7 304.3 314.3 303.0 317.0 302.7 318.7 302.0 319.7 302.0 320.3 301.7 320.7 301.7 321.3 301.3 321.7 301.3 322.3 301.0 322.7 301.0 323.3 300.7 323.7 300.7 324.3 300.3 324.7 300.3 325.3 300.0 325.7 300.0 326.3 299.7 326.7 299.7 327.3 299.0 328.7 299.0 329.7 298.7 330.0 298.7 330.7 298.0 332.0 298.0 333.0 297.3 334.3 297.3 335.3 296.7 336.7 296.7 337.7 296.3 338.0 296.3 339.0 295.7 340.3 295.7 341.3 295.3 341.7 295.3 342.7 295.0 343.0 295.0 344.0 294.3 345.0 292.0 342.7 291.7 342.7 290.3 341.3 290.0 341.3 287.3 339.3 285.3 338.3 284.7 338.3 284.3 338.0 283.7 338.0 283.3 337.7 282.7 337.7 281.3 337.0 279.7 337.0 279.3 336.7 273.0 336.7 272.7 337.0 271.0 337.0 270.7 337.3 269.3 337.3 268.0 338.0 267.0 338.0 266.0 338.7 264.3 339.0 258.3 342.0 257.7 342.7 256.7 343.0 256.0 343.7 253.7 345.0 249.3 348.7 249.0 348.7 246.0 351.7 245.7 351.7 239.3 358.3 239.3 358.7 237.7 360.3 237.7 360.7 236.3 362.0 236.3 362.3 235.0 363.7 235.0 364.0 233.0 366.3 233.0 366.7 228.3 373.3 228.0 374.3 227.3 375.0 226.0 377.7 225.3 378.3 224.0 381.3 223.3 382.0 221.0 386.7 221.0 387.3 219.3 390.3 219.3 391.0 218.3 392.7 218.3 393.3 217.7 394.3 217.7 395.0 216.3 397.7 216.3 398.3 216.0 398.7 216.0 399.3 215.7 399.7 215.7 400.3 215.3 400.7 215.3 401.3 215.0 401.7 215.0 402.3 214.7 402.7 214.7 403.3 214.3 403.7 214.3 404.3 213.7 405.7 213.7 406.7 213.0 408.0 213.0 409.0 212.7 409.3 212.7 410.3 212.3 410.7 212.3 411.7 212.0 412.0 212.0 413.0 211.7 413.3 211.7 414.3 211.3 414.7 211.0 418.0 210.7 418.3 210.7 419.7 210.3 420.0 210.3 422.0 210.0 422.3 210.0 424.7 209.7 425.0 209.7 428.0 209.3 428.3 209.3 443.0 209.7 443.3 209.7 446.3 210.0 446.7 210.0 448.7 210.3 449.0 210.7 452.7 211.0 453.0 211.3 455.7 211.7 456.0 211.7 457.0 212.3 458.3 212.3 459.3 212.7 459.7 212.7 460.3 213.0 460.7 213.0 461.3 213.3 461.7 213.3 462.3 213.7 462.7 214.3 465.3 215.0 466.3 215.0 467.0 216.0 468.7 216.0 469.3 219.0 475.3 219.7 476.0 220.0 477.0 220.7 477.7 221.0 478.7 221.7 479.3 223.0 481.7 224.0 482.7 224.0 483.0 225.0 484.0 225.0 484.3 226.0 485.3 226.0 485.7 228.0 487.7 228.0 488.0 233.7 493.7 234.0 493.7 235.7 495.3 236.0 495.3 238.7 497.7 239.0 497.7 241.7 499.7 242.7 500.0 243.3 500.7 245.0 501.3 245.7 502.0 248.3 503.3 249.0 503.3 250.7 504.3 251.3 504.3 252.3 505.0 253.0 505.0 254.0 505.7 256.0 506.0 256.3 506.3 257.0 506.3 258.3 507.0 259.3 507.0 259.7 507.3 262.0 507.7 262.3 508.0 265.7 508.3 266.0 508.7 267.7 508.7 268.0 509.0 270.0 509.0 270.3 509.3 272.7 509.3 273.0 509.7 276.3 509.7 276.7 510.0 281.0 510.0 281.3 510.3 288.0 510.3 288.3 510.7 302.0 510.7 302.3 511.0 337.0 511.0 337.3 510.7 350.0 510.7 350.3 510.3 356.0 510.3 356.3 510.0 360.0 510.0 360.3 509.7 362.7 509.7 363.0 509.3 366.7 509.0 367.0 508.7 368.0 508.7 368.3 508.3 369.3 508.3 369.7 508.0 371.3 507.7 375.7 505.3 377.7 503.3 379.0 501.0 379.0 500.3 379.3 500.0 379.3 498.7 379.7 498.3 379.7 494.3 379.3 494.0 379.3 492.3 379.0 492.0 379.0 491.0 379.3 490.7 380.0 491.0 381.0 491.0 381.3 491.3 382.7 491.3 383.0 491.7 384.3 491.7 384.7 492.0 386.0 492.0 386.3 492.3 387.7 492.3 388.0 492.7 389.3 492.7 389.7 493.0 392.7 493.3 393.0 493.7 394.7 493.7 395.0 494.0 398.3 494.3 398.7 494.7 400.3 494.7 400.7 495.0 402.3 495.0 402.7 495.3 404.3 495.3 404.7 495.7ZM161.0 270.0 115.0 270.0 115.0 359.3 118.0 359.0 118.3 358.7 119.3 358.7 119.7 358.3 120.7 358.3 121.0 358.0 122.0 358.0 122.3 357.7 124.7 357.3 125.0 357.0 125.7 357.0 127.0 356.3 128.0 356.3 128.3 356.0 131.0 355.3 132.0 354.7 132.7 354.7 134.7 353.7 135.3 353.7 136.3 353.0 137.0 353.0 145.0 349.0 145.7 348.3 146.7 348.0 147.3 347.3 147.7 347.3 148.3 346.7 150.7 345.3 151.7 344.3 152.0 344.3 153.0 343.3 153.3 343.3 155.7 341.0 156.0 341.0 161.0 335.7 161.0 335.3 163.0 333.0 163.0 332.7 164.3 331.0 164.7 330.0 165.3 329.3 167.7 324.7 167.7 324.0 168.3 323.0 168.3 322.3 169.0 321.0 169.0 320.0 169.7 318.7 169.7 317.7 170.0 317.3 170.0 316.0 170.3 315.7 170.3 313.3 170.7 313.0 170.7 306.0 170.3 305.7 170.3 303.7 170.0 303.3 169.7 301.0 169.3 300.7 168.7 298.0 166.7 294.0 166.0 293.3 165.3 292.0 164.3 291.0 164.3 290.7 162.0 288.3 162.0 288.0 161.3 287.7 159.7 286.0 159.7 285.3 160.0 285.0 160.0 283.0 160.3 282.7 160.3 280.0 160.7 279.7 160.7 276.3 161.0 276.0Z" fill="none" stroke="#000" stroke-opacity="0.72" stroke-width="1.2" stroke-dasharray="4.5 1.2"/>
<path d="M404.7 270.0 332.7 270.0 332.3 271.3 332.0 271.7 332.0 272.7 331.7 273.0 331.7 273.7 331.3 274.0 331.3 274.7 330.7 276.0 330.7 277.0 330.3 277.3 330.3 278.0 329.7 279.3 329.7 280.3 329.0 281.7 329.0 282.7 328.7 283.0 328.7 283.7 328.0 285.0 328.0 286.0 323.3 291.0 323.3 291.3 320.7 294.7 320.3 295.7 318.0 299.0 314.0 307.0 314.0 307.7 313.0 309.3 313.0 310.0 311.7 312.7 311.3 314.3 310.7 315.3 310.7 316.0 310.3 316.3 310.3 317.0 310.0 317.3 310.0 318.0 309.7 318.3 309.7 319.0 309.3 319.3 309.3 320.0 309.0 320.3 309.0 321.0 308.7 321.3 308.7 322.0 308.0 323.3 308.0 324.3 307.3 325.7 307.3 326.7 306.7 328.0 306.7 329.0 306.0 330.3 306.0 331.3 305.7 331.7 305.7 332.7 305.3 333.0 305.3 334.0 305.0 334.3 305.0 335.3 304.7 335.7 304.7 336.7 304.3 337.0 304.3 338.0 304.0 338.3 304.0 339.7 303.7 340.0 303.7 341.0 303.3 341.3 303.3 342.7 303.0 343.0 302.7 345.7 302.3 346.0 302.3 347.3 302.0 347.7 302.0 349.0 301.7 349.3 301.7 351.0 301.3 351.3 301.3 352.7 301.0 353.0 301.0 354.7 300.3 355.3 296.0 351.0 295.7 351.0 293.0 348.7 286.3 345.3 285.3 345.3 285.0 345.0 284.0 345.0 283.7 344.7 282.0 344.7 281.7 344.3 275.3 344.3 275.0 344.7 273.3 344.7 273.0 345.0 270.7 345.3 270.3 345.7 269.7 345.7 269.3 346.0 266.7 346.7 265.0 347.7 264.3 347.7 262.3 348.7 261.7 349.3 260.0 350.0 259.3 350.7 259.0 350.7 258.3 351.3 256.0 352.7 253.7 354.7 253.3 354.7 251.7 356.3 251.3 356.3 243.3 364.3 243.3 364.7 241.7 366.3 241.7 366.7 238.0 371.0 236.7 373.3 235.7 374.3 235.7 374.7 234.3 376.3 234.0 377.3 233.3 378.0 232.0 380.7 231.3 381.3 230.7 383.0 230.0 383.7 226.7 390.3 226.7 391.0 225.3 393.3 225.3 394.0 224.7 395.0 224.7 395.7 223.3 398.3 223.3 399.0 223.0 399.3 223.0 400.0 222.7 400.3 222.7 401.0 222.3 401.3 222.3 402.0 222.0 402.3 222.0 403.0 221.7 403.3 221.7 404.0 221.0 405.3 221.0 406.3 220.3 407.7 220.3 408.7 220.0 409.0 220.0 410.0 219.7 410.3 219.7 411.3 219.3 411.7 219.3 412.7 219.0 413.0 219.0 414.3 218.7 414.7 218.7 416.0 218.3 416.3 218.3 418.0 218.0 418.3 218.0 420.0 217.7 420.3 217.7 422.7 217.3 423.0 217.3 426.0 217.0 426.3 217.0 440.0 217.3 440.3 217.3 443.3 217.7 443.7 218.0 447.7 218.3 448.0 218.7 451.0 219.0 451.3 219.0 452.3 219.3 452.7 219.7 455.0 220.3 456.3 220.3 457.3 220.7 457.7 221.3 460.3 222.0 461.3 222.0 462.0 222.7 463.0 222.7 463.7 223.7 465.3 223.7 466.0 226.3 471.3 227.0 472.0 227.3 473.0 228.0 473.7 228.3 474.7 229.0 475.3 230.3 477.7 231.3 478.7 231.3 479.0 232.3 480.0 232.3 480.3 233.3 481.3 233.3 481.7 235.0 483.3 235.0 483.7 241.7 490.3 242.0 490.3 243.7 492.0 244.0 492.0 246.7 494.3 247.0 494.3 250.7 497.0 251.7 497.3 252.3 498.0 254.0 498.7 254.7 499.3 258.0 501.0 258.7 501.0 261.0 502.3 262.7 502.7 263.7 503.3 264.3 503.3 264.7 503.7 265.3 503.7 265.7 504.0 266.3 504.0 266.7 504.3 267.3 504.3 268.7 505.0 269.7 505.0 270.0 505.3 271.0 505.3 271.3 505.7 272.3 505.7 272.7 506.0 273.7 506.0 274.0 506.3 275.0 506.3 275.3 506.7 276.7 506.7 277.0 507.0 278.7 507.0 279.0 507.3 280.7 507.3 281.0 507.7 282.7 507.7 283.0 508.0 285.3 508.0 285.7 508.3 288.3 508.3 288.7 508.7 292.0 508.7 292.3 509.0 296.7 509.0 297.0 509.3 303.3 509.3 303.7 509.7 335.0 509.7 335.3 509.3 341.3 509.3 341.7 509.0 345.7 509.0 346.0 508.7 348.7 508.7 349.0 508.3 351.3 508.3 351.7 508.0 353.3 508.0 353.7 507.7 355.3 507.7 355.7 507.3 356.7 507.3 357.0 507.0 358.3 507.0 359.7 506.3 361.7 506.0 364.3 504.7 365.0 504.7 366.3 503.7 368.3 502.7 369.3 501.7 369.7 501.7 372.3 498.7 372.7 497.7 373.3 497.0 373.3 496.3 374.0 495.3 374.0 494.3 374.3 494.0 374.3 492.3 374.7 492.0 374.7 488.3 374.3 488.0 374.3 486.0 374.0 485.7 374.0 484.3 373.7 484.0 373.7 483.0 373.3 482.7 373.3 481.7 373.0 481.3 373.0 480.7 373.3 480.3 374.7 480.7 375.0 481.0 375.7 481.0 376.0 481.3 377.0 481.3 377.3 481.7 378.0 481.7 379.3 482.3 380.3 482.3 381.7 483.0 384.0 483.3 385.3 484.0 386.3 484.0 386.7 484.3 387.7 484.3 388.0 484.7 389.0 484.7 389.3 485.0 390.3 485.0 390.7 485.3 391.7 485.3 392.0 485.7 393.0 485.7 393.3 486.0 394.3 486.0 394.7 486.3 396.0 486.3 396.3 486.7 397.3 486.7 397.7 487.0 398.7 487.0 399.0 487.3 400.3 487.3 400.7 487.7 402.0 487.7 402.3 488.0 404.7 488.3ZM150.0 270.0 115.0 270.0 115.0 347.3 115.3 347.0 116.0 347.0 116.3 346.7 117.0 346.7 117.3 346.3 120.0 345.7 121.0 345.0 121.7 345.0 122.7 344.3 123.3 344.3 126.3 342.7 127.0 342.7 129.0 341.7 129.7 341.0 132.0 340.0 132.7 339.3 133.7 339.0 134.3 338.3 134.7 338.3 135.3 337.7 137.7 336.3 138.7 335.3 139.0 335.3 143.3 331.3 143.7 331.3 147.7 327.0 147.7 326.7 150.3 323.3 150.7 322.3 151.3 321.7 153.7 317.0 153.7 316.3 154.3 315.3 154.3 314.7 155.0 313.3 155.0 312.3 155.3 312.0 155.3 311.0 155.7 310.7 155.7 308.7 156.0 308.3 156.0 302.0 155.7 301.7 155.7 300.0 155.3 299.7 155.3 298.7 155.0 298.3 154.7 296.7 154.0 295.7 154.0 295.0 153.3 293.7 152.7 293.0 152.3 292.0 150.3 289.7 150.3 289.3 147.0 286.0 147.0 285.3 147.7 284.0 147.7 283.0 148.0 282.7 148.3 280.0 148.7 279.7 148.7 278.3 149.0 278.0 149.0 276.3 149.3 276.0 149.3 274.3 149.7 274.0Z" fill="none" stroke="#000" stroke-opacity="0.72" stroke-width="1.2" stroke-dasharray="4.5 1.2"/>
<path d="M404.7 270.0 339.0 270.0 338.3 271.3 338.3 272.3 337.7 273.7 337.3 276.0 337.0 276.3 336.7 278.3 336.0 279.7 336.0 280.7 335.7 281.0 335.3 283.3 334.7 284.7 334.7 285.7 329.0 292.3 329.0 292.7 327.0 295.3 326.7 296.3 326.0 297.0 325.7 298.0 325.0 298.7 322.0 304.7 322.0 305.3 321.0 307.0 321.0 307.7 320.3 308.7 320.3 309.3 319.7 310.3 319.0 313.0 318.3 314.0 318.3 314.7 317.7 316.0 317.7 317.0 317.3 317.3 317.3 318.0 317.0 318.3 317.0 319.0 316.3 320.3 316.3 321.3 315.7 322.7 315.7 323.7 315.3 324.0 315.3 325.0 315.0 325.3 315.0 326.3 314.7 326.7 314.7 327.7 314.3 328.0 314.3 329.0 314.0 329.3 314.0 330.3 313.7 330.7 313.7 332.0 313.3 332.3 313.3 333.3 313.0 333.7 313.0 335.0 312.7 335.3 312.7 336.7 312.3 337.0 312.3 338.3 312.0 338.7 312.0 340.0 311.7 340.3 311.7 341.7 311.3 342.0 311.3 343.7 311.0 344.0 311.0 345.7 310.7 346.0 310.7 348.0 310.3 348.3 310.3 350.3 310.0 350.7 310.0 352.7 309.7 353.0 309.7 355.3 309.3 355.7 309.3 358.3 309.0 358.7 309.0 362.0 308.7 362.3 308.7 366.3 308.3 366.7 308.3 368.3 308.0 368.7 305.3 365.7 305.3 365.3 299.0 359.3 298.7 359.3 297.7 358.3 297.3 358.3 295.7 357.0 291.0 354.7 290.3 354.7 289.0 354.0 288.0 354.0 287.7 353.7 286.7 353.7 286.3 353.3 284.3 353.3 284.0 353.0 278.7 353.0 278.3 353.3 276.3 353.3 276.0 353.7 274.7 353.7 274.3 354.0 273.3 354.0 273.0 354.3 270.3 355.0 269.3 355.7 268.7 355.7 263.3 358.3 262.7 359.0 262.3 359.0 261.7 359.7 259.3 361.0 257.0 363.0 256.7 363.0 255.0 364.7 254.7 364.7 248.3 371.0 248.3 371.3 246.7 373.0 246.7 373.3 244.0 376.3 243.3 377.7 242.3 378.7 242.3 379.0 239.7 382.7 238.0 386.0 237.3 386.7 233.3 394.7 233.3 395.3 231.7 398.7 231.7 399.3 231.3 399.7 231.0 401.3 230.3 402.3 230.3 403.0 229.7 404.3 229.7 405.3 229.3 405.7 229.3 406.3 228.7 407.7 228.7 408.7 228.3 409.0 228.3 410.0 228.0 410.3 228.0 411.3 227.7 411.7 227.7 413.0 227.3 413.3 227.3 414.3 227.0 414.7 227.0 416.3 226.7 416.7 226.7 418.3 226.3 418.7 226.3 420.7 226.0 421.0 226.0 424.0 225.7 424.3 225.7 437.7 226.0 438.0 226.0 440.7 226.3 441.0 226.7 445.0 227.0 445.3 227.0 446.7 227.3 447.0 227.3 448.3 227.7 448.7 228.0 451.0 228.3 451.3 228.3 452.0 229.0 453.3 229.3 455.3 230.0 456.3 230.3 458.0 231.0 459.0 231.0 459.7 232.0 461.3 232.0 462.0 234.3 466.7 235.0 467.3 235.7 469.0 236.3 469.7 236.3 470.0 237.0 470.7 237.0 471.0 237.7 471.7 239.0 474.0 240.0 475.0 240.0 475.3 241.0 476.3 241.0 476.7 242.7 478.3 242.7 478.7 246.3 482.3 246.3 482.7 246.7 482.7 252.3 488.0 252.7 488.0 253.7 489.0 254.0 489.0 255.0 490.0 255.3 490.0 256.3 491.0 256.7 491.0 258.3 492.3 259.3 492.7 261.7 494.3 269.7 498.3 270.3 498.3 273.0 499.7 273.7 499.7 274.0 500.0 274.7 500.0 275.0 500.3 275.7 500.3 276.0 500.7 276.7 500.7 277.0 501.0 277.7 501.0 279.0 501.7 280.0 501.7 281.3 502.3 282.3 502.3 282.7 502.7 283.7 502.7 284.0 503.0 285.0 503.0 285.3 503.3 286.7 503.3 287.0 503.7 288.3 503.7 288.7 504.0 290.0 504.0 290.3 504.3 292.0 504.3 292.3 504.7 294.0 504.7 294.3 505.0 296.3 505.0 296.7 505.3 299.3 505.3 299.7 505.7 302.7 505.7 303.0 506.0 307.0 506.0 307.3 506.3 315.3 506.3 315.7 506.7 322.0 506.7 322.3 506.3 330.3 506.3 330.7 506.0 334.3 506.0 334.7 505.7 340.0 505.3 340.3 505.0 342.0 505.0 342.3 504.7 343.7 504.7 344.0 504.3 345.3 504.3 345.7 504.0 347.0 504.0 347.3 503.7 348.3 503.7 349.7 503.0 350.7 503.0 352.7 502.0 354.3 501.7 359.0 499.3 359.7 498.7 361.0 498.0 363.7 495.7 363.7 495.3 366.0 492.7 367.3 490.0 367.3 489.3 368.0 488.0 368.0 487.0 368.3 486.7 368.3 484.3 368.7 484.0 368.3 478.0 368.0 477.7 368.0 476.3 367.7 476.0 367.7 475.0 367.3 474.7 367.0 472.3 366.7 472.0 366.7 471.3 366.3 471.0 366.3 470.3 366.0 470.0 366.0 469.3 365.3 468.0 365.3 467.3 365.7 467.0 369.7 469.0 370.3 469.0 371.3 469.7 372.0 469.7 373.0 470.3 373.7 470.3 374.7 471.0 375.3 471.0 378.0 472.3 380.7 473.0 381.7 473.7 382.3 473.7 382.7 474.0 383.3 474.0 383.7 474.3 384.3 474.3 384.7 474.7 385.3 474.7 385.7 475.0 386.3 475.0 386.7 475.3 387.3 475.3 387.7 475.7 388.3 475.7 389.7 476.3 390.7 476.3 391.0 476.7 391.7 476.7 393.0 477.3 394.0 477.3 394.3 477.7 395.0 477.7 396.3 478.3 397.3 478.3 398.7 479.0 399.7 479.0 400.0 479.3 401.0 479.3 402.3 480.0 404.7 480.3ZM138.3 270.0 115.0 270.0 115.0 333.7 116.3 332.7 120.3 330.7 121.0 330.0 121.3 330.0 122.0 329.3 124.3 328.0 127.0 325.7 127.3 325.7 129.7 323.3 130.0 323.3 135.0 317.7 135.0 317.3 136.3 315.7 136.7 314.7 137.3 314.0 138.7 311.3 138.7 310.7 139.3 309.7 139.3 309.0 140.0 307.7 140.0 306.7 140.3 306.3 140.3 304.7 140.7 304.3 140.7 298.7 140.3 298.3 140.3 297.0 140.0 296.7 139.3 294.0 138.3 292.0 137.7 291.3 137.0 290.0 136.0 289.0 136.0 288.7 133.3 286.0 134.3 284.0 134.3 283.3 135.0 282.3 135.0 281.7 135.3 281.3 135.3 280.7 135.7 280.3 135.7 279.7 136.0 279.3 136.0 278.7 136.7 277.3 136.7 276.3 137.3 275.0 137.3 274.0 137.7 273.7 137.7 272.7 138.0 272.3Z" fill="none" stroke="#000" stroke-opacity="0.72" stroke-width="1.2" stroke-dasharray="4.5 1.2"/>
<path d="M404.7 270.0 345.3 270.0 345.0 270.3 345.0 271.3 344.7 271.7 344.3 274.0 343.7 275.3 343.7 276.3 343.3 276.7 343.3 277.7 343.0 278.0 343.0 279.0 342.7 279.3 342.7 280.7 342.3 281.0 342.3 282.0 342.0 282.3 342.0 283.3 341.7 283.7 341.3 286.0 339.0 288.3 339.0 288.7 336.3 291.7 336.3 292.0 334.3 294.7 334.0 295.7 333.3 296.3 333.0 297.3 332.3 298.0 330.0 302.7 330.0 303.3 329.0 305.0 329.0 305.7 327.7 308.3 327.7 309.0 327.3 309.3 327.3 310.0 327.0 310.3 327.0 311.0 326.7 311.3 326.7 312.0 326.3 312.3 326.3 313.0 326.0 313.3 326.0 314.0 325.3 315.3 325.3 316.3 324.7 317.7 324.7 318.7 324.3 319.0 324.3 320.0 323.7 321.3 323.7 322.7 323.3 323.0 323.3 324.0 323.0 324.3 323.0 325.3 322.7 325.7 322.7 327.0 322.3 327.3 322.3 328.7 322.0 329.0 322.0 330.3 321.7 330.7 321.7 332.0 321.3 332.3 321.3 333.7 321.0 334.0 320.7 337.7 320.3 338.0 320.0 342.3 319.7 342.7 319.3 348.0 319.0 348.3 319.0 351.7 318.7 352.0 318.7 356.0 318.3 356.3 318.3 364.7 318.0 365.0 318.0 370.0 318.3 370.3 318.3 377.7 318.7 378.0 318.7 381.7 319.0 382.0 319.0 384.7 319.3 385.0 319.3 387.3 319.0 387.7 317.7 386.0 317.7 385.7 316.7 384.7 316.7 384.3 315.7 383.3 315.7 383.0 314.3 381.7 314.3 381.3 313.0 380.0 313.0 379.7 311.0 377.7 311.0 377.3 305.7 372.0 305.3 372.0 303.7 370.3 303.3 370.3 301.0 368.3 300.0 368.0 299.3 367.3 298.3 367.0 297.7 366.3 296.3 365.7 295.7 365.7 294.7 365.0 294.0 365.0 293.7 364.7 293.0 364.7 291.7 364.0 290.7 364.0 290.3 363.7 289.0 363.7 288.7 363.3 280.3 363.3 280.0 363.7 278.3 363.7 278.0 364.0 277.0 364.0 276.7 364.3 276.0 364.3 275.7 364.7 273.0 365.3 272.0 366.0 271.3 366.0 268.0 367.7 267.3 368.3 266.3 368.7 265.7 369.3 264.3 370.0 263.3 371.0 263.0 371.0 262.0 372.0 261.7 372.0 260.3 373.3 260.0 373.3 254.0 379.3 254.0 379.7 252.3 381.3 252.3 381.7 250.0 384.3 250.0 384.7 247.3 388.3 247.0 389.3 245.3 391.7 242.3 397.7 242.3 398.3 240.7 401.7 240.3 403.3 239.7 404.3 239.7 405.0 239.0 406.3 239.0 407.3 238.7 407.7 238.3 409.7 237.7 411.0 237.7 412.3 237.3 412.7 237.0 415.3 236.7 415.7 236.3 419.7 236.0 420.0 236.0 422.7 235.7 423.0 235.7 435.7 236.0 436.0 236.0 438.3 236.3 438.7 236.7 442.7 237.0 443.0 237.3 445.7 237.7 446.0 237.7 447.0 238.3 448.3 238.3 449.3 238.7 449.7 239.3 452.3 240.0 453.3 240.0 454.0 240.7 455.0 240.7 455.7 241.7 457.3 241.7 458.0 243.3 461.3 244.0 462.0 244.7 463.7 245.3 464.3 245.7 465.3 246.3 466.0 247.0 467.3 248.0 468.3 248.0 468.7 250.0 471.0 250.0 471.3 251.3 472.7 251.3 473.0 254.7 476.3 254.7 476.7 255.3 477.3 255.7 477.3 261.0 482.3 261.3 482.3 263.7 484.3 264.0 484.3 268.7 487.7 270.3 488.3 271.0 489.0 277.0 492.0 277.7 492.0 279.3 493.0 280.0 493.0 281.0 493.7 282.7 494.0 283.7 494.7 284.3 494.7 284.7 495.0 285.3 495.0 286.7 495.7 287.7 495.7 289.0 496.3 290.0 496.3 290.3 496.7 291.3 496.7 291.7 497.0 292.7 497.0 293.0 497.3 294.0 497.3 294.3 497.7 297.3 498.0 297.7 498.3 299.3 498.3 299.7 498.7 301.3 498.7 301.7 499.0 303.7 499.0 304.0 499.3 306.7 499.3 307.0 499.7 311.0 499.7 311.3 500.0 323.7 500.0 324.0 499.7 327.7 499.7 328.0 499.3 330.7 499.3 331.0 499.0 334.7 498.7 335.0 498.3 336.3 498.3 336.7 498.0 339.0 497.7 340.3 497.0 341.3 497.0 341.7 496.7 343.3 496.3 344.3 495.7 345.0 495.7 347.3 494.3 348.0 494.3 348.7 493.7 350.3 493.0 351.0 492.3 352.3 491.7 356.3 488.0 356.3 487.7 357.7 486.3 358.0 485.3 358.7 484.7 359.7 482.7 359.7 482.0 360.0 481.7 360.0 481.0 360.7 479.7 360.7 478.7 361.0 478.3 361.0 476.0 361.3 475.7 361.3 471.7 361.0 471.3 361.0 468.7 360.7 468.3 360.7 466.7 360.3 466.3 360.3 465.3 360.0 465.0 359.7 462.7 359.3 462.3 359.3 461.7 358.7 460.3 358.7 459.3 358.0 458.3 358.0 457.7 357.7 457.3 357.3 455.7 356.7 454.7 356.7 454.0 356.0 453.0 356.0 452.3 354.0 448.3 354.3 447.7 354.7 447.7 357.0 449.7 357.3 449.7 362.0 453.0 363.0 453.3 364.7 454.7 366.3 455.3 367.0 456.0 368.7 456.7 369.3 457.3 379.3 462.3 380.0 462.3 382.3 463.7 383.0 463.7 384.7 464.7 385.3 464.7 386.3 465.3 387.0 465.3 388.0 466.0 388.7 466.0 391.3 467.3 393.0 467.7 394.0 468.3 396.7 469.0 397.7 469.7 398.3 469.7 398.7 470.0 399.3 470.0 399.7 470.3 400.3 470.3 400.7 470.7 401.3 470.7 401.7 471.0 402.3 471.0 403.7 471.7 404.7 471.7ZM126.0 270.0 115.0 270.0 115.0 316.7 117.7 314.0 117.7 313.7 119.3 312.0 119.3 311.7 121.0 309.7 121.3 308.7 122.0 308.0 123.0 306.0 123.0 305.3 123.3 305.0 123.3 304.3 124.0 303.0 124.0 302.0 124.3 301.7 124.3 299.0 124.7 298.3 124.3 298.0 124.3 295.3 124.0 295.0 124.0 294.0 123.3 293.0 123.3 292.3 122.3 290.3 121.7 289.7 121.0 288.3 118.7 286.0 119.7 284.7 120.3 283.0 121.0 282.3 122.7 279.0 122.7 278.3 124.7 274.3 124.7 273.7 125.0 273.3 125.3 271.7 126.0 270.7Z" fill="none" stroke="#000" stroke-opacity="0.72" stroke-width="1.2" stroke-dasharray="4.5 1.2"/>
<path d="M271.0 380.7 269.0 382.3 268.7 382.3 267.3 383.7 267.0 383.7 261.0 389.7 261.0 390.0 258.7 392.7 258.7 393.0 256.7 395.7 256.3 396.7 255.7 397.3 252.3 404.0 252.3 404.7 251.0 407.3 251.0 408.0 250.3 409.3 250.3 410.3 249.7 411.7 249.7 412.7 249.3 413.0 249.0 415.3 248.7 415.7 248.7 417.3 248.3 417.7 248.3 419.3 248.0 419.7 248.0 422.0 247.7 422.3 247.7 433.7 248.0 434.0 248.0 436.3 248.3 436.7 248.3 438.3 248.7 438.7 249.0 441.7 249.3 442.0 249.3 443.0 250.0 444.3 250.0 445.3 250.3 445.7 251.0 448.3 251.7 449.3 251.7 450.0 252.3 451.0 252.3 451.7 255.0 457.0 255.7 457.7 256.0 458.7 256.7 459.3 256.7 459.7 257.3 460.3 258.7 462.7 261.0 465.3 261.0 465.7 266.0 471.0 266.3 471.0 270.7 475.0 271.0 475.0 272.0 476.0 273.3 476.7 275.3 478.3 276.3 478.7 278.7 480.3 285.3 483.7 286.0 483.7 287.7 484.7 290.3 485.3 291.3 486.0 293.3 486.3 294.7 487.0 295.7 487.0 297.0 487.7 298.3 487.7 298.7 488.0 301.3 488.3 301.7 488.7 303.3 488.7 303.7 489.0 305.7 489.0 306.0 489.3 308.7 489.3 309.0 489.7 321.7 489.7 322.0 489.3 324.7 489.3 325.0 489.0 326.7 489.0 327.0 488.7 328.3 488.7 328.7 488.3 331.0 488.0 332.3 487.3 333.3 487.3 334.3 486.7 336.0 486.3 340.7 484.0 341.3 483.3 342.7 482.7 344.0 481.3 344.3 481.3 348.0 477.3 348.0 477.0 348.7 476.3 350.0 474.0 350.0 473.3 350.7 472.3 350.7 471.7 351.3 470.3 351.3 469.3 351.7 469.0 351.7 467.3 352.0 467.0 352.0 459.7 351.7 459.3 351.7 457.3 351.3 457.0 351.0 454.0 350.7 453.7 350.3 451.3 350.0 451.0 350.0 450.3 349.7 450.0 349.7 449.3 349.3 449.0 349.3 448.3 349.0 448.0 349.0 447.3 348.7 447.0 348.0 444.3 347.3 443.3 347.3 442.7 346.7 441.7 346.7 441.0 345.7 439.3 345.7 438.7 344.3 436.3 344.3 435.7 339.3 425.7 338.7 425.0 337.3 422.0 336.7 421.3 334.7 417.3 334.0 416.7 333.7 415.7 333.0 415.0 331.7 412.3 330.3 410.7 330.0 409.7 329.3 409.0 329.3 408.7 328.7 408.0 328.7 407.7 328.0 407.0 328.0 406.7 327.3 406.0 327.3 405.7 326.7 405.0 325.3 402.7 324.3 401.7 323.7 400.3 322.7 399.3 322.7 399.0 321.7 398.0 321.7 397.7 320.7 396.7 320.7 396.3 319.7 395.3 319.7 395.0 318.0 393.3 318.0 393.0 316.0 391.0 316.0 390.7 310.0 384.7 309.7 384.7 306.7 382.0 306.3 382.0 303.7 380.0 302.7 379.7 302.0 379.0 300.0 378.0 299.3 378.0 296.7 376.7 295.7 376.7 295.3 376.3 294.3 376.3 294.0 376.0 293.0 376.0 292.7 375.7 290.0 375.7 289.7 375.3 286.3 375.3 286.0 375.7 283.7 375.7 283.3 376.0 282.0 376.0 281.7 376.3 280.7 376.3 280.3 376.7 278.3 377.0ZM351.7 270.0 351.3 272.0 351.0 272.3 351.0 273.3 350.7 273.7 350.7 275.0 350.3 275.3 350.3 276.3 350.0 276.7 350.0 278.0 349.7 278.3 349.7 279.3 349.3 279.7 349.3 281.0 349.0 281.3 349.0 282.3 348.7 282.7 348.3 285.7 344.3 290.3 344.3 290.7 343.3 291.7 343.3 292.0 342.0 293.7 341.7 294.7 340.0 297.0 337.7 301.7 337.7 302.3 336.7 304.0 336.3 305.7 335.7 306.7 335.7 307.3 335.3 307.7 335.3 308.3 335.0 308.7 335.0 309.3 334.7 309.7 334.7 310.3 334.3 310.7 334.3 311.3 333.7 312.7 333.3 315.0 332.7 316.3 332.3 319.0 332.0 319.3 332.0 320.3 331.7 320.7 331.7 322.0 331.3 322.3 331.3 323.3 331.0 323.7 331.0 325.3 330.7 325.7 330.7 327.0 330.3 327.3 330.3 329.0 330.0 329.3 330.0 331.3 329.7 331.7 329.7 333.7 329.3 334.0 329.3 336.0 329.0 336.3 329.0 339.0 328.7 339.3 328.7 342.7 328.3 343.0 328.3 347.0 328.0 347.3 328.0 356.7 327.7 357.0 327.7 359.0 328.0 359.3 328.0 368.3 328.3 368.7 328.3 372.3 328.7 372.7 329.0 378.0 329.3 378.3 329.7 382.3 330.0 382.7 330.0 384.0 330.3 384.3 330.3 385.7 330.7 386.0 330.7 387.3 331.0 387.7 331.0 388.7 331.3 389.0 331.3 390.0 331.7 390.3 332.0 392.7 332.7 394.0 332.7 395.0 333.0 395.3 333.0 396.0 333.3 396.3 333.3 397.0 333.7 397.3 334.3 400.0 335.0 401.0 335.0 401.7 336.3 404.3 336.3 405.0 337.7 407.3 337.7 408.0 339.7 412.0 340.3 412.7 341.0 414.3 341.7 415.0 343.0 417.7 343.7 418.3 345.0 420.7 348.0 424.3 348.0 424.7 349.3 426.0 349.3 426.3 351.3 428.3 351.3 428.7 359.0 436.3 359.3 436.3 361.7 438.7 362.0 438.7 363.3 440.0 363.7 440.0 365.0 441.3 365.3 441.3 367.7 443.3 368.0 443.3 368.7 444.0 370.0 444.7 371.0 445.7 373.0 446.7 375.7 448.7 376.7 449.0 377.3 449.7 379.0 450.3 379.7 451.0 381.3 451.7 382.0 452.3 392.7 457.7 393.3 457.7 395.7 459.0 396.3 459.0 398.0 460.0 398.7 460.0 399.7 460.7 400.3 460.7 401.3 461.3 402.0 461.3 404.7 462.7 404.7 270.0Z" fill="none" stroke="#000" stroke-opacity="0.72" stroke-width="1.2" stroke-dasharray="4.5 1.2"/>
<path d="M280.0 395.0 279.3 395.7 278.0 396.3 277.0 397.3 276.7 397.3 272.0 402.0 272.0 402.3 270.7 403.7 270.7 404.0 269.3 405.7 266.0 412.3 266.0 413.0 265.7 413.3 265.7 414.0 265.3 414.3 265.3 415.0 264.7 416.3 264.3 419.0 264.0 419.3 264.0 420.7 263.7 421.0 263.7 423.3 263.3 423.7 263.3 432.0 263.7 432.3 263.7 434.7 264.0 435.0 264.3 438.0 264.7 438.3 264.7 439.3 265.0 439.7 265.0 440.3 265.3 440.7 266.0 443.3 267.7 446.7 267.7 447.3 268.7 448.7 269.7 451.0 270.3 451.7 271.7 454.0 274.0 456.7 274.0 457.0 279.7 462.7 280.0 462.7 282.7 465.0 283.0 465.0 286.7 467.7 293.3 471.0 295.0 471.3 296.0 472.0 296.7 472.0 298.0 472.7 299.0 472.7 299.3 473.0 300.3 473.0 300.7 473.3 301.7 473.3 302.0 473.7 303.3 473.7 303.7 474.0 305.0 474.0 305.3 474.3 308.0 474.3 308.3 474.7 316.0 474.7 316.3 474.3 318.7 474.3 319.0 474.0 320.3 474.0 320.7 473.7 321.7 473.7 322.0 473.3 323.0 473.3 323.3 473.0 325.0 472.7 326.7 471.7 328.0 471.3 328.7 470.7 330.7 469.7 334.7 466.0 334.7 465.7 336.3 463.7 337.7 461.0 337.7 460.3 338.3 459.3 338.3 458.3 338.7 458.0 338.7 457.0 339.0 456.7 339.0 454.7 339.3 454.3 339.3 449.0 339.0 448.7 339.0 446.3 338.7 446.0 338.7 444.3 338.3 444.0 338.3 443.0 338.0 442.7 338.0 441.3 337.7 441.0 337.3 439.0 337.0 438.7 336.3 436.0 335.7 435.0 335.3 433.3 334.3 431.7 334.3 431.0 330.0 422.3 329.3 421.7 327.7 418.3 327.0 417.7 327.0 417.3 326.3 416.7 326.3 416.3 325.7 415.7 325.7 415.3 325.0 414.7 323.7 412.3 322.7 411.3 322.7 411.0 321.7 410.0 321.7 409.7 320.3 408.3 320.3 408.0 318.3 406.0 318.3 405.7 313.0 400.3 312.7 400.3 311.0 398.7 310.7 398.7 309.7 397.7 309.3 397.7 306.7 395.7 302.7 393.7 302.0 393.7 301.0 393.0 300.3 393.0 299.0 392.3 296.0 392.0 295.7 391.7 289.3 391.7 289.0 392.0 287.7 392.0 287.3 392.3 286.3 392.3 286.0 392.7 283.3 393.3ZM358.3 270.0 358.0 270.7 358.0 272.0 357.7 272.3 357.7 273.7 357.3 274.0 357.3 275.0 357.0 275.3 357.0 276.7 356.7 277.0 356.7 278.7 356.3 279.0 356.3 280.3 356.0 280.7 356.0 282.0 355.7 282.3 355.3 285.7 350.0 292.3 349.7 293.3 348.3 295.0 345.3 301.0 345.3 301.7 344.0 304.3 344.0 305.0 343.7 305.3 343.7 306.0 343.3 306.3 343.3 307.0 343.0 307.3 343.0 308.0 342.7 308.3 342.7 309.0 342.0 310.3 342.0 311.3 341.7 311.7 341.7 312.7 341.3 313.0 341.3 314.0 341.0 314.3 341.0 315.3 340.7 315.7 340.7 316.7 340.3 317.0 340.0 320.0 339.7 320.3 339.3 324.0 339.0 324.3 339.0 326.3 338.7 326.7 338.7 328.7 338.3 329.0 338.3 331.7 338.0 332.0 338.0 335.0 337.7 335.3 337.7 340.0 337.3 340.3 337.3 358.0 337.7 358.3 337.7 362.7 338.0 363.0 338.0 366.0 338.3 366.3 338.7 371.0 339.0 371.3 339.3 375.0 339.7 375.3 340.0 378.3 340.3 378.7 340.3 379.7 340.7 380.0 340.7 381.0 341.0 381.3 341.0 382.3 341.3 382.7 341.7 385.0 342.3 386.3 342.3 387.3 342.7 387.7 342.7 388.3 343.0 388.7 343.0 389.3 343.3 389.7 344.0 392.3 344.7 393.3 345.0 395.0 345.7 396.0 345.7 396.7 346.7 398.3 346.7 399.0 350.0 405.7 350.7 406.3 351.3 408.0 352.0 408.7 352.3 409.7 353.0 410.3 353.0 410.7 353.7 411.3 353.7 411.7 354.3 412.3 355.7 414.7 356.7 415.7 356.7 416.0 358.7 418.3 358.7 418.7 360.0 420.0 360.0 420.3 362.3 422.7 362.3 423.0 369.7 430.3 370.0 430.3 372.3 432.7 372.7 432.7 375.7 435.3 376.0 435.3 379.7 438.3 381.0 439.0 382.0 440.0 382.3 440.0 384.0 441.3 385.0 441.7 386.7 443.0 387.7 443.3 389.3 444.7 391.0 445.3 391.7 446.0 394.0 447.0 394.7 447.7 404.7 452.7 404.7 270.0Z" fill="none" stroke="#000" stroke-opacity="0.72" stroke-width="1.2" stroke-dasharray="4.5 1.2"/>
</g>
<g stroke="#200000" stroke-opacity="0.5" stroke-width="1.6" style="mix-blend-mode:multiply"><line x1="261" y1="424.5" x2="260.75" y2="286"/><line x1="261" y1="424.5" x2="129.5" y2="512"/><line x1="261" y1="424.5" x2="391" y2="508.5"/></g>
<g stroke="#222" stroke-linecap="round"><line x1="260" y1="285.5" x2="128" y2="511.5" stroke-width="1.8"/><line x1="260.5" y1="285.5" x2="391" y2="511.5" stroke-width="1.8"/><line x1="128" y1="511.5" x2="391" y2="511.5" stroke-width="2.8"/></g>
<line x1="260.75" y1="287" x2="260.8" y2="206.3" stroke="#000" stroke-width="3"/><polygon points="260.75,196.8 266.9,208.3 254.6,208.3" fill="#000"/>
<line x1="129.5" y1="512" x2="51.9" y2="566.7" stroke="#000" stroke-width="2.5"/><polygon points="43.7,572.5 49.8,560.3 57.3,570.9" fill="#000"/>
<line x1="391" y1="508.5" x2="484.1" y2="568.1" stroke="#000" stroke-width="2.5"/><polygon points="492.5,573.5 478.9,572.5 485.9,561.6" fill="#000"/>
<polygon points="300.5,422.7 304.5,434.1 316.6,435.1 307.0,442.5 309.7,454.3 299.8,447.4 289.4,453.7 292.9,442.1 283.7,434.2 295.8,433.9" fill="#dc4a28" stroke="#000" stroke-width="2.6" stroke-linejoin="miter"/>
<circle cx="395.3" cy="512.3" r="9.5" fill="#b04a3a"/>
<rect x="328" y="0" width="572" height="382" fill="#ffffff"/><rect x="414.2" y="44.2" width="457.7" height="268.5" fill="#e5e5e5"/><line x1="414.2" x2="871.9" y1="62.50" y2="62.50" stroke="#fff" stroke-width="1.4"/><line x1="408.8" x2="413.6" y1="62.50" y2="62.50" stroke="#555" stroke-width="1.1"/><text x="358.80" y="68.27" style="font-family:'Liberation Sans';font-style:normal;font-size:16.40px" textLength="44.25" lengthAdjust="spacingAndGlyphs" fill="#555">2.075</text><line x1="414.2" x2="871.9" y1="100.31" y2="100.31" stroke="#fff" stroke-width="1.4"/><line x1="408.8" x2="413.6" y1="100.31" y2="100.31" stroke="#555" stroke-width="1.1"/><text x="358.80" y="106.08" style="font-family:'Liberation Sans';font-style:normal;font-size:16.40px" textLength="44.25" lengthAdjust="spacingAndGlyphs" fill="#555">2.050</text><line x1="414.2" x2="871.9" y1="138.11" y2="138.11" stroke="#fff" stroke-width="1.4"/><line x1="408.8" x2="413.6" y1="138.11" y2="138.11" stroke="#555" stroke-width="1.1"/><text x="358.80" y="143.88" style="font-family:'Liberation Sans';font-style:normal;font-size:16.40px" textLength="44.25" lengthAdjust="spacingAndGlyphs" fill="#555">2.025</text><line x1="414.2" x2="871.9" y1="175.92" y2="175.92" stroke="#fff" stroke-width="1.4"/><line x1="408.8" x2="413.6" y1="175.92" y2="175.92" stroke="#555" stroke-width="1.1"/><text x="358.80" y="181.69" style="font-family:'Liberation Sans';font-style:normal;font-size:16.40px" textLength="44.25" lengthAdjust="spacingAndGlyphs" fill="#555">2.000</text><line x1="414.2" x2="871.9" y1="213.72" y2="213.72" stroke="#fff" stroke-width="1.4"/><line x1="408.8" x2="413.6" y1="213.72" y2="213.72" stroke="#555" stroke-width="1.1"/><text x="358.80" y="219.49" style="font-family:'Liberation Sans';font-style:normal;font-size:16.40px" textLength="44.25" lengthAdjust="spacingAndGlyphs" fill="#555">1.975</text><line x1="414.2" x2="871.9" y1="251.53" y2="251.53" stroke="#fff" stroke-width="1.4"/><line x1="408.8" x2="413.6" y1="251.53" y2="251.53" stroke="#555" stroke-width="1.1"/><text x="358.80" y="257.30" style="font-family:'Liberation Sans';font-style:normal;font-size:16.40px" textLength="44.25" lengthAdjust="spacingAndGlyphs" fill="#555">1.950</text><line x1="414.2" x2="871.9" y1="289.33" y2="289.33" stroke="#fff" stroke-width="1.4"/><line x1="408.8" x2="413.6" y1="289.33" y2="289.33" stroke="#555" stroke-width="1.1"/><text x="358.80" y="295.10" style="font-family:'Liberation Sans';font-style:normal;font-size:16.40px" textLength="44.25" lengthAdjust="spacingAndGlyphs" fill="#555">1.925</text><line x1="413.85" x2="413.85" y1="44.2" y2="312.7" stroke="#fff" stroke-width="1.4"/><line x1="413.85" x2="413.85" y1="313.2" y2="318" stroke="#555" stroke-width="1.1"/><text x="413.85" y="334.6" text-anchor="middle" style="font-family:'Liberation Sans';font-size:15.6px" fill="#555" textLength="8.64" lengthAdjust="spacingAndGlyphs">0</text><line x1="505.71" x2="505.71" y1="44.2" y2="312.7" stroke="#fff" stroke-width="1.4"/><line x1="505.71" x2="505.71" y1="313.2" y2="318" stroke="#555" stroke-width="1.1"/><text x="505.71" y="334.6" text-anchor="middle" style="font-family:'Liberation Sans';font-size:15.6px" fill="#555" textLength="20.57" lengthAdjust="spacingAndGlyphs">10</text><line x1="597.57" x2="597.57" y1="44.2" y2="312.7" stroke="#fff" stroke-width="1.4"/><line x1="597.57" x2="597.57" y1="313.2" y2="318" stroke="#555" stroke-width="1.1"/><text x="597.57" y="334.6" text-anchor="middle" style="font-family:'Liberation Sans';font-size:15.6px" fill="#555" textLength="20.57" lengthAdjust="spacingAndGlyphs">20</text><line x1="689.43" x2="689.43" y1="44.2" y2="312.7" stroke="#fff" stroke-width="1.4"/><line x1="689.43" x2="689.43" y1="313.2" y2="318" stroke="#555" stroke-width="1.1"/><text x="689.43" y="334.6" text-anchor="middle" style="font-family:'Liberation Sans';font-size:15.6px" fill="#555" textLength="20.57" lengthAdjust="spacingAndGlyphs">30</text><line x1="781.29" x2="781.29" y1="44.2" y2="312.7" stroke="#fff" stroke-width="1.4"/><line x1="781.29" x2="781.29" y1="313.2" y2="318" stroke="#555" stroke-width="1.1"/><text x="781.29" y="334.6" text-anchor="middle" style="font-family:'Liberation Sans';font-size:15.6px" fill="#555" textLength="20.57" lengthAdjust="spacingAndGlyphs">40</text><line x1="873.15" x2="873.15" y1="44.2" y2="312.7" stroke="#fff" stroke-width="1.4"/><line x1="873.15" x2="873.15" y1="313.2" y2="318" stroke="#555" stroke-width="1.1"/><text x="873.15" y="334.6" text-anchor="middle" style="font-family:'Liberation Sans';font-size:15.6px" fill="#555" textLength="20.57" lengthAdjust="spacingAndGlyphs">50</text><polyline points="413.9,55.5 423.0,56.1 432.2,56.7 441.4,57.4 450.6,58.0 459.8,58.6 469.0,59.2 478.2,59.8 487.3,60.5 496.5,61.1 505.7,61.7 514.9,62.1 524.1,62.5 533.3,63.0 542.5,63.4 551.6,63.8 560.8,64.2 570.0,64.6 579.2,65.0 588.4,65.4 597.6,65.8 606.8,66.5 615.9,67.2 625.1,66.7 634.3,67.3 643.5,68.0 652.7,68.4 661.9,68.8 671.1,69.2 680.2,69.6 689.4,70.0 698.6,70.4 707.8,70.8 717.0,71.7 726.2,72.0 735.4,72.3 744.5,72.8 753.7,73.3 762.9,74.7 772.1,75.8 781.3,77.0 790.5,78.9 799.7,80.8 808.8,82.5 818.0,84.2 827.2,85.6 836.4,87.0 845.6,87.9 854.8,88.8 864.0,90.5" fill="none" stroke="#0000ff" stroke-width="2.1" stroke-linejoin="round"/><polyline points="413.9,56.0 423.0,59.2 432.2,65.0 441.4,70.8 450.6,76.7 459.8,80.8 469.0,86.7 478.2,99.2 487.3,103.3 496.5,106.7 505.7,114.0 514.9,120.8 524.1,126.7 533.3,131.7 542.5,136.7 551.6,145.0 560.8,147.0 570.0,148.7 579.2,152.5 588.4,155.8 597.6,160.8 606.8,162.5 615.9,163.0 625.1,160.0 634.3,164.2 643.5,166.3 652.7,171.7 661.9,169.7 671.1,173.7 680.2,174.2 689.4,180.8 698.6,183.3 707.8,185.3 717.0,191.7 726.2,199.2 735.4,202.5 744.5,210.0 753.7,221.7 762.9,229.2 772.1,240.3 781.3,246.2 790.5,261.7 799.7,268.3 808.8,275.8 818.0,283.0 827.2,286.7 836.4,297.5 845.6,295.8 854.8,301.7 864.0,293.3" fill="none" stroke="#ff0000" stroke-width="2.1" stroke-dasharray="7.4 3.2" stroke-linejoin="round"/><text x="475.20" y="34.60" style="font-family:'Liberation Sans';font-style:normal;font-size:22.50px" textLength="336.00" lengthAdjust="spacingAndGlyphs" fill="#000">DARTS Search Space Entropy</text><text x="609.80" y="357.60" style="font-family:'Liberation Sans';font-style:normal;font-size:18.65px" textLength="67.02" lengthAdjust="spacingAndGlyphs" fill="#555">Epochs</text><g transform="translate(348.3,214.3) rotate(-90)"><text x="0.00" y="0.00" style="font-family:'Liberation Sans';font-style:normal;font-size:18.70px" textLength="72.63" lengthAdjust="spacingAndGlyphs" fill="#555">Entropy</text></g><rect x="423.1" y="244.25" width="217.3" height="60.2" rx="3" ry="3" fill="#e5e5e5" fill-opacity="0.8" stroke="#d4d4d4" stroke-width="1"/><line x1="429.3" x2="468.7" y1="259.35" y2="259.35" stroke="#0000ff" stroke-width="2.1"/><line x1="429.3" x2="468.7" y1="286.7" y2="286.7" stroke="#ff0000" stroke-width="2.1" stroke-dasharray="7.4 3.2"/><text x="482.60" y="266.00" style="font-family:'Liberation Sans';font-style:normal;font-size:18.93px" textLength="92.45" lengthAdjust="spacingAndGlyphs" fill="#000">PC-DARTS</text><text x="482.60" y="293.00" style="font-family:'Liberation Sans';font-style:normal;font-size:19.21px" textLength="149.81" lengthAdjust="spacingAndGlyphs" fill="#000">GAEA PC-DARTS</text>
<text x="10.40" y="64.50" style="font-family:'Liberation Sans';font-style:normal;font-size:57.05px" textLength="40.44" lengthAdjust="spacingAndGlyphs" fill="#000" stroke="#000" stroke-width="1.4">G</text><text x="52.60" y="67.00" style="font-family:'Liberation Sans';font-style:normal;font-size:29.50px" textLength="123.98" lengthAdjust="spacing" fill="#000" stroke="#000" stroke-width="0.6">eometry-</text><text x="11.60" y="146.00" style="font-family:'Liberation Sans';font-style:normal;font-size:59.61px" textLength="36.36" lengthAdjust="spacingAndGlyphs" fill="#000" stroke="#000" stroke-width="1.4">A</text><text x="48.80" y="147.00" style="font-family:'Liberation Sans';font-style:normal;font-size:29.50px" textLength="65.45" lengthAdjust="spacing" fill="#000" stroke="#000" stroke-width="0.6">ware</text><text x="13.60" y="225.20" style="font-family:'Liberation Sans';font-style:normal;font-size:58.17px" textLength="26.25" lengthAdjust="spacingAndGlyphs" fill="#000" stroke="#000" stroke-width="1.4">E</text><text x="42.40" y="226.00" style="font-family:'Liberation Sans';font-style:normal;font-size:29.50px" textLength="178.21" lengthAdjust="spacing" fill="#000" stroke="#000" stroke-width="0.6">xponentiated</text><text x="11.60" y="305.20" style="font-family:'Liberation Sans';font-style:normal;font-size:57.72px" textLength="35.97" lengthAdjust="spacingAndGlyphs" fill="#000" stroke="#000" stroke-width="1.4">A</text><text x="48.00" y="306.20" style="font-family:'Liberation Sans';font-style:normal;font-size:29.50px" textLength="114.06" lengthAdjust="spacing" fill="#000" stroke="#000" stroke-width="0.6">lgorithm</text>
<text x="367.20" y="422.00" style="font-family:'Liberation Sans';font-style:normal;font-size:47.17px" textLength="272.90" lengthAdjust="spacingAndGlyphs" fill="#000" stroke="#000" stroke-width="0.3">best mixture</text><text x="653.20" y="423.00" style="font-family:'Liberation Serif';font-style:italic;font-size:49.83px" textLength="28.10" lengthAdjust="spacingAndGlyphs" fill="#000">θ</text><text x="681.00" y="423.00" style="font-family:'Liberation Serif';font-style:normal;font-size:53.33px" textLength="25.67" lengthAdjust="spacingAndGlyphs" fill="#000">*</text><text x="440.60" y="513.60" style="font-family:'Liberation Sans';font-style:normal;font-size:44.11px" textLength="364.04" lengthAdjust="spacingAndGlyphs" fill="#000" stroke="#000" stroke-width="0.3">best architecture</text><text x="820.40" y="515.60" style="font-family:'Liberation Serif';font-style:italic;font-size:48.50px" textLength="25.07" lengthAdjust="spacingAndGlyphs" fill="#000">a</text><text x="846.60" y="517.00" style="font-family:'Liberation Serif';font-style:normal;font-size:53.00px" textLength="25.73" lengthAdjust="spacingAndGlyphs" fill="#000">*</text>
</svg>
</body></html>
